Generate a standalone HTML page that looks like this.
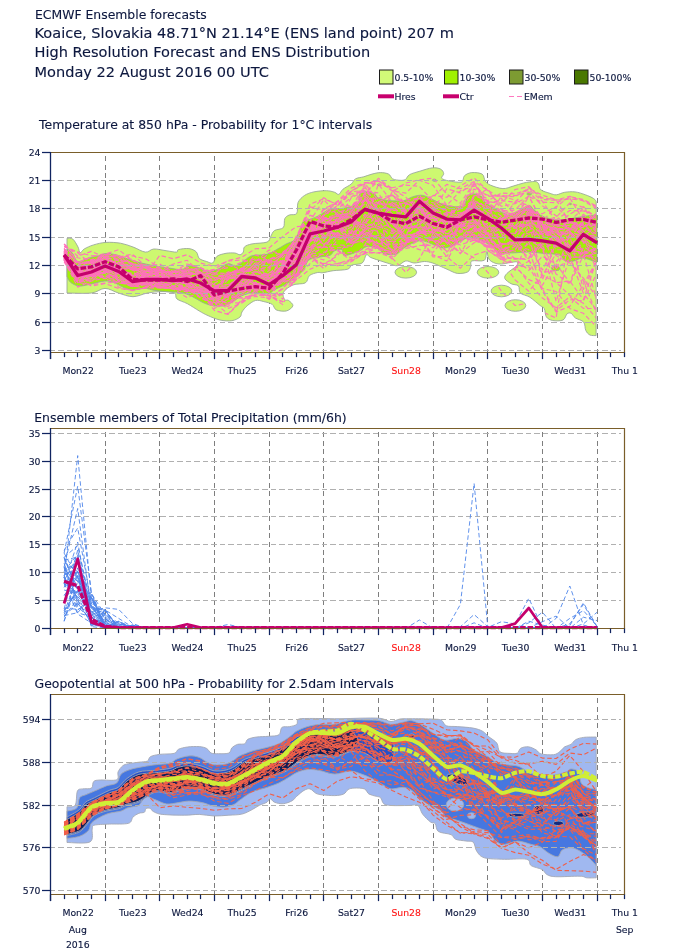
<!DOCTYPE html>
<html><head><meta charset="utf-8"><title>ECMWF Ensemble forecasts</title>
<style>
html,body{margin:0;padding:0;background:#fff}
svg{display:block}
text{font-family:"DejaVu Sans","Liberation Sans",sans-serif;fill:#0c173e;stroke:#0c173e;stroke-width:0.12px}
.t1{font-size:12.4px}.t2{font-size:14.56px}.ct{font-size:12.45px}
.tk{font-size:9.3px}.lg{font-size:9.3px}
.grid line{stroke-width:1;fill:none;shape-rendering:crispEdges}
.gh{stroke:#b0b0b0;stroke-dasharray:5.2 3.3}
.gv{stroke:#7e7e7e;stroke-dasharray:5 3.4}
.ax{stroke:#102460;stroke-width:1.3;fill:none}
.fr{stroke:#7a5e2a;stroke-width:1.2;fill:none}
.tick line{stroke:#102460;stroke-width:1.25}
.mem path{fill:none;stroke-width:1.15;stroke-dasharray:4.5 2.6;stroke-linejoin:round}
.m3 path{stroke-width:1.12}
.m2 path{stroke-width:0.9}
</style></head><body>
<svg width="675" height="951" viewBox="0 0 675 951">
<rect width="675" height="951" fill="#fff"/>
<text class="t1" x="35" y="18.5">ECMWF Ensemble forecasts</text>
<text class="t2" x="34.5" y="38">Koaice, Slovakia 48.71°N 21.14°E (ENS land point) 207 m</text>
<text class="t2" x="34.5" y="57.2">High Resolution Forecast and ENS Distribution</text>
<text class="t2" x="34.5" y="76.8">Monday 22 August 2016 00 UTC</text>
<rect x="379.5" y="70" width="13.5" height="14" fill="#d2fa78" stroke="#1c1c1c" stroke-width="1"/>
<text class="lg" x="394.5" y="80.5">0.5-10%</text>
<rect x="444.5" y="70" width="13.5" height="14" fill="#a0f000" stroke="#1c1c1c" stroke-width="1"/>
<text class="lg" x="459.5" y="80.5">10-30%</text>
<rect x="509.5" y="70" width="13.5" height="14" fill="#7d9b32" stroke="#1c1c1c" stroke-width="1"/>
<text class="lg" x="524.5" y="80.5">30-50%</text>
<rect x="574.5" y="70" width="13.5" height="14" fill="#4a7800" stroke="#1c1c1c" stroke-width="1"/>
<text class="lg" x="589.5" y="80.5">50-100%</text>
<line x1="378" y1="96.3" x2="394" y2="96.3" stroke="#c8006e" stroke-width="4"/>
<text class="lg" x="394.5" y="99.5">Hres</text>
<line x1="443" y1="96.3" x2="459" y2="96.3" stroke="#c8006e" stroke-width="4"/>
<text class="lg" x="459.5" y="99.5">Ctr</text>
<line x1="509" y1="96.5" x2="523" y2="96.5" stroke="#ff78c0" stroke-width="1" stroke-dasharray="5 3"/>
<text class="lg" x="524" y="99.5">EMem</text>
<text class="ct" x="39" y="129">Temperature at 850 hPa - Probability for 1°C intervals</text>
<g class="grid">
<line class="gv" x1="105.5" y1="156.1" x2="105.5" y2="352.6"/>
<line class="gv" x1="159.5" y1="156.1" x2="159.5" y2="352.6"/>
<line class="gv" x1="214.5" y1="156.1" x2="214.5" y2="352.6"/>
<line class="gv" x1="269.5" y1="156.1" x2="269.5" y2="352.6"/>
<line class="gv" x1="323.5" y1="156.1" x2="323.5" y2="352.6"/>
<line class="gv" x1="378.5" y1="156.1" x2="378.5" y2="352.6"/>
<line class="gv" x1="433.5" y1="156.1" x2="433.5" y2="352.6"/>
<line class="gv" x1="487.5" y1="156.1" x2="487.5" y2="352.6"/>
<line class="gv" x1="542.5" y1="156.1" x2="542.5" y2="352.6"/>
<line class="gv" x1="597.5" y1="156.1" x2="597.5" y2="352.6"/>
</g>
<clipPath id="c1"><path d="M67 238.3C68 238.4 71 237.6 72.8 239.1C74.6 240.5 76.8 244.7 78 247C79.2 249.2 79 252.4 80.1 252.8C81.1 253.1 82 250.4 84.2 249C86.5 247.7 89.9 246 93.6 244.9C97.2 243.8 101.5 242.7 106 242.4C110.5 242.1 116 242.5 120.5 243.2C125 244 128.8 245.5 133 247C137.1 248.4 142 251.8 145.4 252.1C148.9 252.5 150.2 249.3 153.7 249C157.2 248.8 162.3 250.2 166.1 250.7C170 251.2 174.5 252.3 176.5 252.1C178.6 252 176.4 250.2 178.5 249.6C180.6 249 185.9 248.2 188.9 248.6C191.9 249 194.6 250.2 196.3 251.9C198 253.6 197.6 256.9 199.3 258.5C201 260.1 204.5 260.8 206.7 261.5C208.9 262.2 210.9 263.9 212.6 263C214.3 262.1 214.8 257.9 217 256.3C219.2 254.7 223 253.9 226 253.3C229 252.8 232.5 252.8 234.8 253C237.1 253.2 238.6 255 240 254.8C241.4 254.6 242.6 253.3 243.3 252C244.1 250.7 243.1 248.2 244.5 246.9C245.9 245.6 248.2 244.7 252 243.9C255.8 243.1 263.9 243.3 267 242.1C270.1 240.9 269.5 238.4 270.7 236.5C271.9 234.6 272.3 232.1 274.4 230.6C276.5 229.1 281.6 229.6 283.3 227.6C285 225.6 283.8 220.8 284.8 218.7C285.8 216.6 287.3 215.9 289.3 215C291.3 214.1 295.2 215.6 296.7 213.5C298.2 211.4 296.8 205.4 298.1 202.4C299.4 199.4 302 197.2 304.6 195.4C307.2 193.7 310.3 192.7 313.9 191.9C317.6 191.1 322.9 190.6 326.4 190.7C329.8 190.7 332.6 191.7 334.7 192.3C336.7 193 337.4 194.9 338.8 194.4C340.2 193.9 340.9 191 343 189.2C345 187.5 349.2 185.8 351.3 184C353.3 182.3 353.3 180.1 355.4 178.9C357.5 177.6 360.9 177.6 363.7 176.8C366.5 176 369.2 174.8 372 174.1C374.8 173.4 377.5 172.6 380.3 172.6C383.1 172.6 386.5 173 388.6 174.1C390.7 175.1 390.8 177.8 392.7 178.9C394.6 179.9 397.9 180.2 400 180.3C402.1 180.4 403.8 180.4 405.4 179.5C407 178.5 407.1 176.1 409.5 174.7C411.9 173.3 416.1 172.3 419.9 171.2C423.7 170 428.9 168.2 432.3 167.9C435.8 167.5 438.7 168.1 440.6 169.1C442.5 170.1 443.6 172.1 443.7 173.7C443.9 175.2 440.8 177 441.7 178.2C442.5 179.4 445.6 180.3 448.9 180.9C452.2 181.5 458.8 182.8 461.4 182C464 181.1 462.8 177.3 464.5 175.7C466.2 174.2 468.8 172.9 471.7 172.6C474.7 172.4 479.9 172.7 482.1 174.1C484.4 175.5 483.8 179.1 485.2 180.9C486.6 182.8 487.5 183.8 490.4 185.1C493.3 186.4 499 188.4 502.9 188.6C506.7 188.8 509.8 187 513.2 186.1C516.7 185.2 520 183.8 523.6 183C527.2 182.2 532.5 181.4 535 181.5C537.5 181.7 537.8 182.7 538.7 184C539.7 185.4 538.9 188.3 540.8 189.8C542.7 191.4 547.6 192.5 550.1 193.4C552.7 194.2 554 195 556.4 194.8C558.8 194.6 561.6 192.8 564.7 192.3C567.8 191.8 571.6 191.5 575 191.9C578.5 192.3 582.3 193.7 585.4 194.8C588.5 195.9 591.9 197.4 593.7 198.6C595.5 199.7 595.8 201.1 596.2 201.7L596.1 335.6C595.1 335.5 591.7 335.8 589.9 335C588.2 334.1 586.8 332.6 585.8 330.4C584.7 328.3 585.4 324.2 583.7 322.1C582 320 577.5 319.4 575.4 318C573.3 316.5 572.6 314.1 571.3 313.4C569.9 312.7 568.5 312.7 567.1 313.8C565.7 314.9 565.4 318.9 563 320C560.5 321.1 555.4 321 552.6 320.5C549.8 319.9 547.8 318.9 546.4 316.9C545 315 545.3 310.5 544.3 308.6C543.3 306.7 542.6 307.4 540.1 305.5C537.7 303.6 533.1 299.3 529.8 297.2C526.5 295.1 522.3 295 520.4 293.1C518.5 291.2 519.9 287.4 518.4 285.8C516.8 284.3 513.4 285 511.1 283.7C508.9 282.5 505.6 280.3 504.9 278.6C504.2 276.8 505.1 275.4 507 273.4C508.9 271.3 514.6 268 516.3 266.1C518 264.2 517.9 262.6 517.1 262C516.2 261.3 514.3 262 511.3 262.4C508.2 262.7 502.4 264.5 498.8 264C495.2 263.6 491.5 262 489.5 259.9C487.5 257.8 487.6 251.5 486.8 251.6C485.9 251.7 486.8 258.7 484.3 260.3C481.8 261.9 474.1 260 471.9 260.9C469.6 261.9 471.5 264.3 470.8 266.1C470.1 267.9 470 270.7 467.7 271.9C465.5 273.1 460.8 273.8 457.3 273.4C453.9 272.9 449.9 270.4 447 269.2C444.1 268 442.4 267.1 440 266.1C437.6 265.1 435.3 263.8 432.7 263C430.1 262.2 427.6 261.5 424.4 261.5C421.3 261.5 417.2 263.1 414.1 263C411 262.9 408.5 260.5 405.8 260.9C403 261.4 400.2 265.2 397.5 265.7C394.7 266.1 392.3 264.5 389.2 263.6C386.1 262.7 381.9 261.3 378.8 260.3C375.7 259.3 372.6 258.3 370.5 257.4C368.4 256.5 367.8 253.8 366.4 254.7C365 255.6 364.6 261.3 362.2 263C359.8 264.7 354.3 264 351.9 265.1C349.4 266.1 350.8 268.3 347.7 269.2C344.6 270.2 337.3 270.1 333.2 270.7C329 271.3 325.4 272.4 322.8 272.7C320.2 273.1 320 272 317.7 272.5C315.5 273 311.5 273.9 309.4 275.6C307.4 277.4 308.1 281.3 305.3 282.9C302.5 284.4 296.5 283.4 292.9 285C289.2 286.5 284.9 289.8 283.5 292.2C282.1 294.6 283.7 298.1 284.6 299.5C285.4 300.9 287.3 299.5 288.7 300.5C290.1 301.6 293.2 304 292.9 305.7C292.5 307.4 289.4 310.2 286.6 310.9C283.9 311.6 278.7 311 276.3 309.9C273.8 308.7 274.2 305.6 272.1 304.3C270 302.9 266.6 302.2 263.8 301.6C261 300.9 258.3 299.8 255.5 300.5C252.8 301.2 249.5 303.8 247.2 305.7C245 307.6 243.2 310 242 311.9C240.8 313.8 241.7 315.5 240 317C238.3 318.5 235.2 320.2 231.9 320.7C228.6 321.2 224 320.9 220 320C216 319.1 211.4 317.1 208 315.6C204.6 314.1 202.7 313 199.3 311C195.9 309 191.1 305.7 187.4 303.7C183.7 301.7 179.2 300.8 177 299C174.8 297.2 176.9 294.2 174.4 293C171.9 291.8 166.5 291.6 162 291.6C157.5 291.6 152.3 292.1 147.5 293C142.6 293.9 137.8 296.7 133 296.7C128.1 296.7 123.1 294.4 118.4 293C113.8 291.6 109.5 288.4 105 288.4C100.5 288.4 97.8 292.2 91.5 293C85.2 293.8 71.1 293 67 293Z"/><rect x="62" y="238" width="6" height="32"/>
<ellipse cx="405.8" cy="272.3" rx="10.8" ry="5.8"/>
<ellipse cx="488" cy="272.3" rx="10.8" ry="5.8"/>
<ellipse cx="501.5" cy="291" rx="10.4" ry="5.8"/>
<ellipse cx="515.4" cy="305.5" rx="10.4" ry="5.8"/>
</clipPath>
<g stroke="#9aa89a" stroke-width="0.9">
<path fill="#cdf870" d="M67 238.3C68 238.4 71 237.6 72.8 239.1C74.6 240.5 76.8 244.7 78 247C79.2 249.2 79 252.4 80.1 252.8C81.1 253.1 82 250.4 84.2 249C86.5 247.7 89.9 246 93.6 244.9C97.2 243.8 101.5 242.7 106 242.4C110.5 242.1 116 242.5 120.5 243.2C125 244 128.8 245.5 133 247C137.1 248.4 142 251.8 145.4 252.1C148.9 252.5 150.2 249.3 153.7 249C157.2 248.8 162.3 250.2 166.1 250.7C170 251.2 174.5 252.3 176.5 252.1C178.6 252 176.4 250.2 178.5 249.6C180.6 249 185.9 248.2 188.9 248.6C191.9 249 194.6 250.2 196.3 251.9C198 253.6 197.6 256.9 199.3 258.5C201 260.1 204.5 260.8 206.7 261.5C208.9 262.2 210.9 263.9 212.6 263C214.3 262.1 214.8 257.9 217 256.3C219.2 254.7 223 253.9 226 253.3C229 252.8 232.5 252.8 234.8 253C237.1 253.2 238.6 255 240 254.8C241.4 254.6 242.6 253.3 243.3 252C244.1 250.7 243.1 248.2 244.5 246.9C245.9 245.6 248.2 244.7 252 243.9C255.8 243.1 263.9 243.3 267 242.1C270.1 240.9 269.5 238.4 270.7 236.5C271.9 234.6 272.3 232.1 274.4 230.6C276.5 229.1 281.6 229.6 283.3 227.6C285 225.6 283.8 220.8 284.8 218.7C285.8 216.6 287.3 215.9 289.3 215C291.3 214.1 295.2 215.6 296.7 213.5C298.2 211.4 296.8 205.4 298.1 202.4C299.4 199.4 302 197.2 304.6 195.4C307.2 193.7 310.3 192.7 313.9 191.9C317.6 191.1 322.9 190.6 326.4 190.7C329.8 190.7 332.6 191.7 334.7 192.3C336.7 193 337.4 194.9 338.8 194.4C340.2 193.9 340.9 191 343 189.2C345 187.5 349.2 185.8 351.3 184C353.3 182.3 353.3 180.1 355.4 178.9C357.5 177.6 360.9 177.6 363.7 176.8C366.5 176 369.2 174.8 372 174.1C374.8 173.4 377.5 172.6 380.3 172.6C383.1 172.6 386.5 173 388.6 174.1C390.7 175.1 390.8 177.8 392.7 178.9C394.6 179.9 397.9 180.2 400 180.3C402.1 180.4 403.8 180.4 405.4 179.5C407 178.5 407.1 176.1 409.5 174.7C411.9 173.3 416.1 172.3 419.9 171.2C423.7 170 428.9 168.2 432.3 167.9C435.8 167.5 438.7 168.1 440.6 169.1C442.5 170.1 443.6 172.1 443.7 173.7C443.9 175.2 440.8 177 441.7 178.2C442.5 179.4 445.6 180.3 448.9 180.9C452.2 181.5 458.8 182.8 461.4 182C464 181.1 462.8 177.3 464.5 175.7C466.2 174.2 468.8 172.9 471.7 172.6C474.7 172.4 479.9 172.7 482.1 174.1C484.4 175.5 483.8 179.1 485.2 180.9C486.6 182.8 487.5 183.8 490.4 185.1C493.3 186.4 499 188.4 502.9 188.6C506.7 188.8 509.8 187 513.2 186.1C516.7 185.2 520 183.8 523.6 183C527.2 182.2 532.5 181.4 535 181.5C537.5 181.7 537.8 182.7 538.7 184C539.7 185.4 538.9 188.3 540.8 189.8C542.7 191.4 547.6 192.5 550.1 193.4C552.7 194.2 554 195 556.4 194.8C558.8 194.6 561.6 192.8 564.7 192.3C567.8 191.8 571.6 191.5 575 191.9C578.5 192.3 582.3 193.7 585.4 194.8C588.5 195.9 591.9 197.4 593.7 198.6C595.5 199.7 595.8 201.1 596.2 201.7L596.1 335.6C595.1 335.5 591.7 335.8 589.9 335C588.2 334.1 586.8 332.6 585.8 330.4C584.7 328.3 585.4 324.2 583.7 322.1C582 320 577.5 319.4 575.4 318C573.3 316.5 572.6 314.1 571.3 313.4C569.9 312.7 568.5 312.7 567.1 313.8C565.7 314.9 565.4 318.9 563 320C560.5 321.1 555.4 321 552.6 320.5C549.8 319.9 547.8 318.9 546.4 316.9C545 315 545.3 310.5 544.3 308.6C543.3 306.7 542.6 307.4 540.1 305.5C537.7 303.6 533.1 299.3 529.8 297.2C526.5 295.1 522.3 295 520.4 293.1C518.5 291.2 519.9 287.4 518.4 285.8C516.8 284.3 513.4 285 511.1 283.7C508.9 282.5 505.6 280.3 504.9 278.6C504.2 276.8 505.1 275.4 507 273.4C508.9 271.3 514.6 268 516.3 266.1C518 264.2 517.9 262.6 517.1 262C516.2 261.3 514.3 262 511.3 262.4C508.2 262.7 502.4 264.5 498.8 264C495.2 263.6 491.5 262 489.5 259.9C487.5 257.8 487.6 251.5 486.8 251.6C485.9 251.7 486.8 258.7 484.3 260.3C481.8 261.9 474.1 260 471.9 260.9C469.6 261.9 471.5 264.3 470.8 266.1C470.1 267.9 470 270.7 467.7 271.9C465.5 273.1 460.8 273.8 457.3 273.4C453.9 272.9 449.9 270.4 447 269.2C444.1 268 442.4 267.1 440 266.1C437.6 265.1 435.3 263.8 432.7 263C430.1 262.2 427.6 261.5 424.4 261.5C421.3 261.5 417.2 263.1 414.1 263C411 262.9 408.5 260.5 405.8 260.9C403 261.4 400.2 265.2 397.5 265.7C394.7 266.1 392.3 264.5 389.2 263.6C386.1 262.7 381.9 261.3 378.8 260.3C375.7 259.3 372.6 258.3 370.5 257.4C368.4 256.5 367.8 253.8 366.4 254.7C365 255.6 364.6 261.3 362.2 263C359.8 264.7 354.3 264 351.9 265.1C349.4 266.1 350.8 268.3 347.7 269.2C344.6 270.2 337.3 270.1 333.2 270.7C329 271.3 325.4 272.4 322.8 272.7C320.2 273.1 320 272 317.7 272.5C315.5 273 311.5 273.9 309.4 275.6C307.4 277.4 308.1 281.3 305.3 282.9C302.5 284.4 296.5 283.4 292.9 285C289.2 286.5 284.9 289.8 283.5 292.2C282.1 294.6 283.7 298.1 284.6 299.5C285.4 300.9 287.3 299.5 288.7 300.5C290.1 301.6 293.2 304 292.9 305.7C292.5 307.4 289.4 310.2 286.6 310.9C283.9 311.6 278.7 311 276.3 309.9C273.8 308.7 274.2 305.6 272.1 304.3C270 302.9 266.6 302.2 263.8 301.6C261 300.9 258.3 299.8 255.5 300.5C252.8 301.2 249.5 303.8 247.2 305.7C245 307.6 243.2 310 242 311.9C240.8 313.8 241.7 315.5 240 317C238.3 318.5 235.2 320.2 231.9 320.7C228.6 321.2 224 320.9 220 320C216 319.1 211.4 317.1 208 315.6C204.6 314.1 202.7 313 199.3 311C195.9 309 191.1 305.7 187.4 303.7C183.7 301.7 179.2 300.8 177 299C174.8 297.2 176.9 294.2 174.4 293C171.9 291.8 166.5 291.6 162 291.6C157.5 291.6 152.3 292.1 147.5 293C142.6 293.9 137.8 296.7 133 296.7C128.1 296.7 123.1 294.4 118.4 293C113.8 291.6 109.5 288.4 105 288.4C100.5 288.4 97.8 292.2 91.5 293C85.2 293.8 71.1 293 67 293Z"/>
<ellipse cx="405.8" cy="272.3" rx="10.8" ry="5.8" fill="#cdf870"/>
<ellipse cx="488" cy="272.3" rx="10.8" ry="5.8" fill="#cdf870"/>
<ellipse cx="501.5" cy="291" rx="10.4" ry="5.8" fill="#cdf870"/>
<ellipse cx="515.4" cy="305.5" rx="10.4" ry="5.8" fill="#cdf870"/>
<path fill="#a2ee08" d="M67 249C67.9 249.6 70.7 251 72.2 252.8C73.7 254.6 74.8 258.5 76 260C77.2 261.5 77.5 262 79.6 261.7C81.7 261.4 85.3 259 88.5 258C91.7 257 96 256.4 99 255.7C102 254.9 103.3 253.6 106.3 253.5C109.2 253.4 113.2 254.1 116.7 255C120.2 255.9 123.3 257.5 127 258.7C130.7 259.9 134.4 261.2 139 262.4C143.6 263.6 149.7 264.9 154.8 265.9C159.9 266.8 165.2 267.5 169.6 268.1C174 268.7 178.3 270 181.5 269.6C184.7 269.2 185.9 266.1 188.9 265.9C191.9 265.6 196.3 267.1 199.3 268.1C202.3 269.1 203.8 271.6 206.7 271.9C209.6 272.1 214.3 270.6 217 269.6C219.7 268.6 221 266.9 223 265.9C225 264.9 226.9 263.7 228.9 263.7C230.9 263.7 233.1 265.8 234.8 265.9C236.5 266 237.2 265.6 238.9 264.6C240.6 263.7 242.6 261.7 244.8 260.2C247 258.7 248.5 256.7 252.2 255.7C255.9 254.7 262.6 255.5 267 254.3C271.4 253.1 275.7 250 278.9 248.3C282.1 246.6 283.6 245.4 286.3 243.9C289 242.4 292.7 242.4 295.2 239.4C297.7 236.4 299.6 229.2 301.1 226.1C302.6 223 302.5 222 304 220.9C305.5 219.8 307.5 220.3 310 219.4C312.5 218.5 315.6 217.4 318.9 215.7C322.2 214 325.5 210.7 329.8 209.4C334.1 208.1 339.9 209 344.6 208C349.3 207 355.5 205.7 358 203.5C360.5 201.3 358.2 196.6 359.4 194.6C360.6 192.6 362.9 191.8 365.4 191.7C367.9 191.6 372.1 192.8 374.3 193.9C376.5 195 376.2 197.2 378.7 198.3C381.1 199.4 384.8 200.2 389 200.6C393.2 201 400 201.2 403.9 200.6C407.8 200 409.2 197.8 412.4 196.9C415.5 196 419.1 194.8 422.8 195.4C426.5 196 430.7 198.9 434.6 200.6C438.6 202.3 442.1 204.7 446.5 205.7C450.9 206.7 458.1 207.1 461.3 206.5C464.5 205.9 464.7 203.7 465.7 202C466.7 200.3 465.7 197.4 467.2 196.1C468.7 194.8 472.1 193.8 474.6 193.9C477.1 194 480.3 195.6 482 196.9C483.7 198.2 483 200.2 485 202C487 203.8 490.6 206 493.9 208C497.2 210 502.5 212.7 505 213.9C507.5 215.1 506.5 215.6 508.9 215C511.3 214.4 516 212.2 519.3 210.6C522.6 209 526.4 205.5 528.9 205.4C531.4 205.3 531.6 208 534 209.8C536.4 211.7 538.8 214.8 543 216.5C547.2 218.2 554.1 219.9 559.3 220.2C564.5 220.4 569.1 218.8 574 218C578.9 217.2 585.1 216.2 588.9 215.7C592.7 215.2 595.6 215.1 597 215L597 262.4C594.7 261.7 586.8 258.2 583 258C579.2 257.8 577 260.4 574 260.9C571 261.4 567.7 261.9 565.2 260.9C562.8 259.9 562.8 256.2 559.3 255C555.8 253.8 549.3 254 544.4 253.5C539.5 253 534.5 252.1 529.6 252C524.7 251.9 518.9 252.6 514.8 252.8C510.7 253 507.5 252.8 505 253C502.5 253.2 501.7 254.7 499.8 253.9C497.9 253.1 496.9 250.2 493.9 248C490.9 245.8 485.7 242.3 482 240.6C478.3 238.9 474.6 237.8 471.7 237.6C468.8 237.3 467.3 237.9 464.3 239.1C461.3 240.3 457.4 243.5 453.9 245C450.4 246.5 446.7 248 443.5 248C440.3 248 438.6 246.2 434.6 245C430.7 243.8 424.9 240.1 419.8 240.6C414.7 241.1 407.8 245.8 403.9 248C400 250.2 399.7 252.9 396.5 253.9C393.3 254.9 387.8 254.9 384.6 253.9C381.4 252.9 380.1 249.2 377.2 248C374.2 246.8 369.9 246 366.9 246.5C363.9 247 363.1 249.4 359.4 250.9C355.7 252.4 347.6 255.7 344.6 255.4C341.7 255.2 343.4 250.2 341.7 249.4C340 248.7 336.3 249.9 334.3 250.9C332.3 251.9 332.4 254.4 329.8 255.4C327.2 256.4 322.4 256.4 318.9 257.2C315.3 258 311 258.2 308.5 260.2C306 262.2 306.2 266.1 304 269.1C301.8 272.1 298.1 275.5 295.2 278C292.2 280.5 289.8 281.9 286.3 283.9C282.8 285.9 277.4 288.2 274.4 289.8C271.4 291.4 271.9 293 268.5 293.5C265.1 294 258.1 292.4 253.7 292.8C249.3 293.2 245.5 294.1 241.9 295.7C238.3 297.3 235.1 300.5 231.9 302.2C228.8 303.9 226.5 305.4 223 305.9C219.5 306.4 214.6 305.8 211.1 305.2C207.6 304.6 205.4 303.7 202.2 302.2C199 300.7 195.3 297.9 191.9 296.3C188.5 294.7 185.2 293.3 181.5 292.6C177.8 291.9 174 292.3 169.6 291.9C165.2 291.5 158.9 291 154.8 290.4C150.7 289.8 148.4 288.4 144.8 288.3C141.2 288.2 136.5 289.9 133 289.8C129.5 289.7 127.2 288.8 124 287.6C120.8 286.4 116.9 283.5 113.7 282.4C110.5 281.3 108.5 280.8 104.8 281C101.1 281.2 95.7 283.1 91.5 283.9C87.3 284.7 83.1 286.2 79.6 286C76.1 285.8 72.8 284 70.7 282.4C68.6 280.8 67.6 277.5 67 276.5Z"/>
<ellipse cx="555.7" cy="268.4" rx="4.2" ry="2.2" fill="#a2ee08"/>
<ellipse cx="434.4" cy="180.2" rx="2" ry="1" fill="#a2ee08"/>
<ellipse cx="529.2" cy="194" rx="2.4" ry="1.1" fill="#a2ee08"/>
<ellipse cx="379" cy="184.8" rx="1.6" ry="0.9" fill="#a2ee08"/>
<ellipse cx="296" cy="248" rx="1.5" ry="0.8" fill="#a2ee08"/>
<ellipse cx="570.5" cy="204" rx="1" ry="0.7" fill="#a2ee08"/>
</g>
<g class="mem" stroke="#ff72bc" clip-path="url(#c1)">
<path d="M64.1 259.2L77.7 282.9L91.4 277.7L105.1 270.9L118.7 280.9L132.4 282.9L146.1 283.3L159.7 282.1L173.4 286.4L187.1 286L200.7 297.8L214.4 304.4L228.1 296.6L241.7 284.9L255.4 288.3L269.1 286.7L282.7 264.3L296.4 237.8L310.1 215.3L323.8 220.7L337.4 226.5L351.1 232.8L364.8 198.6L378.4 215.7L392.1 220.4L405.8 240.2L419.4 233.2L433.1 233.3L446.8 221.7L460.4 220.7L474.1 204.5L487.8 218L501.4 220.5L515.1 212.5L528.8 205.6L542.4 231.2L556.1 237.4L569.8 257.1L583.4 257.1L597.1 252.8"/>
<path d="M64.1 258.7L77.7 277.8L91.4 274.7L105.1 271L118.7 280.5L132.4 286.8L146.1 284.4L159.7 283.5L173.4 288.9L187.1 289.8L200.7 290.6L214.4 296.6L228.1 296.9L241.7 297.9L255.4 295L269.1 295.8L282.7 301.8L296.4 274.6L310.1 255.2L323.8 246.8L337.4 232.7L351.1 241.2L364.8 231.6L378.4 238L392.1 250L405.8 235.1L419.4 223.1L433.1 211.5L446.8 218.9L460.4 205.5L474.1 188.9L487.8 195.3L501.4 196.2L515.1 195.6L528.8 191.9L542.4 205.9L556.1 215.7L569.8 229.9L583.4 214.3L597.1 228.2"/>
<path d="M64.1 251L77.7 272L91.4 275.1L105.1 266.1L118.7 263.2L132.4 267.9L146.1 271.7L159.7 270.4L173.4 276.6L187.1 272.1L200.7 273.3L214.4 280.3L228.1 273.7L241.7 268.2L255.4 263.1L269.1 262.8L282.7 264.6L296.4 242.1L310.1 206.9L323.8 210L337.4 201.3L351.1 188.1L364.8 182.6L378.4 184.4L392.1 187.8L405.8 185.1L419.4 186.4L433.1 201.1L446.8 204.9L460.4 208L474.1 200.6L487.8 207.7L501.4 209L515.1 217.3L528.8 214.7L542.4 222.5L556.1 236.1L569.8 245.4L583.4 254.6L597.1 249.5"/>
<path d="M64.1 251.8L77.7 277.3L91.4 276L105.1 276.5L118.7 278.2L132.4 284.1L146.1 283.2L159.7 285.3L173.4 281.2L187.1 283.6L200.7 293.7L214.4 288.2L228.1 294.9L241.7 284.2L255.4 278.2L269.1 280.7L282.7 271.9L296.4 267.2L310.1 241.6L323.8 215.9L337.4 205.7L351.1 191.8L364.8 190.3L378.4 201.9L392.1 195.4L405.8 203L419.4 212.8L433.1 215.2L446.8 238L460.4 244.9L474.1 240.1L487.8 233.6L501.4 251.8L515.1 250.1L528.8 224.7L542.4 225.6L556.1 245L569.8 235.7L583.4 289.4L597.1 260.3"/>
<path d="M64.1 257.7L77.7 271.9L91.4 273.7L105.1 263L118.7 269L132.4 275.9L146.1 271.4L159.7 275L173.4 278L187.1 279.6L200.7 291.4L214.4 289.6L228.1 277.3L241.7 278.2L255.4 284.1L269.1 299.2L282.7 287.9L296.4 276.1L310.1 238L323.8 229.5L337.4 234L351.1 227.2L364.8 206.9L378.4 215.7L392.1 209.5L405.8 216.8L419.4 218.3L433.1 218.5L446.8 212.2L460.4 212.8L474.1 212.8L487.8 217L501.4 196.1L515.1 200L528.8 205.9L542.4 220.4L556.1 217.2L569.8 203L583.4 207.4L597.1 226.4"/>
<path d="M64.1 255.7L77.7 267.2L91.4 262.8L105.1 266.6L118.7 274.4L132.4 286.4L146.1 278.8L159.7 282.5L173.4 279.5L187.1 279.7L200.7 279.4L214.4 290.2L228.1 278.4L241.7 267.9L255.4 260.3L269.1 259.5L282.7 252.3L296.4 241.4L310.1 231.3L323.8 227.7L337.4 220.9L351.1 243.8L364.8 240.7L378.4 247.6L392.1 252.4L405.8 242.2L419.4 233.5L433.1 231.2L446.8 243.3L460.4 238.3L474.1 231.7L487.8 223.3L501.4 244.4L515.1 241.2L528.8 239.6L542.4 248.5L556.1 241.9L569.8 231.8L583.4 242.1L597.1 249.9"/>
<path d="M64.1 259.8L77.7 280.5L91.4 273.8L105.1 266.8L118.7 269.3L132.4 274.1L146.1 278.9L159.7 275.4L173.4 280.7L187.1 275.5L200.7 283.8L214.4 295.8L228.1 287.8L241.7 272.9L255.4 279.5L269.1 270.5L282.7 252.9L296.4 256.1L310.1 228.7L323.8 214.9L337.4 205.9L351.1 193.9L364.8 192L378.4 211.6L392.1 220.6L405.8 225L419.4 207L433.1 214.3L446.8 235.2L460.4 221.1L474.1 207.7L487.8 226.3L501.4 217.6L515.1 218L528.8 218L542.4 233.9L556.1 237.1L569.8 229.5L583.4 231.2L597.1 223"/>
<path d="M64.1 257.8L77.7 277.5L91.4 286.1L105.1 283.5L118.7 288.5L132.4 290.1L146.1 288.1L159.7 285.8L173.4 288.9L187.1 289L200.7 292.7L214.4 310.5L228.1 314.4L241.7 301L255.4 296.4L269.1 298L282.7 289L296.4 270.3L310.1 257.1L323.8 264.2L337.4 255.8L351.1 236.9L364.8 233.9L378.4 248L392.1 248.2L405.8 241.6L419.4 231.5L433.1 223.3L446.8 221.5L460.4 226.3L474.1 218.7L487.8 234.1L501.4 251L515.1 238.6L528.8 219.3L542.4 224.7L556.1 240.1L569.8 249.8L583.4 237.6L597.1 239.1"/>
<path d="M64.1 257.1L77.7 268.7L91.4 266.2L105.1 263.4L118.7 270.5L132.4 280L146.1 275.8L159.7 284.2L173.4 286L187.1 290.7L200.7 292.3L214.4 308.6L228.1 299.1L241.7 293.2L255.4 284.4L269.1 280.9L282.7 273.1L296.4 256.7L310.1 240.7L323.8 238L337.4 223.2L351.1 237.1L364.8 214.2L378.4 222.3L392.1 239L405.8 225.3L419.4 227.7L433.1 229.3L446.8 233.5L460.4 232.7L474.1 225.2L487.8 242.3L501.4 257.3L515.1 259.2L528.8 258.4L542.4 245.2L556.1 274L569.8 283.9L583.4 255.5L597.1 257.8"/>
<path d="M64.1 246.3L77.7 251.9L91.4 255.8L105.1 256.3L118.7 257L132.4 254.1L146.1 266.7L159.7 275.3L173.4 273.1L187.1 277.4L200.7 278.6L214.4 293.2L228.1 273.2L241.7 276.7L255.4 266.3L269.1 285.4L282.7 272.7L296.4 254.5L310.1 233L323.8 224.9L337.4 215.2L351.1 217.5L364.8 197.8L378.4 224.4L392.1 214L405.8 216.5L419.4 211.7L433.1 203.6L446.8 211.9L460.4 216.2L474.1 205.8L487.8 229.5L501.4 227.2L515.1 228.3L528.8 220.3L542.4 230.1L556.1 234.5L569.8 233.4L583.4 240L597.1 236.8"/>
<path d="M64.1 254.8L77.7 267.8L91.4 266L105.1 259.6L118.7 263.9L132.4 270.1L146.1 271.3L159.7 273.5L173.4 280.4L187.1 283.7L200.7 283.4L214.4 294L228.1 290.5L241.7 288.5L255.4 277.4L269.1 274.2L282.7 266L296.4 247.4L310.1 238.9L323.8 237.9L337.4 235.4L351.1 242.2L364.8 235.9L378.4 248L392.1 259L405.8 244.7L419.4 249.6L433.1 252.3L446.8 236L460.4 230.3L474.1 240.5L487.8 245.4L501.4 255.2L515.1 232.8L528.8 209.3L542.4 219.3L556.1 219.9L569.8 210.5L583.4 211L597.1 215.3"/>
<path d="M64.1 253.5L77.7 270.7L91.4 273.4L105.1 260.6L118.7 260.1L132.4 263.9L146.1 267.8L159.7 269.1L173.4 274.4L187.1 274.7L200.7 272.4L214.4 274.9L228.1 276.3L241.7 275.4L255.4 263.3L269.1 278L282.7 267.2L296.4 250L310.1 224.6L323.8 219L337.4 226.4L351.1 239.3L364.8 219.4L378.4 211.3L392.1 221.9L405.8 221.8L419.4 214.3L433.1 238.8L446.8 229.1L460.4 221.6L474.1 228.4L487.8 246.5L501.4 258.1L515.1 270.4L528.8 239.4L542.4 275L556.1 253.8L569.8 256.4L583.4 293.4L597.1 310.6"/>
<path d="M64.1 257.4L77.7 280.8L91.4 280.3L105.1 276.1L118.7 282.9L132.4 284.8L146.1 282.7L159.7 286.8L173.4 283.3L187.1 289.7L200.7 295.9L214.4 299.7L228.1 302.6L241.7 303.1L255.4 293.4L269.1 295L282.7 304.6L296.4 277.6L310.1 263.5L323.8 252.1L337.4 249.8L351.1 258.1L364.8 253.9L378.4 247.2L392.1 252.3L405.8 239.1L419.4 231.2L433.1 232L446.8 241.7L460.4 253.7L474.1 229.8L487.8 243.7L501.4 254.2L515.1 246.2L528.8 249.5L542.4 288.6L556.1 291.5L569.8 308.5L583.4 313.3L597.1 327.5"/>
<path d="M64.1 250.8L77.7 267.5L91.4 259.6L105.1 256L118.7 257.2L132.4 255.8L146.1 259L159.7 267.7L173.4 271.1L187.1 267.1L200.7 272.4L214.4 277.9L228.1 274.1L241.7 275L255.4 283.5L269.1 289.6L282.7 277.4L296.4 274.7L310.1 236.2L323.8 213.9L337.4 202L351.1 191.1L364.8 182.9L378.4 180.8L392.1 190.7L405.8 203.4L419.4 208.2L433.1 229.9L446.8 227.1L460.4 238.1L474.1 240.4L487.8 242.1L501.4 256.9L515.1 264.3L528.8 283.2L542.4 298L556.1 307.8L569.8 296.8L583.4 308.4L597.1 308.6"/>
<path d="M64.1 256.6L77.7 277.9L91.4 271.9L105.1 262.5L118.7 268.8L132.4 281L146.1 276.1L159.7 273.3L173.4 280.8L187.1 276.2L200.7 286.1L214.4 297.4L228.1 303.7L241.7 294.8L255.4 289.4L269.1 289.5L282.7 279.8L296.4 274.6L310.1 247.4L323.8 234.5L337.4 236.9L351.1 233.1L364.8 226.6L378.4 231.7L392.1 241.3L405.8 241.8L419.4 231.4L433.1 239.3L446.8 256.7L460.4 268.2L474.1 255L487.8 250.6L501.4 259L515.1 267.1L528.8 279.6L542.4 285.3L556.1 261.9L569.8 247.4L583.4 236.2L597.1 271.5"/>
<path d="M64.1 249.8L77.7 264L91.4 262L105.1 258.4L118.7 266.1L132.4 268.9L146.1 273.7L159.7 278.4L173.4 278.5L187.1 276.2L200.7 282.8L214.4 285.5L228.1 287.3L241.7 283.8L255.4 285.5L269.1 287.9L282.7 282.8L296.4 277.5L310.1 256.8L323.8 265L337.4 263.6L351.1 259.5L364.8 250L378.4 243.8L392.1 244.7L405.8 242.4L419.4 235L433.1 240.6L446.8 251.2L460.4 236.7L474.1 239L487.8 246.5L501.4 246.9L515.1 251.3L528.8 243.9L542.4 225.4L556.1 232.9L569.8 233.5L583.4 241L597.1 260"/>
<path d="M64.1 260.4L77.7 282L91.4 269.8L105.1 262L118.7 269L132.4 275.5L146.1 272.4L159.7 275.8L173.4 279.2L187.1 275.3L200.7 272.5L214.4 283.4L228.1 274.8L241.7 273.5L255.4 275.8L269.1 275.3L282.7 270.3L296.4 253.2L310.1 229.5L323.8 208.5L337.4 203.1L351.1 206.3L364.8 193.3L378.4 219.5L392.1 204.3L405.8 222.5L419.4 228.7L433.1 232.7L446.8 225.2L460.4 213.6L474.1 220.6L487.8 234.4L501.4 255.1L515.1 249.5L528.8 233.2L542.4 229.4L556.1 232L569.8 245.9L583.4 231.6L597.1 228.6"/>
<path d="M64.1 255L77.7 269.9L91.4 266L105.1 258.9L118.7 263.5L132.4 266.9L146.1 267.3L159.7 270L173.4 272.3L187.1 269.4L200.7 268.8L214.4 273.5L228.1 264.5L241.7 269.9L255.4 269.6L269.1 261.8L282.7 254.1L296.4 238.7L310.1 204.1L323.8 198.8L337.4 204.4L351.1 191.5L364.8 183.4L378.4 200.5L392.1 213.7L405.8 242.5L419.4 240L433.1 240.5L446.8 241.2L460.4 238.3L474.1 234.4L487.8 246.4L501.4 245.7L515.1 219.3L528.8 220.8L542.4 280L556.1 242.4L569.8 247.1L583.4 256L597.1 235.5"/>
<path d="M64.1 244L77.7 256.2L91.4 251.4L105.1 257.4L118.7 260.5L132.4 268.6L146.1 269L159.7 272.1L173.4 281.3L187.1 288.6L200.7 298.2L214.4 302.9L228.1 313.9L241.7 300L255.4 293.2L269.1 296.2L282.7 278.9L296.4 274.7L310.1 255.7L323.8 260L337.4 239.6L351.1 236.4L364.8 237.4L378.4 243.5L392.1 244.5L405.8 228.2L419.4 227.1L433.1 227.6L446.8 238.9L460.4 253L474.1 242.8L487.8 237L501.4 252.1L515.1 241.5L528.8 261L542.4 272.5L556.1 270.6L569.8 233.7L583.4 235.2L597.1 236.4"/>
<path d="M64.1 249.6L77.7 257.8L91.4 260.4L105.1 260.7L118.7 262.2L132.4 266.4L146.1 270.1L159.7 270.4L173.4 271.7L187.1 264L200.7 267.7L214.4 272.8L228.1 273.5L241.7 268.1L255.4 269.7L269.1 266.8L282.7 255.3L296.4 246.7L310.1 235.6L323.8 209L337.4 209.1L351.1 197.2L364.8 187.6L378.4 212.8L392.1 229.6L405.8 204.4L419.4 198.2L433.1 211.5L446.8 222.8L460.4 220.8L474.1 195.2L487.8 198.2L501.4 249.9L515.1 245L528.8 257.4L542.4 241.1L556.1 242L569.8 221L583.4 225.8L597.1 234.7"/>
<path d="M64.1 256.1L77.7 275.5L91.4 270.2L105.1 279.3L118.7 282.6L132.4 285.4L146.1 284.4L159.7 277.6L173.4 279.8L187.1 291.3L200.7 288.4L214.4 289.1L228.1 276.7L241.7 278.2L255.4 274.1L269.1 287.8L282.7 277.3L296.4 250.7L310.1 226.5L323.8 224.4L337.4 214L351.1 214.6L364.8 218.2L378.4 204.1L392.1 204L405.8 199.9L419.4 198.1L433.1 196.8L446.8 184.4L460.4 188.7L474.1 181.5L487.8 190.4L501.4 198.4L515.1 215.1L528.8 210.5L542.4 224.2L556.1 230.3L569.8 222L583.4 236.5L597.1 234.8"/>
<path d="M64.1 253.1L77.7 267.4L91.4 275.2L105.1 275L118.7 276.2L132.4 283.8L146.1 284.6L159.7 287.8L173.4 287.8L187.1 288.3L200.7 287L214.4 293.2L228.1 279.5L241.7 276L255.4 271.6L269.1 277.1L282.7 266.1L296.4 255.1L310.1 227.3L323.8 245.5L337.4 229.7L351.1 222.8L364.8 222.6L378.4 228.8L392.1 233.4L405.8 227.1L419.4 200.5L433.1 209.9L446.8 188.7L460.4 192.9L474.1 182L487.8 202.9L501.4 210.9L515.1 210.1L528.8 195.7L542.4 222.1L556.1 225.8L569.8 225.5L583.4 224.4L597.1 215.8"/>
<path d="M64.1 259.5L77.7 279.8L91.4 278.8L105.1 271.7L118.7 274L132.4 277.3L146.1 279.3L159.7 280L173.4 278.5L187.1 272.7L200.7 275.1L214.4 277.9L228.1 274L241.7 269.4L255.4 272.1L269.1 268.8L282.7 260.6L296.4 254.8L310.1 229.1L323.8 217.6L337.4 224.5L351.1 208.5L364.8 194.4L378.4 203.5L392.1 204.9L405.8 211.2L419.4 224L433.1 214.8L446.8 213.5L460.4 208L474.1 183.9L487.8 201.9L501.4 203.1L515.1 189.5L528.8 186.6L542.4 199.6L556.1 200.3L569.8 198.9L583.4 200.2L597.1 207.1"/>
<path d="M64.1 253.7L77.7 275.5L91.4 275.6L105.1 272.9L118.7 287.2L132.4 290.7L146.1 287.5L159.7 284.6L173.4 281.9L187.1 283.6L200.7 290.1L214.4 300.5L228.1 303.3L241.7 290.4L255.4 290.8L269.1 299.3L282.7 293.9L296.4 274.3L310.1 256.3L323.8 268.6L337.4 253.3L351.1 252.4L364.8 251.6L378.4 246.1L392.1 255.2L405.8 243L419.4 235.2L433.1 225.7L446.8 215.5L460.4 208.8L474.1 191.4L487.8 202.4L501.4 200.6L515.1 202.1L528.8 188.3L542.4 195.2L556.1 199.7L569.8 222.8L583.4 225.7L597.1 223.2"/>
<path d="M64.1 259.2L77.7 266L91.4 261.8L105.1 263.1L118.7 271.4L132.4 277.9L146.1 273.2L159.7 270.2L173.4 276.5L187.1 269.9L200.7 285.8L214.4 288L228.1 276.9L241.7 280.6L255.4 276L269.1 273.3L282.7 264.2L296.4 256.2L310.1 231.7L323.8 218.9L337.4 216.3L351.1 218.7L364.8 227.8L378.4 219.9L392.1 228.8L405.8 238.1L419.4 239.7L433.1 256.9L446.8 256.3L460.4 237.8L474.1 223.3L487.8 214.4L501.4 228.5L515.1 227.8L528.8 234.2L542.4 234L556.1 228.6L569.8 230.7L583.4 252.1L597.1 248.9"/>
<path d="M64.1 255.2L77.7 269.4L91.4 266.5L105.1 269.8L118.7 268.4L132.4 267.7L146.1 264.8L159.7 268.1L173.4 275.7L187.1 272.6L200.7 271.3L214.4 269.4L228.1 260.5L241.7 257.3L255.4 248.8L269.1 247.9L282.7 236.6L296.4 226.6L310.1 225.9L323.8 226.8L337.4 212.4L351.1 208.4L364.8 184.2L378.4 180.9L392.1 188.3L405.8 214.9L419.4 221.7L433.1 225L446.8 229.1L460.4 214.5L474.1 202.7L487.8 212.8L501.4 248.1L515.1 258.8L528.8 270.3L542.4 256.2L556.1 263.9L569.8 282.8L583.4 247L597.1 254.1"/>
<path d="M64.1 246.7L77.7 252.8L91.4 263.9L105.1 257.6L118.7 259.9L132.4 263.1L146.1 268.2L159.7 272.8L173.4 272.6L187.1 271.1L200.7 278.2L214.4 288L228.1 290.4L241.7 290.3L255.4 286.9L269.1 284.6L282.7 267.1L296.4 250.1L310.1 238.7L323.8 243.8L337.4 244.8L351.1 246L364.8 228.6L378.4 213.3L392.1 218.9L405.8 228.2L419.4 225L433.1 211.9L446.8 220.7L460.4 221.2L474.1 228.7L487.8 244.9L501.4 244.8L515.1 241.7L528.8 229.7L542.4 235L556.1 227.9L569.8 252.9L583.4 243.2L597.1 230.2"/>
<path d="M64.1 257.9L77.7 281.2L91.4 280.9L105.1 268.9L118.7 270.6L132.4 280L146.1 274.4L159.7 277.9L173.4 276.7L187.1 285L200.7 294.1L214.4 290.6L228.1 287.1L241.7 273.5L255.4 264.7L269.1 260.5L282.7 269.9L296.4 249.5L310.1 249.1L323.8 240.4L337.4 218.1L351.1 215.8L364.8 193.7L378.4 178.3L392.1 188.9L405.8 197.2L419.4 212L433.1 216L446.8 237.8L460.4 225.5L474.1 196.4L487.8 189L501.4 209.7L515.1 227.7L528.8 225.3L542.4 239.1L556.1 255.6L569.8 263.1L583.4 278.2L597.1 298.1"/>
<path d="M64.1 260.3L77.7 271L91.4 271.2L105.1 264.2L118.7 269.6L132.4 282.3L146.1 286.4L159.7 286.6L173.4 288.8L187.1 290.2L200.7 289.1L214.4 286.4L228.1 285.7L241.7 274.6L255.4 267.1L269.1 259.4L282.7 255.4L296.4 242.6L310.1 234.2L323.8 234.1L337.4 233L351.1 220.3L364.8 199.5L378.4 206L392.1 224.4L405.8 216L419.4 194.5L433.1 218.5L446.8 219.4L460.4 227.2L474.1 220.5L487.8 235.3L501.4 228.4L515.1 242L528.8 213.6L542.4 218.7L556.1 228.5L569.8 228.7L583.4 223.1L597.1 239.1"/>
<path d="M64.1 254.3L77.7 271L91.4 262.7L105.1 264.2L118.7 267.5L132.4 281.6L146.1 273.7L159.7 274.9L173.4 274.6L187.1 275.4L200.7 285.2L214.4 296.1L228.1 293.7L241.7 283.1L255.4 289.5L269.1 281.4L282.7 276L296.4 273.7L310.1 252L323.8 230.3L337.4 235.4L351.1 235.6L364.8 230.8L378.4 219.6L392.1 207L405.8 202.3L419.4 198.2L433.1 207.3L446.8 215.7L460.4 221.1L474.1 209.6L487.8 213.3L501.4 233.3L515.1 233.2L528.8 224.1L542.4 249.6L556.1 282.7L569.8 281L583.4 299.7L597.1 258.5"/>
<path d="M64.1 253.6L77.7 270.8L91.4 267.9L105.1 260.7L118.7 268L132.4 269.8L146.1 277.4L159.7 277.8L173.4 282L187.1 279.7L200.7 277.2L214.4 294.4L228.1 297.9L241.7 290.6L255.4 288L269.1 278.2L282.7 266.2L296.4 260.3L310.1 256.3L323.8 254.3L337.4 263.5L351.1 261.2L364.8 252.5L378.4 252.6L392.1 252.8L405.8 248.5L419.4 245.5L433.1 245.2L446.8 245.5L460.4 225.3L474.1 201.9L487.8 234.4L501.4 234.5L515.1 241.4L528.8 242.5L542.4 270.1L556.1 241.7L569.8 238.9L583.4 219.2L597.1 217.8"/>
<path d="M64.1 255.6L77.7 272.2L91.4 274.2L105.1 266.7L118.7 267.4L132.4 275.3L146.1 284.1L159.7 287.4L173.4 288.9L187.1 291.9L200.7 292.9L214.4 300.9L228.1 296.7L241.7 280.3L255.4 283.9L269.1 286.9L282.7 281.2L296.4 279.9L310.1 269.2L323.8 263.3L337.4 265.6L351.1 261.8L364.8 252.9L378.4 253L392.1 257.1L405.8 242.6L419.4 239.3L433.1 236.3L446.8 242.4L460.4 239.7L474.1 237.4L487.8 248.2L501.4 257.5L515.1 266L528.8 266.8L542.4 289.1L556.1 310.9L569.8 299.7L583.4 301L597.1 272.5"/>
<path d="M64.1 251.9L77.7 274L91.4 269.3L105.1 269.9L118.7 273L132.4 284.1L146.1 281L159.7 283.4L173.4 280.1L187.1 281.2L200.7 283.3L214.4 299.3L228.1 287.1L241.7 275.5L255.4 282.2L269.1 291.3L282.7 277.9L296.4 248.8L310.1 234.2L323.8 229.9L337.4 225.4L351.1 222.2L364.8 200.4L378.4 197.9L392.1 195L405.8 204.3L419.4 200.6L433.1 202.8L446.8 207.1L460.4 215.9L474.1 202.8L487.8 206.1L501.4 216.3L515.1 215.5L528.8 221.7L542.4 228.7L556.1 228.8L569.8 249.2L583.4 235.2L597.1 239.4"/>
<path d="M64.1 252.6L77.7 268.9L91.4 264.5L105.1 257.8L118.7 265.3L132.4 264L146.1 268.3L159.7 278.3L173.4 277.7L187.1 272.9L200.7 275.6L214.4 287.1L228.1 290.6L241.7 285.5L255.4 285.5L269.1 278.4L282.7 271.5L296.4 253.3L310.1 239.7L323.8 236.6L337.4 217.7L351.1 207.8L364.8 216.2L378.4 210.7L392.1 202.7L405.8 209.5L419.4 207.8L433.1 195.4L446.8 197.3L460.4 185.9L474.1 178L487.8 190.6L501.4 206.3L515.1 203.7L528.8 196.5L542.4 221.3L556.1 206.5L569.8 219.9L583.4 230.8L597.1 242.9"/>
<path d="M64.1 258.1L77.7 278.4L91.4 266.2L105.1 266.6L118.7 273L132.4 284.7L146.1 273.4L159.7 282.5L173.4 287.3L187.1 290L200.7 290.3L214.4 294.2L228.1 286.6L241.7 273.9L255.4 266.3L269.1 252.8L282.7 254.3L296.4 238.1L310.1 224.4L323.8 229.6L337.4 219L351.1 218.6L364.8 225.2L378.4 244L392.1 234.4L405.8 222.2L419.4 209.3L433.1 222.8L446.8 227.9L460.4 227.6L474.1 222.2L487.8 240.5L501.4 256.9L515.1 258.4L528.8 259.7L542.4 291.2L556.1 311.9L569.8 306.4L583.4 284.7L597.1 259.8"/>
<path d="M64.1 248.3L77.7 263.7L91.4 262.3L105.1 258.1L118.7 258.8L132.4 269.3L146.1 267.7L159.7 269.4L173.4 275.3L187.1 279.7L200.7 293.6L214.4 302.4L228.1 306.6L241.7 293.2L255.4 285.9L269.1 285.9L282.7 265.5L296.4 253L310.1 247.2L323.8 246.7L337.4 247.8L351.1 246.8L364.8 228.5L378.4 226.4L392.1 231.1L405.8 213.4L419.4 206.8L433.1 222.1L446.8 236.9L460.4 231.4L474.1 225.9L487.8 233.6L501.4 224.7L515.1 223.2L528.8 212.4L542.4 213.7L556.1 206.8L569.8 196.6L583.4 199.5L597.1 206.4"/>
<path d="M64.1 262L77.7 282.7L91.4 267.1L105.1 269.4L118.7 272.6L132.4 283.6L146.1 283.5L159.7 287.8L173.4 282.7L187.1 282.2L200.7 276.4L214.4 281.1L228.1 273.1L241.7 271.6L255.4 270.1L269.1 260.7L282.7 263.2L296.4 236L310.1 210.5L323.8 197.7L337.4 205.2L351.1 206.9L364.8 200.7L378.4 234.2L392.1 240.2L405.8 227.3L419.4 227.2L433.1 215.5L446.8 218.4L460.4 225.6L474.1 227.9L487.8 238.4L501.4 237.8L515.1 217.3L528.8 205.3L542.4 223.8L556.1 230.7L569.8 227.1L583.4 227.4L597.1 219.2"/>
<path d="M64.1 254.6L77.7 274L91.4 276.5L105.1 264.6L118.7 280.2L132.4 279L146.1 274.2L159.7 276.3L173.4 280.3L187.1 277L200.7 290.7L214.4 300.5L228.1 308.5L241.7 303L255.4 290.4L269.1 282.7L282.7 270.7L296.4 261.8L310.1 236.3L323.8 223.3L337.4 237.8L351.1 236.4L364.8 233.2L378.4 228.2L392.1 223.2L405.8 235.3L419.4 232.4L433.1 226.7L446.8 226.6L460.4 225L474.1 225.7L487.8 240.5L501.4 246.8L515.1 268.3L528.8 261.3L542.4 240.7L556.1 241L569.8 245.9L583.4 250.2L597.1 260"/>
<path d="M64.1 258.8L77.7 269.2L91.4 265.5L105.1 254.5L118.7 255.4L132.4 263.6L146.1 266.9L159.7 264L173.4 272L187.1 273.7L200.7 273.9L214.4 285.2L228.1 284.3L241.7 282.4L255.4 271.9L269.1 274L282.7 260.3L296.4 256.5L310.1 236.8L323.8 229.2L337.4 234.2L351.1 243.5L364.8 240.1L378.4 243.3L392.1 250.2L405.8 241.9L419.4 233.7L433.1 225.3L446.8 218.4L460.4 227.4L474.1 235.1L487.8 238.4L501.4 232.4L515.1 233.7L528.8 214.8L542.4 227.9L556.1 227.4L569.8 221.1L583.4 208.3L597.1 222.3"/>
<path d="M64.1 244L77.7 262.6L91.4 261.6L105.1 257.4L118.7 264.7L132.4 267.6L146.1 271.3L159.7 272L173.4 271.7L187.1 277.6L200.7 279.7L214.4 280.3L228.1 271.9L241.7 270.4L255.4 269.5L269.1 267.4L282.7 261.2L296.4 257.6L310.1 249.8L323.8 239.4L337.4 228.8L351.1 240.7L364.8 229.7L378.4 240L392.1 237.3L405.8 226.4L419.4 216.8L433.1 230.2L446.8 230.1L460.4 219.8L474.1 206.7L487.8 221L501.4 224.8L515.1 225.7L528.8 214.9L542.4 236.6L556.1 240L569.8 228.1L583.4 217.3L597.1 231.9"/>
<path d="M64.1 248.7L77.7 264.8L91.4 261L105.1 254.4L118.7 257.8L132.4 264L146.1 278.5L159.7 281.3L173.4 277.3L187.1 275L200.7 278.1L214.4 297.6L228.1 293.4L241.7 290.4L255.4 284L269.1 291.2L282.7 282L296.4 267.5L310.1 252.5L323.8 218.2L337.4 219.7L351.1 233.6L364.8 224.7L378.4 202L392.1 195L405.8 210.2L419.4 203.5L433.1 205.5L446.8 210.4L460.4 220.7L474.1 212.7L487.8 227.7L501.4 216.5L515.1 213.3L528.8 209.6L542.4 233.8L556.1 231.8L569.8 232.2L583.4 236.1L597.1 226.3"/>
<path d="M64.1 259.9L77.7 282.5L91.4 284.6L105.1 283L118.7 281.7L132.4 286L146.1 287.8L159.7 287.8L173.4 288.9L187.1 297.6L200.7 292L214.4 289.4L228.1 273.1L241.7 271.9L255.4 260L269.1 262.9L282.7 253.6L296.4 241.5L310.1 229.6L323.8 227.4L337.4 224L351.1 221.1L364.8 238L378.4 235.3L392.1 245.8L405.8 247.3L419.4 240.3L433.1 247.8L446.8 234.9L460.4 242.4L474.1 228.6L487.8 234.2L501.4 237.1L515.1 225.9L528.8 223.9L542.4 219.1L556.1 225L569.8 214.2L583.4 206.7L597.1 219.2"/>
<path d="M64.1 255.9L77.7 272.9L91.4 274L105.1 266L118.7 262L132.4 268.5L146.1 274.2L159.7 255.4L173.4 258.7L187.1 254.7L200.7 263.1L214.4 266.4L228.1 261L241.7 260L255.4 261.8L269.1 249.9L282.7 254.9L296.4 251.4L310.1 223.4L323.8 220.4L337.4 215.8L351.1 218.2L364.8 231.7L378.4 246.6L392.1 254.4L405.8 243.6L419.4 231.1L433.1 232.5L446.8 237.8L460.4 227.1L474.1 236.5L487.8 233.2L501.4 219.7L515.1 202L528.8 207.9L542.4 219.3L556.1 224.8L569.8 221.3L583.4 227.3L597.1 212.1"/>
<path d="M64.1 260.3L77.7 287.1L91.4 281L105.1 278.1L118.7 279.5L132.4 286.6L146.1 282L159.7 284.8L173.4 285.6L187.1 289.3L200.7 289.7L214.4 292.2L228.1 290.4L241.7 289.6L255.4 276.5L269.1 275.1L282.7 268.8L296.4 252.3L310.1 226L323.8 218.1L337.4 214.5L351.1 229.3L364.8 244.8L378.4 249.7L392.1 251.3L405.8 243.1L419.4 238.2L433.1 254.9L446.8 261L460.4 236.1L474.1 234.2L487.8 250.2L501.4 259.7L515.1 279.9L528.8 291.2L542.4 275.5L556.1 282.2L569.8 295.5L583.4 303.3L597.1 318.9"/>
<path d="M64.1 251.5L77.7 261.7L91.4 263.4L105.1 254.1L118.7 249.7L132.4 260.4L146.1 267.9L159.7 270.3L173.4 264L187.1 260.3L200.7 273.2L214.4 277.4L228.1 278.5L241.7 279.1L255.4 275L269.1 278.1L282.7 269L296.4 243L310.1 229.4L323.8 214.6L337.4 210.3L351.1 216.4L364.8 203.6L378.4 202.5L392.1 210.4L405.8 210.4L419.4 201.9L433.1 232.9L446.8 252.1L460.4 238.1L474.1 228.2L487.8 212.5L501.4 218.7L515.1 219.8L528.8 207.4L542.4 216.3L556.1 237L569.8 254L583.4 253.6L597.1 261.9"/>
<path d="M64.1 257.9L77.7 276.9L91.4 271.9L105.1 271L118.7 267.1L132.4 269.9L146.1 277.1L159.7 277.2L173.4 280.9L187.1 275.5L200.7 281.9L214.4 299.3L228.1 295.5L241.7 285.9L255.4 290.8L269.1 288.3L282.7 282L296.4 269.4L310.1 253L323.8 244.5L337.4 233L351.1 224L364.8 224.7L378.4 184L392.1 202.1L405.8 213L419.4 205.7L433.1 231.1L446.8 225.2L460.4 226.6L474.1 216.6L487.8 233.3L501.4 243.8L515.1 243.8L528.8 239.8L542.4 246L556.1 301.5L569.8 256.6L583.4 221.3L597.1 226.3"/>
<path d="M64.1 256.4L77.7 277.9L91.4 273.9L105.1 272.6L118.7 277.5L132.4 282L146.1 281L159.7 280L173.4 288.9L187.1 286.8L200.7 287.2L214.4 288.4L228.1 289L241.7 283.5L255.4 286L269.1 284.8L282.7 299.2L296.4 277.5L310.1 253L323.8 254.4L337.4 236.7L351.1 243.2L364.8 233.6L378.4 237.7L392.1 237.7L405.8 226.1L419.4 220L433.1 207.1L446.8 220.3L460.4 219.4L474.1 199.9L487.8 210.2L501.4 211.4L515.1 214.2L528.8 209.1L542.4 226.2L556.1 249.7L569.8 249.7L583.4 254.3L597.1 301.2"/>
<path d="M64.1 255L77.7 271.1L91.4 270.4L105.1 270.2L118.7 275.8L132.4 279.9L146.1 276.3L159.7 272.2L173.4 272.3L187.1 269.5L200.7 271.7L214.4 270.5L228.1 267.6L241.7 262.4L255.4 258.9L269.1 262L282.7 261.1L296.4 261.9L310.1 239.8L323.8 225.5L337.4 220.7L351.1 210.8L364.8 196.1L378.4 214.5L392.1 224.1L405.8 236.1L419.4 206.1L433.1 207.9L446.8 226.7L460.4 222.7L474.1 195.6L487.8 200.8L501.4 193L515.1 193.9L528.8 189.5L542.4 201.2L556.1 221.3L569.8 223.8L583.4 237.4L597.1 252.4"/>
<path d="M64.1 252.7L77.7 274.7L91.4 262.9L105.1 256.9L118.7 255.8L132.4 265.9L146.1 277.5L159.7 280.7L173.4 279.4L187.1 284.9L200.7 283.6L214.4 286.9L228.1 289.2L241.7 275L255.4 280.1L269.1 277.1L282.7 269.9L296.4 261.4L310.1 233.3L323.8 225.7L337.4 225.8L351.1 223.8L364.8 224L378.4 208.9L392.1 231.6L405.8 226L419.4 229.2L433.1 241.3L446.8 241.1L460.4 231.3L474.1 221.7L487.8 227.5L501.4 226.6L515.1 240.2L528.8 253.9L542.4 243.9L556.1 246.4L569.8 250.1L583.4 252.7L597.1 248"/>
<path d="M64.1 249.1L77.7 262.7L91.4 256.9L105.1 253.4L118.7 256L132.4 259.4L146.1 266.7L159.7 272.1L173.4 279.7L187.1 279.4L200.7 294.3L214.4 306.6L228.1 304.4L241.7 291.4L255.4 285.8L269.1 295.6L282.7 294.8L296.4 279.3L310.1 242.1L323.8 231.5L337.4 229L351.1 231L364.8 241.2L378.4 243.2L392.1 241.2L405.8 234L419.4 221L433.1 218.2L446.8 214.2L460.4 218L474.1 212.2L487.8 221.7L501.4 223.4L515.1 226.7L528.8 224.1L542.4 233.8L556.1 268.4L569.8 259.2L583.4 281.1L597.1 314.5"/>
<path d="M64.1 256.3L77.7 270.6L91.4 268.6L105.1 265L118.7 269.7L132.4 276.2L146.1 273.2L159.7 280L173.4 278.2L187.1 270.8L200.7 267.6L214.4 277.9L228.1 279.5L241.7 274.1L255.4 279.2L269.1 279.1L282.7 257.3L296.4 244.6L310.1 237.9L323.8 222.7L337.4 221.6L351.1 198L364.8 191L378.4 192.9L392.1 216L405.8 210.4L419.4 214.3L433.1 211.4L446.8 226.3L460.4 225.5L474.1 214.5L487.8 215.4L501.4 224.7L515.1 226.1L528.8 212.9L542.4 225.6L556.1 228.1L569.8 239.5L583.4 219.7L597.1 232.5"/>
<path d="M64.1 258.9L77.7 281.9L91.4 275L105.1 276.5L118.7 275.9L132.4 272.7L146.1 276.5L159.7 279.4L173.4 272.2L187.1 271.1L200.7 276.7L214.4 284.6L228.1 295.6L241.7 283.2L255.4 282.3L269.1 292.5L282.7 280.6L296.4 260.3L310.1 249.2L323.8 246.6L337.4 250.7L351.1 260.4L364.8 244.9L378.4 222.1L392.1 191.8L405.8 183L419.4 179.8L433.1 178.2L446.8 194L460.4 203.3L474.1 182.8L487.8 209.4L501.4 220.8L515.1 218L528.8 196.6L542.4 202.3L556.1 202.7L569.8 197.9L583.4 220.4L597.1 224.1"/>
<path d="M64.1 257.3L77.7 280.2L91.4 276.1L105.1 268.7L118.7 270.4L132.4 282.1L146.1 284.6L159.7 287.8L173.4 286.8L187.1 283.8L200.7 291L214.4 300L228.1 294L241.7 289.9L255.4 276.7L269.1 278L282.7 274.2L296.4 256.9L310.1 229.2L323.8 224.1L337.4 222.3L351.1 212.4L364.8 194L378.4 180.9L392.1 190.9L405.8 193.1L419.4 180.2L433.1 185.2L446.8 205.4L460.4 190.8L474.1 186.1L487.8 196.4L501.4 195.5L515.1 196.9L528.8 187.9L542.4 197.9L556.1 200L569.8 196.4L583.4 201L597.1 208.8"/>
<path d="M64.1 250.7L77.7 272.5L91.4 273.6L105.1 264.2L118.7 268.7L132.4 278.9L146.1 275.1L159.7 272.1L173.4 272.5L187.1 268.9L200.7 273L214.4 273.6L228.1 276.6L241.7 269.8L255.4 254.9L269.1 259.8L282.7 263.1L296.4 246L310.1 220.9L323.8 199.6L337.4 215L351.1 213.5L364.8 185.8L378.4 210.3L392.1 224.1L405.8 237.5L419.4 231.1L433.1 220.1L446.8 221.2L460.4 215.2L474.1 203.9L487.8 203.2L501.4 213.3L515.1 219L528.8 209.4L542.4 224.5L556.1 225L569.8 228.2L583.4 226.2L597.1 224.4"/>
<path d="M64.1 259.2L77.7 282.9L91.4 277.7L105.1 270.9L118.7 280.9L132.4 282.9L146.1 283.3L159.7 282.1L173.4 286.4L187.1 286L200.7 297.8L214.4 304.4L228.1 296.6L241.7 284.9L255.4 288.3L269.1 286.7L282.7 264.3L296.4 237.8L310.1 215.3L323.8 220.7L337.4 226.5L351.1 232.8L364.8 198.6L378.4 215.7L392.1 258L405.8 272.3L419.4 259L433.1 233.3L446.8 221.7L460.4 220.7L474.1 204.5L487.8 218L501.4 220.5L515.1 212.5L528.8 205.6L542.4 231.2L556.1 237.4L569.8 257.1L583.4 257.1L597.1 252.8"/>
<path d="M64.1 258.7L77.7 277.8L91.4 274.7L105.1 271L118.7 280.5L132.4 286.8L146.1 284.4L159.7 283.5L173.4 288.9L187.1 289.8L200.7 290.6L214.4 296.6L228.1 296.9L241.7 297.9L255.4 295L269.1 295.8L282.7 301.8L296.4 274.6L310.1 255.2L323.8 246.8L337.4 232.7L351.1 241.2L364.8 231.6L378.4 238L392.1 250L405.8 235.1L419.4 223.1L433.1 211.5L446.8 218.9L460.4 250L474.1 258L487.8 272.3L501.4 291L515.1 305.5L528.8 303L542.4 312L556.1 318L569.8 229.9L583.4 214.3L597.1 228.2"/>
</g>
<g class="grid">
<line class="gh" x1="49.8" y1="180.5" x2="620.5" y2="180.5"/>
<line class="gh" x1="49.8" y1="208.5" x2="620.5" y2="208.5"/>
<line class="gh" x1="49.8" y1="237.5" x2="620.5" y2="237.5"/>
<line class="gh" x1="49.8" y1="265.5" x2="620.5" y2="265.5"/>
<line class="gh" x1="49.8" y1="293.5" x2="620.5" y2="293.5"/>
<line class="gh" x1="49.8" y1="322.5" x2="620.5" y2="322.5"/>
<line class="gh" x1="49.8" y1="350.5" x2="620.5" y2="350.5"/>
</g>
<path d="M64.1 255L77.7 275.5L91.4 272L105.1 266L118.7 271.5L132.4 281.5L146.1 279.5L159.7 279.5L173.4 280.7L187.1 279L200.7 283L214.4 291L228.1 290.5L241.7 276.5L255.4 278L269.1 284.6L282.7 275.7L296.4 264.6L310.1 233.8L323.8 231L337.4 227.2L351.1 222L364.8 209.4L378.4 213.1L392.1 215.4L405.8 216.9L419.4 201.3L433.1 213.1L446.8 219.1L460.4 219.8L474.1 210.2L487.8 218.3L501.4 228L515.1 239.9L528.8 239.4L542.4 240.9L556.1 243.1L569.8 250.9L583.4 234.3L597.1 242.9" fill="none" stroke="#c4006c" stroke-width="3.3" stroke-linejoin="round"/>
<path d="M64.1 255L77.7 268.8L91.4 266.9L105.1 261.7L118.7 266.9L132.4 279.4L146.1 280L159.7 280L173.4 278.8L187.1 281.5L200.7 275.6L214.4 295L228.1 291L241.7 288.6L255.4 286.6L269.1 288.3L282.7 273.5L296.4 250L310.1 221.4L323.8 226L337.4 227.2L351.1 219.8L364.8 209.4L378.4 213.1L392.1 221.3L405.8 223.5L419.4 216.1L433.1 223.5L446.8 227.2L460.4 219.8L474.1 216.9L487.8 219.8L501.4 222.2L515.1 220.2L528.8 218L542.4 219.1L556.1 222.4L569.8 219.7L583.4 219.4L597.1 222.4" fill="none" stroke="#c4006c" stroke-width="3.3" stroke-dasharray="5.6 1.8" stroke-linejoin="round"/>
<path class="fr" d="M50.5 152.5 H624.5 V352.5 H50.5"/>
<g class="tick">
<line x1="50.5" y1="352.5" x2="50.5" y2="359.1"/>
<line x1="64.5" y1="352.5" x2="64.5" y2="357.1"/>
<line x1="77.5" y1="352.5" x2="77.5" y2="357.1"/>
<line x1="91.5" y1="352.5" x2="91.5" y2="357.1"/>
<line x1="105.5" y1="352.5" x2="105.5" y2="359.1"/>
<line x1="118.5" y1="352.5" x2="118.5" y2="357.1"/>
<line x1="132.5" y1="352.5" x2="132.5" y2="357.1"/>
<line x1="146.5" y1="352.5" x2="146.5" y2="357.1"/>
<line x1="159.5" y1="352.5" x2="159.5" y2="359.1"/>
<line x1="173.5" y1="352.5" x2="173.5" y2="357.1"/>
<line x1="187.5" y1="352.5" x2="187.5" y2="357.1"/>
<line x1="200.5" y1="352.5" x2="200.5" y2="357.1"/>
<line x1="214.5" y1="352.5" x2="214.5" y2="359.1"/>
<line x1="228.5" y1="352.5" x2="228.5" y2="357.1"/>
<line x1="241.5" y1="352.5" x2="241.5" y2="357.1"/>
<line x1="255.5" y1="352.5" x2="255.5" y2="357.1"/>
<line x1="269.5" y1="352.5" x2="269.5" y2="359.1"/>
<line x1="282.5" y1="352.5" x2="282.5" y2="357.1"/>
<line x1="296.5" y1="352.5" x2="296.5" y2="357.1"/>
<line x1="310.5" y1="352.5" x2="310.5" y2="357.1"/>
<line x1="323.5" y1="352.5" x2="323.5" y2="359.1"/>
<line x1="337.5" y1="352.5" x2="337.5" y2="357.1"/>
<line x1="351.5" y1="352.5" x2="351.5" y2="357.1"/>
<line x1="364.5" y1="352.5" x2="364.5" y2="357.1"/>
<line x1="378.5" y1="352.5" x2="378.5" y2="359.1"/>
<line x1="392.5" y1="352.5" x2="392.5" y2="357.1"/>
<line x1="405.5" y1="352.5" x2="405.5" y2="357.1"/>
<line x1="419.5" y1="352.5" x2="419.5" y2="357.1"/>
<line x1="433.5" y1="352.5" x2="433.5" y2="359.1"/>
<line x1="446.5" y1="352.5" x2="446.5" y2="357.1"/>
<line x1="460.5" y1="352.5" x2="460.5" y2="357.1"/>
<line x1="474.5" y1="352.5" x2="474.5" y2="357.1"/>
<line x1="487.5" y1="352.5" x2="487.5" y2="359.1"/>
<line x1="501.5" y1="352.5" x2="501.5" y2="357.1"/>
<line x1="515.5" y1="352.5" x2="515.5" y2="357.1"/>
<line x1="528.5" y1="352.5" x2="528.5" y2="357.1"/>
<line x1="542.5" y1="352.5" x2="542.5" y2="359.1"/>
<line x1="556.5" y1="352.5" x2="556.5" y2="357.1"/>
<line x1="569.5" y1="352.5" x2="569.5" y2="357.1"/>
<line x1="583.5" y1="352.5" x2="583.5" y2="357.1"/>
<line x1="597.5" y1="352.5" x2="597.5" y2="359.1"/>
<line x1="610.5" y1="352.5" x2="610.5" y2="357.1"/>
<line x1="624.5" y1="352.5" x2="624.5" y2="357.1"/>
<line x1="42" y1="152.5" x2="50.5" y2="152.5"/>
<line x1="42" y1="180.5" x2="50.5" y2="180.5"/>
<line x1="42" y1="208.5" x2="50.5" y2="208.5"/>
<line x1="42" y1="237.5" x2="50.5" y2="237.5"/>
<line x1="42" y1="265.5" x2="50.5" y2="265.5"/>
<line x1="42" y1="293.5" x2="50.5" y2="293.5"/>
<line x1="42" y1="322.5" x2="50.5" y2="322.5"/>
<line x1="42" y1="350.5" x2="50.5" y2="350.5"/>
</g>
<line class="ax" x1="50.5" y1="152" x2="50.5" y2="359"/>
<text class="tk" x="40.5" y="155.9" text-anchor="end">24</text>
<text class="tk" x="40.5" y="183.9" text-anchor="end">21</text>
<text class="tk" x="40.5" y="211.9" text-anchor="end">18</text>
<text class="tk" x="40.5" y="240.9" text-anchor="end">15</text>
<text class="tk" x="40.5" y="268.9" text-anchor="end">12</text>
<text class="tk" x="40.5" y="296.9" text-anchor="end">9</text>
<text class="tk" x="40.5" y="325.9" text-anchor="end">6</text>
<text class="tk" x="40.5" y="353.9" text-anchor="end">3</text>
<text class="tk" x="78.1" y="374" text-anchor="middle">Mon22</text>
<text class="tk" x="132.8" y="374" text-anchor="middle">Tue23</text>
<text class="tk" x="187.5" y="374" text-anchor="middle">Wed24</text>
<text class="tk" x="242.1" y="374" text-anchor="middle">Thu25</text>
<text class="tk" x="296.8" y="374" text-anchor="middle">Fri26</text>
<text class="tk" x="351.5" y="374" text-anchor="middle">Sat27</text>
<text class="tk" x="406.2" y="374" text-anchor="middle" style="fill:#ff1414;stroke:#ff1414">Sun28</text>
<text class="tk" x="460.8" y="374" text-anchor="middle">Mon29</text>
<text class="tk" x="515.5" y="374" text-anchor="middle">Tue30</text>
<text class="tk" x="570.2" y="374" text-anchor="middle">Wed31</text>
<text class="tk" x="624.8" y="374" text-anchor="middle">Thu 1</text>
<text class="ct" x="34.2" y="421.5">Ensemble members of Total Precipitation (mm/6h)</text>
<g class="grid">
<line class="gv" x1="105.5" y1="432.4" x2="105.5" y2="628.2"/>
<line class="gv" x1="159.5" y1="432.4" x2="159.5" y2="628.2"/>
<line class="gv" x1="214.5" y1="432.4" x2="214.5" y2="628.2"/>
<line class="gv" x1="269.5" y1="432.4" x2="269.5" y2="628.2"/>
<line class="gv" x1="323.5" y1="432.4" x2="323.5" y2="628.2"/>
<line class="gv" x1="378.5" y1="432.4" x2="378.5" y2="628.2"/>
<line class="gv" x1="433.5" y1="432.4" x2="433.5" y2="628.2"/>
<line class="gv" x1="487.5" y1="432.4" x2="487.5" y2="628.2"/>
<line class="gv" x1="542.5" y1="432.4" x2="542.5" y2="628.2"/>
<line class="gv" x1="597.5" y1="432.4" x2="597.5" y2="628.2"/>
</g>
<g class="grid">
<line class="gh" x1="49.8" y1="433.5" x2="620.5" y2="433.5"/>
<line class="gh" x1="49.8" y1="461.5" x2="620.5" y2="461.5"/>
<line class="gh" x1="49.8" y1="489.5" x2="620.5" y2="489.5"/>
<line class="gh" x1="49.8" y1="516.5" x2="620.5" y2="516.5"/>
<line class="gh" x1="49.8" y1="544.5" x2="620.5" y2="544.5"/>
<line class="gh" x1="49.8" y1="572.5" x2="620.5" y2="572.5"/>
<line class="gh" x1="49.8" y1="600.5" x2="620.5" y2="600.5"/>
</g>
<g class="mem m2" stroke="#4f86ea">
<path d="M64.1 578.2L77.7 455.6L91.4 597.7L105.1 618.5L118.7 628.1L132.4 628.2L146.1 628.4L159.7 628.4L173.4 627.6L187.1 627.9L200.7 628.2L214.4 628.4L228.1 627.8L241.7 627.9L255.4 628.4L269.1 628.3L282.7 628.4L296.4 628.4L310.1 628.4L323.8 628.4L337.4 628.1L351.1 628L364.8 628.4L378.4 628.4L392.1 628.4L405.8 628.4L419.4 628.2L433.1 628.3L446.8 628.4L460.4 628.4L474.1 628.4L487.8 627.9L501.4 628.2L515.1 628.3L528.8 628.3L542.4 627.5L556.1 627.4L569.8 628.4L583.4 628.4L597.1 628"/>
<path d="M64.1 553.1L77.7 486.2L91.4 592.2L105.1 626.8L118.7 628.4L132.4 628.4L146.1 627.7L159.7 627.7L173.4 628.1L187.1 628.3L200.7 628.3L214.4 628.4L228.1 628.4L241.7 628.4L255.4 628.2L269.1 628.4L282.7 628.4L296.4 628.1L310.1 628.4L323.8 628.2L337.4 628.2L351.1 627.6L364.8 628.4L378.4 628.4L392.1 628L405.8 628.1L419.4 628.3L433.1 628L446.8 628.3L460.4 627.5L474.1 628.4L487.8 628.2L501.4 627.5L515.1 628.4L528.8 628.3L542.4 628.4L556.1 628.4L569.8 628.4L583.4 628.4L597.1 628.1"/>
<path d="M64.1 567.1L77.7 508.5L91.4 611.7L105.1 625.4L118.7 628.2L132.4 628.4L146.1 627.7L159.7 628L173.4 628.2L187.1 627.8L200.7 628.3L214.4 628.2L228.1 628.4L241.7 628.1L255.4 628.4L269.1 628.4L282.7 628.4L296.4 628.3L310.1 628.3L323.8 628.3L337.4 628.4L351.1 628.4L364.8 627.9L378.4 628.4L392.1 628.4L405.8 628.4L419.4 628.4L433.1 628.4L446.8 628.4L460.4 628.2L474.1 627.4L487.8 628.3L501.4 628.4L515.1 628.3L528.8 628.3L542.4 628L556.1 628.4L569.8 627.7L583.4 628.4L597.1 628.4"/>
<path d="M64.1 550.4L77.7 528L91.4 603.3L105.1 624.1L118.7 627.9L132.4 627.8L146.1 628.3L159.7 628.3L173.4 627.4L187.1 627.6L200.7 627.9L214.4 628.4L228.1 628.3L241.7 628.4L255.4 627.7L269.1 628.4L282.7 627.6L296.4 628.4L310.1 628.4L323.8 627.5L337.4 628.3L351.1 627.6L364.8 628.3L378.4 628.4L392.1 628.2L405.8 628.4L419.4 628.4L433.1 628.4L446.8 628.4L460.4 627.6L474.1 627.5L487.8 627.5L501.4 628.4L515.1 628.4L528.8 628.3L542.4 628.2L556.1 628.3L569.8 628.4L583.4 628.4L597.1 628.2"/>
<path d="M64.1 583.8L77.7 542L91.4 617.2L105.1 627.5L118.7 628.4L132.4 625.3L146.1 627.8L159.7 628.4L173.4 628.4L187.1 627.7L200.7 628.4L214.4 628.4L228.1 628.3L241.7 628.4L255.4 628.2L269.1 627.5L282.7 628.4L296.4 628.4L310.1 628.4L323.8 628L337.4 628.4L351.1 627.5L364.8 628.2L378.4 627.7L392.1 628L405.8 628.4L419.4 628.4L433.1 627.5L446.8 628.4L460.4 628.1L474.1 628.4L487.8 628.4L501.4 628.2L515.1 628.4L528.8 628.1L542.4 627.8L556.1 628.4L569.8 628.4L583.4 628.4L597.1 628.4"/>
<path d="M64.1 621.4L77.7 571.1L91.4 607.7L105.1 622.6L118.7 627.3L132.4 628L146.1 627.3L159.7 628.4L173.4 627.9L187.1 628.4L200.7 628.4L214.4 628.4L228.1 628L241.7 628.4L255.4 628.1L269.1 627.7L282.7 628.3L296.4 628.4L310.1 628.3L323.8 628.4L337.4 627.7L351.1 628.4L364.8 628.4L378.4 628.4L392.1 628.4L405.8 628.4L419.4 628.4L433.1 628.3L446.8 628.4L460.4 604.4L474.1 483.4L487.8 627.3L501.4 628.4L515.1 628.4L528.8 628.4L542.4 627.5L556.1 627.8L569.8 627.6L583.4 628.1L597.1 628.4"/>
<path d="M64.1 557.5L77.7 590.3L91.4 611.8L105.1 622.2L118.7 628.1L132.4 628.4L146.1 628.4L159.7 628.3L173.4 628.4L187.1 628.4L200.7 628.4L214.4 628.4L228.1 628L241.7 628.3L255.4 628.4L269.1 628.1L282.7 628.4L296.4 628.1L310.1 628.4L323.8 628.4L337.4 627.9L351.1 628.4L364.8 628.4L378.4 628.4L392.1 627.9L405.8 628.4L419.4 628.4L433.1 628.4L446.8 628.2L460.4 626.7L474.1 614.5L487.8 626.7L501.4 628.4L515.1 628.4L528.8 628.4L542.4 627.8L556.1 627.3L569.8 628.4L583.4 628.4L597.1 628.3"/>
<path d="M64.1 571.1L77.7 554.6L91.4 622.4L105.1 627.8L118.7 628.4L132.4 628.3L146.1 628.2L159.7 627.8L173.4 628.4L187.1 628.4L200.7 628.3L214.4 628.2L228.1 628.4L241.7 628.4L255.4 628.4L269.1 628.3L282.7 628.4L296.4 628.4L310.1 628.3L323.8 628.4L337.4 628.4L351.1 628.4L364.8 628.4L378.4 628.3L392.1 628.1L405.8 628.4L419.4 620L433.1 628.2L446.8 628.4L460.4 628.4L474.1 627.7L487.8 627.5L501.4 628.4L515.1 628.4L528.8 628.1L542.4 628.4L556.1 628.1L569.8 628.3L583.4 628.4L597.1 628.2"/>
<path d="M64.1 583.4L77.7 612.8L91.4 616.9L105.1 613.2L118.7 625.3L132.4 627.8L146.1 628.2L159.7 628L173.4 628.4L187.1 628.4L200.7 628.3L214.4 628L228.1 628.4L241.7 628.4L255.4 628.4L269.1 628.4L282.7 628.4L296.4 628.3L310.1 627.8L323.8 628.4L337.4 627.5L351.1 628.4L364.8 628.4L378.4 627.4L392.1 628.2L405.8 628.4L419.4 628.1L433.1 628.4L446.8 628.2L460.4 628.4L474.1 622.8L487.8 628.3L501.4 628.4L515.1 628.4L528.8 628.4L542.4 627.6L556.1 628.4L569.8 627.5L583.4 628.4L597.1 628.4"/>
<path d="M64.1 557.3L77.7 545.6L91.4 607.1L105.1 610.3L118.7 628.4L132.4 626.6L146.1 628.2L159.7 628.4L173.4 628.3L187.1 628.4L200.7 628.1L214.4 628.3L228.1 628.4L241.7 628.4L255.4 628.4L269.1 628.4L282.7 628.4L296.4 628.4L310.1 628.3L323.8 628.4L337.4 628.1L351.1 628.4L364.8 628.4L378.4 628.3L392.1 628.4L405.8 627.8L419.4 628.4L433.1 628.3L446.8 627.5L460.4 628.4L474.1 628.2L487.8 627.4L501.4 621.7L515.1 623.9L528.8 598.3L542.4 627.6L556.1 628.3L569.8 627.8L583.4 628.2L597.1 628.4"/>
<path d="M64.1 602.5L77.7 550L91.4 616.8L105.1 625.2L118.7 628.3L132.4 628.4L146.1 628.1L159.7 628.4L173.4 627.8L187.1 628.4L200.7 627.8L214.4 628.4L228.1 628L241.7 628.4L255.4 628.2L269.1 628.4L282.7 628.4L296.4 627.5L310.1 628.3L323.8 628.4L337.4 628.3L351.1 628.4L364.8 628.4L378.4 628.3L392.1 628.3L405.8 628.4L419.4 628.4L433.1 628.4L446.8 628.4L460.4 627.9L474.1 628.3L487.8 628L501.4 628.4L515.1 628.4L528.8 622.8L542.4 612.2L556.1 628.4L569.8 628.3L583.4 627.9L597.1 628.4"/>
<path d="M64.1 575.7L77.7 559.2L91.4 607.6L105.1 609.9L118.7 627.5L132.4 628.3L146.1 628.3L159.7 628.4L173.4 628.4L187.1 628.4L200.7 628.4L214.4 628.4L228.1 628.4L241.7 628.3L255.4 628.4L269.1 628.4L282.7 628.1L296.4 628.4L310.1 627.8L323.8 628.2L337.4 628.4L351.1 628.2L364.8 627.6L378.4 628.3L392.1 628.3L405.8 628.2L419.4 627.7L433.1 627.8L446.8 628.4L460.4 628.4L474.1 628.4L487.8 628.4L501.4 628.4L515.1 628.4L528.8 627.6L542.4 628.4L556.1 618.4L569.8 586L583.4 625.1L597.1 628.4"/>
<path d="M64.1 587.4L77.7 558.1L91.4 599.4L105.1 627.4L118.7 621.5L132.4 628.3L146.1 628.4L159.7 628.4L173.4 628.4L187.1 628L200.7 628.4L214.4 628.4L228.1 628L241.7 628L255.4 628.4L269.1 628.4L282.7 628.3L296.4 628L310.1 628.4L323.8 628.4L337.4 628.4L351.1 628.3L364.8 628.4L378.4 628.4L392.1 628.3L405.8 627.6L419.4 628.4L433.1 628.4L446.8 628.4L460.4 628L474.1 628.4L487.8 628.4L501.4 628.4L515.1 627.9L528.8 628.4L542.4 628.4L556.1 628.4L569.8 625.6L583.4 602.8L597.1 626.7"/>
<path d="M64.1 612.7L77.7 575.9L91.4 626.7L105.1 613.6L118.7 628.1L132.4 625.1L146.1 628.1L159.7 628.4L173.4 627.6L187.1 628.4L200.7 628.3L214.4 628.1L228.1 628.4L241.7 628.4L255.4 628.4L269.1 628.4L282.7 628.4L296.4 628.4L310.1 628.4L323.8 627.4L337.4 628.4L351.1 628.4L364.8 628.4L378.4 628.4L392.1 628.4L405.8 627.8L419.4 627.8L433.1 628.4L446.8 628.4L460.4 628.3L474.1 628.3L487.8 628.4L501.4 628.4L515.1 628L528.8 628.4L542.4 628.4L556.1 628.1L569.8 623.9L583.4 604.4L597.1 627.8"/>
<path d="M64.1 553.1L77.7 577.6L91.4 598.2L105.1 623.6L118.7 628.2L132.4 625.2L146.1 627.8L159.7 628.4L173.4 628.3L187.1 628.4L200.7 628.4L214.4 628.1L228.1 628.4L241.7 628.3L255.4 628.4L269.1 628.4L282.7 627.8L296.4 628.2L310.1 628.4L323.8 628.4L337.4 628.3L351.1 628.4L364.8 627.4L378.4 628.4L392.1 627.7L405.8 628.4L419.4 628L433.1 627.9L446.8 628.4L460.4 628.4L474.1 628.2L487.8 628.4L501.4 628.4L515.1 628.1L528.8 628.4L542.4 628.4L556.1 628.4L569.8 618.4L583.4 610.6L597.1 626.2"/>
<path d="M64.1 615.6L77.7 612.7L91.4 597.1L105.1 625.5L118.7 624L132.4 628L146.1 627.4L159.7 627.6L173.4 628.4L187.1 628.4L200.7 628.4L214.4 627.5L228.1 628.2L241.7 627.6L255.4 627.4L269.1 628.1L282.7 627.8L296.4 627.6L310.1 628.3L323.8 628L337.4 627.4L351.1 628.4L364.8 628.4L378.4 628.3L392.1 628.4L405.8 628.4L419.4 628.4L433.1 628L446.8 628.4L460.4 628.4L474.1 628.4L487.8 628.3L501.4 627.8L515.1 628.4L528.8 627.9L542.4 628.4L556.1 628.4L569.8 628.4L583.4 623.9L597.1 612.2"/>
<path d="M64.1 583.6L77.7 592.6L91.4 614.1L105.1 625.7L118.7 628.4L132.4 627.6L146.1 627.5L159.7 628.3L173.4 628.4L187.1 628.4L200.7 628.4L214.4 628.4L228.1 628.4L241.7 627.8L255.4 627.9L269.1 628L282.7 627.6L296.4 628.4L310.1 628.4L323.8 628.4L337.4 628.4L351.1 628.3L364.8 628.4L378.4 628.3L392.1 627.8L405.8 628.4L419.4 628.4L433.1 628L446.8 628.4L460.4 627.6L474.1 628.4L487.8 628.4L501.4 628.4L515.1 628.4L528.8 627.9L542.4 621.7L556.1 616.1L569.8 628.3L583.4 628.4L597.1 628.4"/>
<path d="M64.1 569.4L77.7 581.4L91.4 605.8L105.1 627.2L118.7 628.4L132.4 628.4L146.1 627.6L159.7 628.4L173.4 628.4L187.1 628.4L200.7 628.4L214.4 628.2L228.1 628.4L241.7 628.3L255.4 628.4L269.1 628.1L282.7 628.3L296.4 628.4L310.1 628.4L323.8 627.3L337.4 628.4L351.1 628.2L364.8 628.4L378.4 628.2L392.1 628.2L405.8 628.4L419.4 627.6L433.1 628.4L446.8 628.4L460.4 628.2L474.1 627.7L487.8 627.9L501.4 628.3L515.1 628.4L528.8 621.2L542.4 625.1L556.1 627.9L569.8 628.4L583.4 628.4L597.1 628.3"/>
<path d="M64.1 577L77.7 610L91.4 598.7L105.1 628.2L118.7 623.9L132.4 626.5L146.1 628.2L159.7 628.3L173.4 628.4L187.1 628.4L200.7 627.7L214.4 628.3L228.1 628.4L241.7 628.4L255.4 627.3L269.1 627.6L282.7 627.6L296.4 627.6L310.1 628.4L323.8 628L337.4 628.2L351.1 627.7L364.8 628.2L378.4 628L392.1 628L405.8 628.3L419.4 628.2L433.1 628.4L446.8 628.4L460.4 628L474.1 628.4L487.8 628.4L501.4 628.3L515.1 628.4L528.8 628.4L542.4 628.4L556.1 628.3L569.8 628.3L583.4 617.2L597.1 620.6"/>
<path d="M64.1 557.9L77.7 590.8L91.4 598.2L105.1 623.6L118.7 627L132.4 628.4L146.1 628.4L159.7 627.5L173.4 627.6L187.1 628.4L200.7 628.4L214.4 627.5L228.1 624.5L241.7 627.5L255.4 628.4L269.1 628.3L282.7 628.4L296.4 628.4L310.1 628.4L323.8 627.5L337.4 628.4L351.1 628.4L364.8 628.2L378.4 627.8L392.1 628.1L405.8 628.4L419.4 628.1L433.1 628.1L446.8 628.4L460.4 628.1L474.1 628.4L487.8 628.4L501.4 628.4L515.1 627.6L528.8 628.2L542.4 628.3L556.1 628L569.8 628.2L583.4 628.4L597.1 627.8"/>
<path d="M64.1 571.3L77.7 596.5L91.4 611.8L105.1 607.8L118.7 609.4L132.4 623.4L146.1 628.4L159.7 628.3L173.4 628L187.1 627.6L200.7 628.4L214.4 628.4L228.1 628.4L241.7 628.4L255.4 628.2L269.1 628.4L282.7 628.4L296.4 628.4L310.1 628L323.8 628.4L337.4 628.1L351.1 628.4L364.8 628.1L378.4 628.4L392.1 627.5L405.8 628.4L419.4 628.4L433.1 628.4L446.8 628.4L460.4 628.2L474.1 628.4L487.8 628.4L501.4 627.5L515.1 628.4L528.8 628L542.4 628.4L556.1 628.3L569.8 628.4L583.4 628.4L597.1 628.4"/>
<path d="M64.1 582.8L77.7 614L91.4 623.1L105.1 610L118.7 618.4L132.4 627.1L146.1 628.2L159.7 628.1L173.4 628.4L187.1 628.4L200.7 628L214.4 628.4L228.1 628.4L241.7 627.5L255.4 628.4L269.1 628.1L282.7 628.4L296.4 627.9L310.1 628.3L323.8 627.6L337.4 628.3L351.1 627.9L364.8 628.4L378.4 627.8L392.1 628.4L405.8 627.6L419.4 628.3L433.1 627.7L446.8 628.4L460.4 628.4L474.1 627.7L487.8 628.4L501.4 628.3L515.1 628.4L528.8 628.4L542.4 628.4L556.1 628.4L569.8 628.4L583.4 627.8L597.1 628.4"/>
<path d="M64.1 615.5L77.7 603.9L91.4 593.8L105.1 614.5L118.7 623L132.4 628.1L146.1 628.3L159.7 628.3L173.4 628.1L187.1 628.4L200.7 627.6L214.4 627.8L228.1 628.4L241.7 628.4L255.4 628.4L269.1 628.4L282.7 628.4L296.4 628.4L310.1 628.2L323.8 627.8L337.4 628.3L351.1 628.4L364.8 628.4L378.4 628.4L392.1 627.6L405.8 628.4L419.4 628.4L433.1 628.3L446.8 628.2L460.4 628.4L474.1 628.4L487.8 628.4L501.4 628L515.1 628.4L528.8 628.4L542.4 628.4L556.1 628.4L569.8 628.4L583.4 628.4L597.1 628"/>
<path d="M64.1 567.1L77.7 599.8L91.4 624.2L105.1 626.5L118.7 626.6L132.4 627.4L146.1 627.9L159.7 628.4L173.4 628.4L187.1 627.4L200.7 628.3L214.4 628.1L228.1 628.4L241.7 628.3L255.4 628.4L269.1 628.4L282.7 628.4L296.4 627.9L310.1 628.4L323.8 628.2L337.4 628.4L351.1 628.3L364.8 627.9L378.4 628.4L392.1 628.4L405.8 627.4L419.4 628L433.1 627.8L446.8 628.3L460.4 628.4L474.1 628.4L487.8 627.9L501.4 628.4L515.1 627.6L528.8 627.6L542.4 627.5L556.1 628.1L569.8 628.3L583.4 628.4L597.1 628"/>
<path d="M64.1 585.2L77.7 575.4L91.4 626.6L105.1 628.2L118.7 626.7L132.4 628.4L146.1 628L159.7 628.4L173.4 628.4L187.1 628.3L200.7 628.1L214.4 627.3L228.1 628.4L241.7 628.4L255.4 628.4L269.1 628.4L282.7 628.4L296.4 628.4L310.1 628.4L323.8 628.3L337.4 627.3L351.1 628.4L364.8 628.2L378.4 628.4L392.1 628.4L405.8 628.4L419.4 627.4L433.1 628.4L446.8 628.3L460.4 628.4L474.1 627.6L487.8 628.4L501.4 628.4L515.1 627.8L528.8 628.4L542.4 628.4L556.1 628.4L569.8 628.4L583.4 628.4L597.1 628.2"/>
<path d="M64.1 617.1L77.7 598.4L91.4 619.2L105.1 625.7L118.7 628.4L132.4 625.1L146.1 627.6L159.7 628.1L173.4 628.2L187.1 628.4L200.7 628.3L214.4 627.9L228.1 628.2L241.7 627.8L255.4 628.1L269.1 628.2L282.7 627.7L296.4 628L310.1 628.4L323.8 628.4L337.4 628.4L351.1 628.4L364.8 628.3L378.4 628.4L392.1 628.3L405.8 628.4L419.4 628.4L433.1 628.4L446.8 628.3L460.4 628.4L474.1 628.4L487.8 628.1L501.4 628.3L515.1 628.3L528.8 628.4L542.4 628.4L556.1 628.4L569.8 628.4L583.4 628.3L597.1 627.9"/>
<path d="M64.1 573.2L77.7 580.1L91.4 600.7L105.1 618.8L118.7 627.8L132.4 628L146.1 628.4L159.7 628.4L173.4 627.7L187.1 627.5L200.7 628.4L214.4 628.3L228.1 628.1L241.7 628.4L255.4 628.2L269.1 628L282.7 628.4L296.4 628.3L310.1 628L323.8 627.5L337.4 628.4L351.1 628.4L364.8 628.2L378.4 628.3L392.1 628.4L405.8 628.4L419.4 628.4L433.1 627.7L446.8 628.4L460.4 628.4L474.1 628.4L487.8 628.3L501.4 628.4L515.1 628.1L528.8 628.1L542.4 628.4L556.1 628.3L569.8 628.4L583.4 628.4L597.1 627.9"/>
<path d="M64.1 621.1L77.7 582L91.4 594.6L105.1 628.3L118.7 627.3L132.4 628.4L146.1 628.4L159.7 628.4L173.4 628.2L187.1 628.4L200.7 628.2L214.4 627.7L228.1 627.7L241.7 628.4L255.4 628.4L269.1 628.3L282.7 628.4L296.4 628.4L310.1 628.4L323.8 627.5L337.4 628.3L351.1 628.4L364.8 628.4L378.4 628.4L392.1 628.4L405.8 627.9L419.4 628.4L433.1 627.4L446.8 628.4L460.4 628.3L474.1 628.4L487.8 628.4L501.4 628.4L515.1 627.3L528.8 628.4L542.4 627.6L556.1 628.4L569.8 628.4L583.4 628.4L597.1 628.4"/>
<path d="M64.1 563.3L77.7 602.8L91.4 622.8L105.1 626.2L118.7 628.4L132.4 628.4L146.1 628.4L159.7 628.4L173.4 628.4L187.1 628.3L200.7 628.4L214.4 628.2L228.1 628.4L241.7 628.4L255.4 628.4L269.1 628.4L282.7 628.4L296.4 628.4L310.1 628.4L323.8 628.4L337.4 628.4L351.1 628L364.8 628.4L378.4 628.4L392.1 627.5L405.8 628.4L419.4 628.4L433.1 628.4L446.8 628.4L460.4 627.4L474.1 628.4L487.8 628.4L501.4 628.4L515.1 628L528.8 628.3L542.4 627.7L556.1 628.4L569.8 628.4L583.4 628.4L597.1 628.3"/>
<path d="M64.1 590L77.7 593.9L91.4 613.3L105.1 610.7L118.7 627.6L132.4 628.3L146.1 628.4L159.7 627.4L173.4 628.4L187.1 628.4L200.7 628.4L214.4 627.7L228.1 628.4L241.7 627.7L255.4 627.9L269.1 628.4L282.7 628.3L296.4 628.4L310.1 627.8L323.8 628.2L337.4 628.2L351.1 628.3L364.8 628.3L378.4 628.2L392.1 627.8L405.8 628.4L419.4 628.4L433.1 628.4L446.8 628.1L460.4 627.9L474.1 628.4L487.8 628.3L501.4 628L515.1 628.1L528.8 628.1L542.4 628.4L556.1 628.3L569.8 628.4L583.4 628.4L597.1 628.4"/>
<path d="M64.1 594.5L77.7 605.1L91.4 598.4L105.1 614.8L118.7 627.4L132.4 625.9L146.1 628.4L159.7 628.2L173.4 628.4L187.1 628.2L200.7 628.1L214.4 627.6L228.1 627.5L241.7 628.3L255.4 627.7L269.1 628.4L282.7 628.2L296.4 628.4L310.1 627.9L323.8 628.4L337.4 628.1L351.1 627.9L364.8 628.2L378.4 628.4L392.1 628.3L405.8 628L419.4 628.4L433.1 627.4L446.8 628.4L460.4 628.4L474.1 628.3L487.8 628.4L501.4 628.3L515.1 628.4L528.8 627.5L542.4 628.4L556.1 628.4L569.8 628.4L583.4 628.4L597.1 628.3"/>
<path d="M64.1 614.4L77.7 587.3L91.4 605.4L105.1 625.4L118.7 628.4L132.4 628.4L146.1 628.4L159.7 628.1L173.4 628.4L187.1 628.4L200.7 628.4L214.4 628.2L228.1 627.8L241.7 628.4L255.4 628.4L269.1 627.5L282.7 628.4L296.4 628.4L310.1 628.4L323.8 628.3L337.4 628.4L351.1 627.6L364.8 628.1L378.4 628.4L392.1 628.4L405.8 627.8L419.4 628.1L433.1 628.4L446.8 628.3L460.4 628.4L474.1 628.4L487.8 628.2L501.4 628.3L515.1 628.3L528.8 628.3L542.4 628.4L556.1 628.4L569.8 628.2L583.4 627.4L597.1 628.4"/>
<path d="M64.1 557.5L77.7 589.5L91.4 614.8L105.1 627L118.7 621.2L132.4 627.6L146.1 628.4L159.7 628L173.4 628.3L187.1 628.3L200.7 628.4L214.4 628.4L228.1 628.1L241.7 628.4L255.4 628.4L269.1 628.3L282.7 628.4L296.4 628.4L310.1 628.4L323.8 628.4L337.4 628.4L351.1 628.3L364.8 628L378.4 628.4L392.1 628.4L405.8 628.4L419.4 628.4L433.1 628.4L446.8 628.4L460.4 628.1L474.1 628.3L487.8 628.1L501.4 627.7L515.1 627.8L528.8 628.4L542.4 628.4L556.1 628.4L569.8 627.9L583.4 627.8L597.1 628.3"/>
<path d="M64.1 601.9L77.7 570.6L91.4 624L105.1 628.2L118.7 628.4L132.4 628.4L146.1 627.2L159.7 628.3L173.4 628.4L187.1 628L200.7 628.3L214.4 628.4L228.1 628.2L241.7 628.4L255.4 628.3L269.1 627.5L282.7 628.4L296.4 627.6L310.1 628.4L323.8 628.4L337.4 628.4L351.1 628L364.8 628.4L378.4 628.4L392.1 628.1L405.8 628.3L419.4 628.1L433.1 628.1L446.8 627.6L460.4 628.4L474.1 627.9L487.8 628.4L501.4 628.4L515.1 628.4L528.8 627.8L542.4 628.3L556.1 628.4L569.8 628.4L583.4 628.4L597.1 628.4"/>
<path d="M64.1 580.8L77.7 555.6L91.4 620.2L105.1 627L118.7 628.4L132.4 626.5L146.1 628.4L159.7 628L173.4 628.2L187.1 628.4L200.7 628.4L214.4 628.4L228.1 628.4L241.7 628.1L255.4 627.4L269.1 628.3L282.7 628.4L296.4 628.1L310.1 628.3L323.8 628L337.4 628.4L351.1 628.2L364.8 628.4L378.4 628.4L392.1 628.4L405.8 627.8L419.4 628.4L433.1 628.4L446.8 627.7L460.4 628.4L474.1 628.4L487.8 628.4L501.4 628.4L515.1 628.3L528.8 628.4L542.4 627.9L556.1 628.1L569.8 628.3L583.4 628.4L597.1 628.1"/>
<path d="M64.1 567.4L77.7 577.7L91.4 608.3L105.1 615.7L118.7 628.2L132.4 628.1L146.1 628.4L159.7 628.4L173.4 628.4L187.1 628.4L200.7 628L214.4 628.3L228.1 628.3L241.7 627.7L255.4 628L269.1 628.4L282.7 628.4L296.4 628.4L310.1 627.8L323.8 627.5L337.4 627.5L351.1 628.4L364.8 628.3L378.4 628.4L392.1 628.4L405.8 628.1L419.4 628.4L433.1 628.4L446.8 628.4L460.4 628.4L474.1 628.4L487.8 628.4L501.4 628.4L515.1 628.4L528.8 627.7L542.4 628.4L556.1 628.4L569.8 628.4L583.4 627.8L597.1 627.9"/>
<path d="M64.1 608.2L77.7 609.3L91.4 605.2L105.1 627.3L118.7 622.6L132.4 628.3L146.1 628.3L159.7 628.4L173.4 628L187.1 627.7L200.7 628L214.4 628.1L228.1 628.4L241.7 628.4L255.4 628.4L269.1 628.3L282.7 628L296.4 628.4L310.1 628.4L323.8 628.4L337.4 628.3L351.1 628.4L364.8 628.4L378.4 628.4L392.1 628.3L405.8 628.4L419.4 627.5L433.1 628.4L446.8 627.8L460.4 628.4L474.1 628.4L487.8 627.9L501.4 628.4L515.1 628.4L528.8 628.3L542.4 628.3L556.1 628.4L569.8 627.8L583.4 628L597.1 628.4"/>
<path d="M64.1 610.2L77.7 590.7L91.4 597.4L105.1 625.7L118.7 627.4L132.4 628.4L146.1 628.2L159.7 627.4L173.4 627.8L187.1 628.4L200.7 628.4L214.4 628.3L228.1 628.3L241.7 628.1L255.4 628.4L269.1 628.2L282.7 627.3L296.4 628.4L310.1 628.4L323.8 628.4L337.4 627.8L351.1 628.4L364.8 628.4L378.4 628.4L392.1 627.8L405.8 628.4L419.4 628.4L433.1 628.2L446.8 628.4L460.4 628.2L474.1 628.4L487.8 628.4L501.4 628L515.1 628.4L528.8 628.4L542.4 628.4L556.1 628L569.8 628L583.4 628.1L597.1 628.4"/>
<path d="M64.1 595.5L77.7 576.5L91.4 615L105.1 609.6L118.7 628.4L132.4 627.9L146.1 627.9L159.7 628.4L173.4 628.4L187.1 628.4L200.7 628.1L214.4 628.4L228.1 628.4L241.7 628.4L255.4 628.4L269.1 627.5L282.7 628.3L296.4 627.8L310.1 628.4L323.8 628L337.4 627.9L351.1 628.4L364.8 627.5L378.4 628.4L392.1 628.3L405.8 628.4L419.4 628.2L433.1 628.4L446.8 628.3L460.4 628.2L474.1 628.4L487.8 628.3L501.4 628.4L515.1 628.4L528.8 628.4L542.4 628.4L556.1 628.2L569.8 628.4L583.4 627.8L597.1 628.4"/>
<path d="M64.1 567.8L77.7 600.6L91.4 623.1L105.1 628.3L118.7 624.2L132.4 626.4L146.1 628.3L159.7 628.4L173.4 628L187.1 628.4L200.7 628.4L214.4 628.3L228.1 628.3L241.7 628.1L255.4 628.1L269.1 627.3L282.7 628.4L296.4 627.5L310.1 628.4L323.8 628.2L337.4 628.4L351.1 628.4L364.8 628.4L378.4 628.4L392.1 628.3L405.8 628.4L419.4 628.4L433.1 628.4L446.8 628.4L460.4 628.4L474.1 628.2L487.8 628.4L501.4 628.4L515.1 627.4L528.8 628.1L542.4 628.1L556.1 627.9L569.8 628.4L583.4 628.4L597.1 628.4"/>
<path d="M64.1 608.9L77.7 560L91.4 626.4L105.1 610.3L118.7 628L132.4 626.8L146.1 628.2L159.7 628.3L173.4 628.4L187.1 628.3L200.7 628.4L214.4 628L228.1 628.4L241.7 628.4L255.4 628.3L269.1 628.4L282.7 628.4L296.4 627.3L310.1 628.1L323.8 628.4L337.4 628.4L351.1 628.4L364.8 628.4L378.4 628.4L392.1 628.4L405.8 628.4L419.4 628.4L433.1 627.9L446.8 628.1L460.4 627.4L474.1 628.3L487.8 628.4L501.4 628.4L515.1 627.7L528.8 628.3L542.4 628L556.1 628.4L569.8 628.4L583.4 627.5L597.1 628.4"/>
<path d="M64.1 561.6L77.7 571.8L91.4 621.9L105.1 619.1L118.7 628L132.4 628.4L146.1 627.8L159.7 627.3L173.4 627.9L187.1 628.2L200.7 628.1L214.4 628L228.1 628.4L241.7 627.7L255.4 628.4L269.1 628.4L282.7 628.3L296.4 628.4L310.1 628.1L323.8 627.4L337.4 628.2L351.1 628.4L364.8 628.4L378.4 628.1L392.1 628.3L405.8 628.4L419.4 628.4L433.1 628.4L446.8 628.4L460.4 628.4L474.1 628.4L487.8 628.1L501.4 628.4L515.1 628.4L528.8 628.4L542.4 628.4L556.1 628.4L569.8 628.4L583.4 628.4L597.1 628"/>
<path d="M64.1 560.2L77.7 557L91.4 621L105.1 620.8L118.7 628.2L132.4 628.2L146.1 627L159.7 628.4L173.4 628.3L187.1 628.4L200.7 628.3L214.4 628.3L228.1 628.4L241.7 628.4L255.4 628.2L269.1 628.4L282.7 628L296.4 628.4L310.1 628.4L323.8 628.3L337.4 628.3L351.1 628.3L364.8 628L378.4 628.4L392.1 627.6L405.8 627.8L419.4 627.7L433.1 628.1L446.8 628.4L460.4 627.9L474.1 627.5L487.8 627.5L501.4 627.8L515.1 628.1L528.8 628.4L542.4 628.4L556.1 628.3L569.8 627.8L583.4 628.4L597.1 628.4"/>
<path d="M64.1 575.6L77.7 603.7L91.4 617.5L105.1 626.5L118.7 628.4L132.4 628.4L146.1 627.7L159.7 627.4L173.4 628.1L187.1 627.5L200.7 628.4L214.4 628.4L228.1 627.5L241.7 628.4L255.4 628.4L269.1 628.3L282.7 627.7L296.4 628.4L310.1 628.4L323.8 628.3L337.4 628.4L351.1 628.3L364.8 628.4L378.4 628.4L392.1 628.3L405.8 628.2L419.4 628.2L433.1 628.3L446.8 628.4L460.4 628.2L474.1 628.4L487.8 628.4L501.4 628.4L515.1 628.1L528.8 628.4L542.4 628.4L556.1 628.2L569.8 628.4L583.4 628.4L597.1 627.6"/>
<path d="M64.1 602.3L77.7 567.9L91.4 626.3L105.1 617L118.7 628.3L132.4 627.5L146.1 628.2L159.7 627.7L173.4 628.4L187.1 628.4L200.7 627.6L214.4 628.4L228.1 628L241.7 628.4L255.4 628.4L269.1 628.1L282.7 628.4L296.4 628.4L310.1 628.3L323.8 628.3L337.4 628.1L351.1 628.3L364.8 628.4L378.4 628.2L392.1 628.4L405.8 627.8L419.4 627.4L433.1 628L446.8 628.4L460.4 628.4L474.1 627.8L487.8 628.4L501.4 627.7L515.1 628.4L528.8 628.4L542.4 628.4L556.1 628.4L569.8 628.2L583.4 627.3L597.1 628.4"/>
<path d="M64.1 610.8L77.7 591L91.4 611.7L105.1 619.3L118.7 626.6L132.4 628L146.1 628L159.7 628.3L173.4 627.8L187.1 628.3L200.7 627.4L214.4 628.3L228.1 628.1L241.7 628.4L255.4 628L269.1 628.1L282.7 628.4L296.4 628.4L310.1 628.4L323.8 628.4L337.4 628.2L351.1 628.4L364.8 628.4L378.4 627.7L392.1 628.1L405.8 628.3L419.4 628.4L433.1 628.4L446.8 628.3L460.4 628.4L474.1 628.3L487.8 628.3L501.4 628.2L515.1 628L528.8 628.4L542.4 628.4L556.1 627.4L569.8 628.4L583.4 628.4L597.1 628.4"/>
<path d="M64.1 577L77.7 606.6L91.4 620.1L105.1 628.3L118.7 626L132.4 626.2L146.1 627.2L159.7 628.3L173.4 628.4L187.1 627.9L200.7 628.4L214.4 628.4L228.1 628.4L241.7 628.4L255.4 628.4L269.1 627.8L282.7 628.4L296.4 628.4L310.1 628.4L323.8 628.4L337.4 628.4L351.1 628.4L364.8 628L378.4 628.4L392.1 627.8L405.8 628.4L419.4 628.4L433.1 627.6L446.8 628.3L460.4 627.7L474.1 627.9L487.8 628.3L501.4 628.2L515.1 627.6L528.8 628.4L542.4 628L556.1 627.9L569.8 628.4L583.4 628.4L597.1 628.4"/>
<path d="M64.1 571.8L77.7 581.2L91.4 615.9L105.1 628.4L118.7 628.4L132.4 628.3L146.1 628.3L159.7 627.4L173.4 628.4L187.1 628.2L200.7 628.4L214.4 628.3L228.1 628L241.7 628.4L255.4 628.4L269.1 628.4L282.7 628.4L296.4 628.3L310.1 627.6L323.8 628.4L337.4 628.3L351.1 628.4L364.8 628.4L378.4 628.4L392.1 628.1L405.8 628.4L419.4 628.2L433.1 628.3L446.8 628.4L460.4 628.2L474.1 628.4L487.8 627.9L501.4 628.1L515.1 628.4L528.8 628.4L542.4 628L556.1 628L569.8 627.9L583.4 627.9L597.1 628"/>
<path d="M64.1 577.3L77.7 597.7L91.4 592.3L105.1 628.3L118.7 628.4L132.4 628.4L146.1 628.4L159.7 628.4L173.4 627.6L187.1 628.4L200.7 628.3L214.4 627.9L228.1 628.4L241.7 628.2L255.4 628.2L269.1 627.7L282.7 628.4L296.4 628.3L310.1 628.3L323.8 628.2L337.4 628.3L351.1 627.6L364.8 627.8L378.4 628.4L392.1 628.4L405.8 628.4L419.4 627.7L433.1 628.4L446.8 627.4L460.4 628.4L474.1 627.3L487.8 628.4L501.4 628.4L515.1 628.4L528.8 628.1L542.4 628.4L556.1 628.3L569.8 628.4L583.4 627.8L597.1 628.3"/>
<path d="M64.1 566.8L77.7 587.5L91.4 603.1L105.1 628.2L118.7 621.5L132.4 628.4L146.1 628.2L159.7 628.4L173.4 628.4L187.1 628.4L200.7 628.4L214.4 628.4L228.1 628.4L241.7 628.1L255.4 628L269.1 628.3L282.7 628.3L296.4 628.4L310.1 628.4L323.8 627.9L337.4 628.4L351.1 628.4L364.8 627.4L378.4 627.4L392.1 628.4L405.8 627.9L419.4 628.1L433.1 628.4L446.8 628.3L460.4 627.6L474.1 628.4L487.8 628.4L501.4 628.4L515.1 627.7L528.8 628.4L542.4 628.4L556.1 628.3L569.8 627.3L583.4 628.2L597.1 628.4"/>
</g>
<path d="M64.1 603.5L77.7 558.9L91.4 622.5L105.1 626.7L118.7 627.5L132.4 627.5L146.1 627.5L159.7 627.5L173.4 627.5L187.1 624.2L200.7 627.5L214.4 627.5L228.1 627.5L241.7 627.5L255.4 627.5L269.1 627.5L282.7 627.5L296.4 627.5L310.1 627.5L323.8 627.5L337.4 627.5L351.1 627.5L364.8 627.5L378.4 627.5L392.1 627.5L405.8 627.5L419.4 627.5L433.1 627.5L446.8 627.5L460.4 627.5L474.1 627.5L487.8 627.5L501.4 627.5L515.1 623.6L528.8 608L542.4 627.5L556.1 627.5L569.8 627.5L583.4 627.5L597.1 627.5" fill="none" stroke="#c4006c" stroke-width="2.7" stroke-linejoin="round"/>
<path d="M64.1 581.3L77.7 585.8L91.4 619.2L105.1 626.5L118.7 627.6L132.4 627.6L146.1 627.6L159.7 627.6L173.4 627.6L187.1 627.6L200.7 627.6L214.4 627.6L228.1 627.6L241.7 627.6L255.4 627.6L269.1 627.6L282.7 627.6L296.4 627.6L310.1 627.6L323.8 627.6L337.4 627.6L351.1 627.6L364.8 627.6L378.4 627.6L392.1 627.6L405.8 627.6L419.4 627.6L433.1 627.6L446.8 627.6L460.4 627.6L474.1 627.6L487.8 627.6L501.4 627.6L515.1 627.6L528.8 627.6L542.4 627.6L556.1 627.6L569.8 627.6L583.4 627.6L597.1 627.6" fill="none" stroke="#c4006c" stroke-width="3.3" stroke-dasharray="5.6 1.8" stroke-linejoin="round"/>
<path class="fr" d="M50.5 428.5 H624.5 V628.5 H50.5"/>
<g class="tick">
<line x1="50.5" y1="628.5" x2="50.5" y2="635.1"/>
<line x1="64.5" y1="628.5" x2="64.5" y2="633.1"/>
<line x1="77.5" y1="628.5" x2="77.5" y2="633.1"/>
<line x1="91.5" y1="628.5" x2="91.5" y2="633.1"/>
<line x1="105.5" y1="628.5" x2="105.5" y2="635.1"/>
<line x1="118.5" y1="628.5" x2="118.5" y2="633.1"/>
<line x1="132.5" y1="628.5" x2="132.5" y2="633.1"/>
<line x1="146.5" y1="628.5" x2="146.5" y2="633.1"/>
<line x1="159.5" y1="628.5" x2="159.5" y2="635.1"/>
<line x1="173.5" y1="628.5" x2="173.5" y2="633.1"/>
<line x1="187.5" y1="628.5" x2="187.5" y2="633.1"/>
<line x1="200.5" y1="628.5" x2="200.5" y2="633.1"/>
<line x1="214.5" y1="628.5" x2="214.5" y2="635.1"/>
<line x1="228.5" y1="628.5" x2="228.5" y2="633.1"/>
<line x1="241.5" y1="628.5" x2="241.5" y2="633.1"/>
<line x1="255.5" y1="628.5" x2="255.5" y2="633.1"/>
<line x1="269.5" y1="628.5" x2="269.5" y2="635.1"/>
<line x1="282.5" y1="628.5" x2="282.5" y2="633.1"/>
<line x1="296.5" y1="628.5" x2="296.5" y2="633.1"/>
<line x1="310.5" y1="628.5" x2="310.5" y2="633.1"/>
<line x1="323.5" y1="628.5" x2="323.5" y2="635.1"/>
<line x1="337.5" y1="628.5" x2="337.5" y2="633.1"/>
<line x1="351.5" y1="628.5" x2="351.5" y2="633.1"/>
<line x1="364.5" y1="628.5" x2="364.5" y2="633.1"/>
<line x1="378.5" y1="628.5" x2="378.5" y2="635.1"/>
<line x1="392.5" y1="628.5" x2="392.5" y2="633.1"/>
<line x1="405.5" y1="628.5" x2="405.5" y2="633.1"/>
<line x1="419.5" y1="628.5" x2="419.5" y2="633.1"/>
<line x1="433.5" y1="628.5" x2="433.5" y2="635.1"/>
<line x1="446.5" y1="628.5" x2="446.5" y2="633.1"/>
<line x1="460.5" y1="628.5" x2="460.5" y2="633.1"/>
<line x1="474.5" y1="628.5" x2="474.5" y2="633.1"/>
<line x1="487.5" y1="628.5" x2="487.5" y2="635.1"/>
<line x1="501.5" y1="628.5" x2="501.5" y2="633.1"/>
<line x1="515.5" y1="628.5" x2="515.5" y2="633.1"/>
<line x1="528.5" y1="628.5" x2="528.5" y2="633.1"/>
<line x1="542.5" y1="628.5" x2="542.5" y2="635.1"/>
<line x1="556.5" y1="628.5" x2="556.5" y2="633.1"/>
<line x1="569.5" y1="628.5" x2="569.5" y2="633.1"/>
<line x1="583.5" y1="628.5" x2="583.5" y2="633.1"/>
<line x1="597.5" y1="628.5" x2="597.5" y2="635.1"/>
<line x1="610.5" y1="628.5" x2="610.5" y2="633.1"/>
<line x1="624.5" y1="628.5" x2="624.5" y2="633.1"/>
<line x1="42" y1="433.5" x2="50.5" y2="433.5"/>
<line x1="42" y1="461.5" x2="50.5" y2="461.5"/>
<line x1="42" y1="489.5" x2="50.5" y2="489.5"/>
<line x1="42" y1="516.5" x2="50.5" y2="516.5"/>
<line x1="42" y1="544.5" x2="50.5" y2="544.5"/>
<line x1="42" y1="572.5" x2="50.5" y2="572.5"/>
<line x1="42" y1="600.5" x2="50.5" y2="600.5"/>
<line x1="42" y1="628.5" x2="50.5" y2="628.5"/>
</g>
<line class="ax" x1="50.5" y1="428" x2="50.5" y2="635"/>
<text class="tk" x="40.5" y="436.9" text-anchor="end">35</text>
<text class="tk" x="40.5" y="464.9" text-anchor="end">30</text>
<text class="tk" x="40.5" y="492.9" text-anchor="end">25</text>
<text class="tk" x="40.5" y="519.9" text-anchor="end">20</text>
<text class="tk" x="40.5" y="547.9" text-anchor="end">15</text>
<text class="tk" x="40.5" y="575.9" text-anchor="end">10</text>
<text class="tk" x="40.5" y="603.9" text-anchor="end">5</text>
<text class="tk" x="40.5" y="631.9" text-anchor="end">0</text>
<text class="tk" x="78.1" y="650.5" text-anchor="middle">Mon22</text>
<text class="tk" x="132.8" y="650.5" text-anchor="middle">Tue23</text>
<text class="tk" x="187.5" y="650.5" text-anchor="middle">Wed24</text>
<text class="tk" x="242.1" y="650.5" text-anchor="middle">Thu25</text>
<text class="tk" x="296.8" y="650.5" text-anchor="middle">Fri26</text>
<text class="tk" x="351.5" y="650.5" text-anchor="middle">Sat27</text>
<text class="tk" x="406.2" y="650.5" text-anchor="middle" style="fill:#ff1414;stroke:#ff1414">Sun28</text>
<text class="tk" x="460.8" y="650.5" text-anchor="middle">Mon29</text>
<text class="tk" x="515.5" y="650.5" text-anchor="middle">Tue30</text>
<text class="tk" x="570.2" y="650.5" text-anchor="middle">Wed31</text>
<text class="tk" x="624.8" y="650.5" text-anchor="middle">Thu 1</text>
<text class="ct" x="34.5" y="688">Geopotential at 500 hPa - Probability for 2.5dam intervals</text>
<g class="grid">
<line class="gv" x1="105.5" y1="698.2" x2="105.5" y2="894.5"/>
<line class="gv" x1="159.5" y1="698.2" x2="159.5" y2="894.5"/>
<line class="gv" x1="214.5" y1="698.2" x2="214.5" y2="894.5"/>
<line class="gv" x1="269.5" y1="698.2" x2="269.5" y2="894.5"/>
<line class="gv" x1="323.5" y1="698.2" x2="323.5" y2="894.5"/>
<line class="gv" x1="378.5" y1="698.2" x2="378.5" y2="894.5"/>
<line class="gv" x1="433.5" y1="698.2" x2="433.5" y2="894.5"/>
<line class="gv" x1="487.5" y1="698.2" x2="487.5" y2="894.5"/>
<line class="gv" x1="542.5" y1="698.2" x2="542.5" y2="894.5"/>
<line class="gv" x1="597.5" y1="698.2" x2="597.5" y2="894.5"/>
</g>
<clipPath id="c3"><path d="M67 806.7C68.4 806.5 73.5 807.8 75.2 805.2C76.9 802.6 76.2 793.8 77.4 791.1C78.6 788.4 80.2 789.4 82.6 788.9C84.9 788.4 89.7 789.3 91.5 788.1C93.3 786.9 92.2 782.9 93.7 781.5C95.2 780.1 96.6 780.3 100.4 780C104.2 779.7 113.8 781.1 116.7 779.7C119.7 778.4 117.1 774.2 118.1 771.9C119.1 769.6 120.9 767.3 122.6 765.9C124.3 764.5 125.8 764.3 128.5 763.7C131.2 763.1 135.8 762.6 138.9 762.2C142.1 761.8 145.5 762 147.4 761.1C149.3 760.2 148.4 757.8 150.4 756.7C152.4 755.6 155.4 755 159.3 754.4C163.2 753.8 170.9 754.2 174.1 753.4C177.3 752.5 176.3 750.4 178.5 749.3C180.7 748.2 183.9 747.5 187.4 747C190.9 746.5 196.1 746.4 199.3 746.6C202.5 746.9 204.7 747.4 206.7 748.5C208.7 749.6 209.1 752.1 211.1 753C213.1 753.9 215.5 753.7 218.5 753.7C221.5 753.7 226.7 754 228.9 753C231.1 752 230.5 749.2 231.9 747.8C233.3 746.4 235.2 745.1 237.4 744.4C239.6 743.7 243.1 744.6 244.8 743.7C246.5 742.9 245.8 740.4 247.8 739.3C249.8 738.2 253.2 737.5 256.7 737C260.1 736.5 264.8 736.7 268.5 736.3C272.2 735.9 276.7 736.3 278.9 734.8C281.1 733.3 280.2 728.8 281.9 727.4C283.6 726 286.8 727.2 289.3 726.7C291.8 726.2 295.2 725.6 296.7 724.4C298.2 723.2 296.4 720.3 298.1 719.3C299.8 718.3 303.5 718.6 307 718.5C310.5 718.4 313.4 718.5 318.9 718.5C324.4 718.5 333.1 718.8 340 718.7C346.9 718.7 353.3 718.3 360 718.2C366.7 718.1 374.8 717.8 380 718.3C385.2 718.8 387.7 721.4 391 721.5C394.3 721.6 396.8 719.5 400 719C403.2 718.5 404.4 718.7 410 718.7C415.6 718.7 428.4 718.8 433.7 719.1C438.9 719.4 439.4 719.2 441.5 720.3C443.6 721.4 443.7 724.8 446.3 725.8C448.9 726.8 452.8 726.2 457.3 726.6C461.8 727 468.9 727.3 473.1 728.1C477.3 728.9 480 729.8 482.6 731.3C485.2 732.8 486.5 734.8 488.9 736.8C491.3 738.8 495 740.6 496.8 743.1C498.6 745.6 497.7 750.1 499.9 751.8C502.1 753.5 507.1 753.2 510 753.4C512.9 753.6 515.6 753.9 517.4 753.1C519.1 752.3 518.7 749.5 520.5 748.4C522.3 747.3 525.8 746.5 528.4 746.8C531 747.1 534.2 748.8 536.3 750C538.4 751.2 538.1 753.1 541 753.9C543.9 754.7 550.5 755.1 553.6 754.7C556.8 754.3 558 752.8 559.9 751.5C561.8 750.2 562.9 748 564.7 746.8C566.6 745.6 569.2 745.6 571 744.4C572.8 743.2 573.6 740.9 575.7 739.7C577.8 738.5 580.2 737.9 583.6 737.4C587 736.9 594.1 737.1 596.2 737L596.2 877.8C594.6 877.8 589.4 878.1 586.7 877.8C584 877.5 585.2 876.4 580 876.2C574.8 876 561.1 877 555.6 876.7C550.1 876.4 548.9 875.6 546.7 874.4C544.5 873.2 544.8 871.1 542.2 869.6C539.6 868.1 533.7 867.3 531.1 865.6C528.5 863.9 531.2 860.3 526.7 859.3C522.2 858.2 511.4 859.5 504.4 859.3C497.3 859 489 859.2 484.4 857.8C479.8 856.4 478.5 853.7 476.7 851.1C474.9 848.5 475.1 843.9 473.3 842.2C471.5 840.5 468.9 841.5 466 841C463.1 840.5 458.2 840.4 455.7 839.3C453.2 838.2 453.9 835.9 451 834.6C448.1 833.3 441 833.3 438.4 831.5C435.8 829.7 436.5 825.2 435.2 823.6C433.9 822 432.6 823.6 430.5 822C428.4 820.4 424.7 816.9 422.6 814.1C420.5 811.3 420.2 806.8 417.9 805.4C415.6 804 413.4 805.5 408.9 805.5C404.4 805.5 395.3 805.8 391.1 805.5C386.9 805.2 385.4 805 383.7 803.7C382 802.4 381.9 799 380.7 797.8C379.5 796.6 378.3 796.9 376.3 796.3C374.3 795.7 370.9 795.2 368.9 794C366.9 792.8 366.9 789.9 364.4 788.9C361.9 787.9 356.7 788 354 788.1C351.3 788.2 349.8 788.6 348.1 789.6C346.4 790.6 345.9 793 343.7 794C341.5 795 338.4 795.5 334.8 795.6C331.2 795.7 325 795.2 321.9 794.8C318.8 794.4 317.9 794.3 315.9 793.3C313.9 792.3 312 789.4 310 788.9C308 788.4 306.2 789.2 304 790.4C301.8 791.6 298.7 794.6 296.7 796.3C294.7 798 294.4 799.5 292.2 800.7C290 801.9 286.3 803.5 283.3 803.7C280.3 804 276.6 803.1 274.4 802.2C272.2 801.3 271.2 798.5 270 798.5C268.8 798.5 268.7 801.1 267 802.2C265.3 803.3 262.1 804 259.6 805.2C257.1 806.4 255.1 808.1 252.2 809.6C249.2 811.1 245.8 813.2 241.9 814.1C238 815 233.6 814.9 228.9 815.2C224.2 815.5 218.9 816.1 214 816C209.1 815.9 204.2 814.5 199.3 814.4C194.4 814.3 190.6 815.2 184.4 815.2C178.2 815.2 167.4 815 162.2 814.4C157 813.8 155.3 812.5 153.3 811.5C151.3 810.5 151.6 809 150.4 808.5C149.2 808 147 807.9 146 808.5C145 809.1 145.6 811.4 144.4 812.2C143.2 813 140.8 812.5 138.9 813.3C137 814.1 134.7 815.3 133 817C131.3 818.7 132.4 822.1 128.5 823.3C124.5 824.5 115 823.8 109.3 824.1C103.6 824.4 97.2 824.4 94.4 825.2C91.6 826 92.9 826.1 92.2 828.9C91.5 831.7 94.2 839.6 90 841.9C85.8 844.2 70.8 842.4 67 842.5Z"/><rect x="62" y="818" width="6" height="22"/></clipPath>
<g stroke="#a4a8b4" stroke-width="0.9">
<path fill="#a0b8f0" d="M67 806.7C68.4 806.5 73.5 807.8 75.2 805.2C76.9 802.6 76.2 793.8 77.4 791.1C78.6 788.4 80.2 789.4 82.6 788.9C84.9 788.4 89.7 789.3 91.5 788.1C93.3 786.9 92.2 782.9 93.7 781.5C95.2 780.1 96.6 780.3 100.4 780C104.2 779.7 113.8 781.1 116.7 779.7C119.7 778.4 117.1 774.2 118.1 771.9C119.1 769.6 120.9 767.3 122.6 765.9C124.3 764.5 125.8 764.3 128.5 763.7C131.2 763.1 135.8 762.6 138.9 762.2C142.1 761.8 145.5 762 147.4 761.1C149.3 760.2 148.4 757.8 150.4 756.7C152.4 755.6 155.4 755 159.3 754.4C163.2 753.8 170.9 754.2 174.1 753.4C177.3 752.5 176.3 750.4 178.5 749.3C180.7 748.2 183.9 747.5 187.4 747C190.9 746.5 196.1 746.4 199.3 746.6C202.5 746.9 204.7 747.4 206.7 748.5C208.7 749.6 209.1 752.1 211.1 753C213.1 753.9 215.5 753.7 218.5 753.7C221.5 753.7 226.7 754 228.9 753C231.1 752 230.5 749.2 231.9 747.8C233.3 746.4 235.2 745.1 237.4 744.4C239.6 743.7 243.1 744.6 244.8 743.7C246.5 742.9 245.8 740.4 247.8 739.3C249.8 738.2 253.2 737.5 256.7 737C260.1 736.5 264.8 736.7 268.5 736.3C272.2 735.9 276.7 736.3 278.9 734.8C281.1 733.3 280.2 728.8 281.9 727.4C283.6 726 286.8 727.2 289.3 726.7C291.8 726.2 295.2 725.6 296.7 724.4C298.2 723.2 296.4 720.3 298.1 719.3C299.8 718.3 303.5 718.6 307 718.5C310.5 718.4 313.4 718.5 318.9 718.5C324.4 718.5 333.1 718.8 340 718.7C346.9 718.7 353.3 718.3 360 718.2C366.7 718.1 374.8 717.8 380 718.3C385.2 718.8 387.7 721.4 391 721.5C394.3 721.6 396.8 719.5 400 719C403.2 718.5 404.4 718.7 410 718.7C415.6 718.7 428.4 718.8 433.7 719.1C438.9 719.4 439.4 719.2 441.5 720.3C443.6 721.4 443.7 724.8 446.3 725.8C448.9 726.8 452.8 726.2 457.3 726.6C461.8 727 468.9 727.3 473.1 728.1C477.3 728.9 480 729.8 482.6 731.3C485.2 732.8 486.5 734.8 488.9 736.8C491.3 738.8 495 740.6 496.8 743.1C498.6 745.6 497.7 750.1 499.9 751.8C502.1 753.5 507.1 753.2 510 753.4C512.9 753.6 515.6 753.9 517.4 753.1C519.1 752.3 518.7 749.5 520.5 748.4C522.3 747.3 525.8 746.5 528.4 746.8C531 747.1 534.2 748.8 536.3 750C538.4 751.2 538.1 753.1 541 753.9C543.9 754.7 550.5 755.1 553.6 754.7C556.8 754.3 558 752.8 559.9 751.5C561.8 750.2 562.9 748 564.7 746.8C566.6 745.6 569.2 745.6 571 744.4C572.8 743.2 573.6 740.9 575.7 739.7C577.8 738.5 580.2 737.9 583.6 737.4C587 736.9 594.1 737.1 596.2 737L596.2 877.8C594.6 877.8 589.4 878.1 586.7 877.8C584 877.5 585.2 876.4 580 876.2C574.8 876 561.1 877 555.6 876.7C550.1 876.4 548.9 875.6 546.7 874.4C544.5 873.2 544.8 871.1 542.2 869.6C539.6 868.1 533.7 867.3 531.1 865.6C528.5 863.9 531.2 860.3 526.7 859.3C522.2 858.2 511.4 859.5 504.4 859.3C497.3 859 489 859.2 484.4 857.8C479.8 856.4 478.5 853.7 476.7 851.1C474.9 848.5 475.1 843.9 473.3 842.2C471.5 840.5 468.9 841.5 466 841C463.1 840.5 458.2 840.4 455.7 839.3C453.2 838.2 453.9 835.9 451 834.6C448.1 833.3 441 833.3 438.4 831.5C435.8 829.7 436.5 825.2 435.2 823.6C433.9 822 432.6 823.6 430.5 822C428.4 820.4 424.7 816.9 422.6 814.1C420.5 811.3 420.2 806.8 417.9 805.4C415.6 804 413.4 805.5 408.9 805.5C404.4 805.5 395.3 805.8 391.1 805.5C386.9 805.2 385.4 805 383.7 803.7C382 802.4 381.9 799 380.7 797.8C379.5 796.6 378.3 796.9 376.3 796.3C374.3 795.7 370.9 795.2 368.9 794C366.9 792.8 366.9 789.9 364.4 788.9C361.9 787.9 356.7 788 354 788.1C351.3 788.2 349.8 788.6 348.1 789.6C346.4 790.6 345.9 793 343.7 794C341.5 795 338.4 795.5 334.8 795.6C331.2 795.7 325 795.2 321.9 794.8C318.8 794.4 317.9 794.3 315.9 793.3C313.9 792.3 312 789.4 310 788.9C308 788.4 306.2 789.2 304 790.4C301.8 791.6 298.7 794.6 296.7 796.3C294.7 798 294.4 799.5 292.2 800.7C290 801.9 286.3 803.5 283.3 803.7C280.3 804 276.6 803.1 274.4 802.2C272.2 801.3 271.2 798.5 270 798.5C268.8 798.5 268.7 801.1 267 802.2C265.3 803.3 262.1 804 259.6 805.2C257.1 806.4 255.1 808.1 252.2 809.6C249.2 811.1 245.8 813.2 241.9 814.1C238 815 233.6 814.9 228.9 815.2C224.2 815.5 218.9 816.1 214 816C209.1 815.9 204.2 814.5 199.3 814.4C194.4 814.3 190.6 815.2 184.4 815.2C178.2 815.2 167.4 815 162.2 814.4C157 813.8 155.3 812.5 153.3 811.5C151.3 810.5 151.6 809 150.4 808.5C149.2 808 147 807.9 146 808.5C145 809.1 145.6 811.4 144.4 812.2C143.2 813 140.8 812.5 138.9 813.3C137 814.1 134.7 815.3 133 817C131.3 818.7 132.4 822.1 128.5 823.3C124.5 824.5 115 823.8 109.3 824.1C103.6 824.4 97.2 824.4 94.4 825.2C91.6 826 92.9 826.1 92.2 828.9C91.5 831.7 94.2 839.6 90 841.9C85.8 844.2 70.8 842.4 67 842.5Z"/>
<path fill="#4677e0" d="M67 811.1C68.6 810.6 74.6 810.3 76.7 808.1C78.8 805.9 78.1 800 79.6 797.8C81.1 795.6 83.1 795.9 85.6 794.8C88.1 793.7 91 792.6 94.4 791.1C97.9 789.6 102.6 787.2 106.3 785.9C110 784.5 114.2 785 116.7 783C119.2 781 118.9 776.3 121.1 774.1C123.3 771.9 127 770.7 130 769.6C133 768.5 134.8 768.2 138.9 767.4C143 766.6 149.7 765.5 154.8 764.8C159.9 764.1 165.9 764.3 169.6 763.3C173.3 762.3 173.8 760.1 177 758.9C180.2 757.7 185.2 756.1 188.9 755.9C192.6 755.6 196.3 756.4 199.3 757.4C202.3 758.4 204.2 760.7 206.7 761.9C209.1 763.1 210.8 764.4 214 764.8C217.2 765.1 222.5 764.9 226 764C229.5 763.1 232.7 760.9 234.8 759.6C237 758.3 236 757.7 238.9 756.3C241.8 754.9 247.5 752.6 252.2 751.1C256.9 749.6 262.6 748.6 267 747.4C271.4 746.2 275.2 745.4 278.9 743.7C282.6 742 286.3 739.1 289.3 737C292.3 734.9 293.8 732.8 296.7 731.1C299.6 729.4 303.3 727.8 307 726.7C310.7 725.6 314.3 724.8 318.9 724.4C323.5 724 330.9 724.8 334.8 724.4C338.7 724 339.2 722.9 342.2 722.2C345.2 721.5 348.9 720.4 352.6 720C356.3 719.6 359.9 719.9 364.4 720C368.8 720.1 374.9 720 379.3 720.7C383.8 721.4 387.2 724.1 391.1 724.4C395.1 724.6 399.5 722.8 403 722.2C406.5 721.6 408.6 720.1 411.9 720.7C415.2 721.3 419 723.6 422.6 725.8C426.2 728 430 731.3 433.7 733.7C437.4 736.1 440.8 739.2 444.7 740C448.6 740.8 453.6 738.1 457.3 738.4C461 738.6 464.2 739.7 466.8 741.5C469.4 743.3 470.7 747.4 473.1 749.4C475.5 751.4 478.4 752.1 481 753.4C483.6 754.7 486 755.6 488.9 757.3C491.8 759 493.8 762.2 498.3 763.6C502.8 765 511.8 765 515.8 765.7C519.8 766.5 519.5 766.8 522.1 768.1C524.7 769.4 527.3 772.4 531.5 773.6C535.7 774.8 543.1 775.1 547.3 775.2C551.5 775.3 553.6 774.9 556.8 774.4C559.9 773.9 563.8 772.9 566.2 772C568.6 771.1 568.9 768.9 571 768.9C573.1 768.9 577.2 769.6 578.9 772C580.6 774.4 579.6 780.5 581.2 783.1C582.8 785.7 585.8 786.8 588.3 787.8C590.8 788.8 594.9 789.1 596.2 789.4L596.2 865.6C595 864.3 591.6 860.2 588.9 857.8C586.2 855.4 583 852.8 580 851.1C577 849.4 574.1 848 571.1 847.8C568.1 847.6 564.4 848.5 562.2 850C560 851.5 560 856.2 557.8 856.7C555.6 857.2 551.9 855 548.9 853.3C545.9 851.6 543 848.2 540 846.7C537 845.2 534.8 845.3 531.1 844.4C527.4 843.5 522.2 841.1 517.8 841.1C513.3 841.1 508.1 844.4 504.4 844.4C500.7 844.4 498.2 843.1 495.6 841.1C493 839.1 491.9 834.4 488.9 832.2C485.9 830 483.1 829.8 477.8 827.8C472.5 825.8 462.6 822.1 457.3 820.4C452.1 818.6 448.9 818.9 446.3 817.3C443.7 815.7 444.4 813 441.5 810.9C438.6 808.8 432.6 806.7 428.9 804.6C425.2 802.5 422.3 800.7 419.5 798.3C416.7 795.9 414.6 792.2 411.9 790.4C409.1 788.6 406.5 787.6 403 787.4C399.5 787.1 394.6 789.4 391.1 788.9C387.6 788.4 385.4 786.1 382.2 784.4C379 782.7 375.3 780.2 371.9 778.5C368.4 776.8 365.2 775.3 361.5 774.1C357.8 772.9 354.1 771.1 349.6 771.1C345.2 771.1 339.9 774.2 334.8 774.1C329.7 774 323.5 771.1 318.9 770.4C314.3 769.6 310.7 769.2 307 769.6C303.3 770 299.6 771.4 296.7 772.6C293.8 773.8 292.3 775.3 289.3 777C286.3 778.7 282.6 781.3 278.9 783C275.2 784.7 271.4 785.9 267 787.4C262.6 788.9 256.9 789.7 252.2 791.9C247.5 794.1 241.8 798.7 238.9 800.7C236 802.7 237 803 234.8 804C232.7 805 229.5 806.6 226 807C222.5 807.4 218 807 214 806.3C210 805.6 206.4 803.5 202.2 802.6C198 801.7 192.8 801.1 188.9 801.1C185 801.1 182.2 802.1 178.5 802.6C174.8 803.1 170.6 804.5 166.7 804C162.8 803.5 158.2 800.8 154.8 799.6C151.4 798.4 148.7 795.8 146 796.7C143.3 797.6 141.1 803.5 138.9 805.2C136.7 806.9 135 806.2 133 806.7C131 807.2 129 807.4 127 808.1C125 808.8 124 810.2 121.1 811.1C118.1 812 112.8 812.3 109.3 813.3C105.8 814.3 103.4 815.4 100.4 817C97.4 818.6 93.5 820.8 91.5 823C89.5 825.2 90.5 828.2 88.5 830.4C86.5 832.6 83.2 834.9 79.6 836.3C76 837.6 69.1 838.1 67 838.5Z"/>
<ellipse cx="455" cy="804.6" rx="8.7" ry="6.5" fill="#a0b8f0"/>
<ellipse cx="471.5" cy="815.7" rx="4" ry="3" fill="#a0b8f0"/>
<path fill="#2450c8" d="M67 817C69.1 815.8 76.5 812.1 79.6 809.6C82.7 807.1 83.1 804.2 85.6 802.2C88.1 800.2 90.5 799.8 94.4 797.8C98.4 795.8 105.3 792.1 109.3 790.4C113.2 788.7 115.1 789.4 118.1 787.4C121 785.4 123.5 781.1 127 778.5C130.5 775.9 134.3 773.3 138.9 771.9C143.5 770.5 149.7 770.9 154.8 770.3C159.9 769.7 165.7 769.4 169.6 768.5C173.5 767.6 175.3 765.6 178.5 764.8C181.7 763.9 185 763.1 188.9 763.4C192.8 763.6 198 765.1 202.2 766.3C206.4 767.5 210 770.2 214 770.8C218 771.4 222.5 770.8 226 770C229.5 769.2 231.7 768.1 234.8 766.3C237.9 764.5 240.7 761.2 244.8 759.3C248.9 757.4 254.7 756.3 259.6 754.8C264.5 753.3 269.9 752.1 274.4 750.4C278.8 748.7 282.6 746.6 286.3 744.4C290 742.2 293.2 739.1 296.7 737C300.1 734.9 303.3 733 307 731.9C310.7 730.8 314.3 730.5 318.9 730.4C323.5 730.3 330.9 731.4 334.8 731.1C338.7 730.9 339.7 729.6 342.2 728.9C344.7 728.2 346.4 727 349.6 726.7C352.8 726.5 357.8 726.9 361.5 727.4C365.2 727.9 368.9 728.7 371.9 729.6C374.9 730.5 376.4 731.4 379.3 732.6C382.2 733.8 387.2 734.9 389.6 737C392.1 739.1 393.3 743.7 394 745L394 754.8C393.5 756 393.6 761 391.1 762.2C388.7 763.4 382.8 763.2 379.3 762.2C375.9 761.2 373.4 758 370.4 756.3C367.4 754.6 365 752.6 361.5 751.9C358 751.2 354.1 751 349.6 751.9C345.2 752.8 339.9 756.4 334.8 757C329.7 757.6 323.5 755.5 318.9 755.6C314.3 755.7 310.7 756.4 307 757.8C303.3 759.1 300.1 761.5 296.7 763.7C293.2 765.9 290 769.1 286.3 771.1C282.6 773.1 278.8 773.9 274.4 775.6C269.9 777.3 264.5 779.3 259.6 781.5C254.7 783.7 249.9 786.5 244.8 788.9C239.7 791.3 234 794.8 228.9 795.9C223.8 797 218.9 796.3 214 795.2C209.1 794.1 203.7 790.4 199.3 789.3C194.9 788.2 191.1 788.1 187.4 788.5C183.7 788.9 180 790.6 177 791.5C174 792.4 173.3 793.6 169.6 793.7C165.9 793.8 159.9 790.8 154.8 792.2C149.7 793.6 143.5 800 138.9 802.2C134.3 804.4 130.5 804.1 127 805.2C123.5 806.3 121.5 807.9 118.1 808.9C114.6 809.9 110.2 810 106.3 811.1C102.3 812.2 97.6 813.4 94.4 815.6C91.2 817.8 89.5 821.7 87 824.4C84.5 827.1 82.9 830 79.6 831.9C76.3 833.8 69.1 835 67 835.6Z"/>
<path fill="#0f1d56" d="M67 819.5C69.1 818.3 76.5 814.6 79.6 812.1C82.7 809.6 83.1 806.7 85.6 804.7C88.1 802.7 90.5 802.3 94.4 800.3C98.4 798.3 105.3 794.6 109.3 792.9C113.2 791.2 115.1 791.9 118.1 789.9C121 787.9 123.5 783.6 127 781C130.5 778.4 134.3 775.8 138.9 774.4C143.5 773 149.7 773.4 154.8 772.8C159.9 772.2 165.7 771.9 169.6 771C173.5 770.1 175.3 768.1 178.5 767.3C181.7 766.4 185 765.6 188.9 765.9C192.8 766.1 198 767.6 202.2 768.8C206.4 770 210 772.7 214 773.3C218 773.9 222.5 773.2 226 772.5C229.5 771.8 231.7 770.6 234.8 768.8C237.9 767 240.7 763.7 244.8 761.8C248.9 759.9 254.7 758.8 259.6 757.3C264.5 755.8 269.9 754.6 274.4 752.9C278.8 751.2 282.6 749.1 286.3 746.9C290 744.7 293.2 741.6 296.7 739.5C300.1 737.4 303.3 735.5 307 734.4C310.7 733.3 314.3 733 318.9 732.9C323.5 732.8 330.9 733.9 334.8 733.6C338.7 733.4 339.7 732.1 342.2 731.4C344.7 730.7 347 727.9 349.6 729.2C352.2 730.5 356.6 737.4 358 739L358 742C356.6 743.5 353.5 748.4 349.6 750.7C345.7 753 339.9 755.2 334.8 755.8C329.7 756.4 323.5 754.3 318.9 754.4C314.3 754.5 310.7 755.2 307 756.6C303.3 757.9 300.1 760.3 296.7 762.5C293.2 764.7 290 767.9 286.3 769.9C282.6 771.9 278.8 772.7 274.4 774.4C269.9 776.1 264.5 778.1 259.6 780.3C254.7 782.5 249.9 785.3 244.8 787.7C239.7 790.1 234 793.6 228.9 794.7C223.8 795.8 218.9 795.1 214 794C209.1 792.9 203.7 789.2 199.3 788.1C194.9 787 191.1 786.9 187.4 787.3C183.7 787.7 180 789.4 177 790.3C174 791.2 173.3 792.4 169.6 792.5C165.9 792.6 159.9 789.6 154.8 791C149.7 792.4 143.5 798.8 138.9 801C134.3 803.2 130.5 802.9 127 804C123.5 805.1 121.5 806.7 118.1 807.7C114.6 808.7 110.2 808.8 106.3 809.9C102.3 811 97.6 812.2 94.4 814.4C91.2 816.6 89.5 820.5 87 823.2C84.5 825.9 82.9 828.8 79.6 830.7C76.3 832.6 69.1 833.8 67 834.4Z"/>
<ellipse cx="457.3" cy="779.4" rx="11" ry="4.2" fill="#142a80" transform="rotate(20 457.3 779.4)"/>
<ellipse cx="411.6" cy="736" rx="3" ry="2" fill="#142a80" transform="rotate(0 411.6 736)"/>
<ellipse cx="538.6" cy="809.9" rx="5" ry="4.5" fill="#142a80" transform="rotate(0 538.6 809.9)"/>
<ellipse cx="515.8" cy="815.1" rx="9" ry="1.8" fill="#142a80" transform="rotate(0 515.8 815.1)"/>
<ellipse cx="558.4" cy="823.3" rx="5" ry="2.2" fill="#142a80" transform="rotate(0 558.4 823.3)"/>
<ellipse cx="585.2" cy="814.6" rx="10" ry="2.5" fill="#142a80" transform="rotate(-5 585.2 814.6)"/>
</g>
<g class="mem m3" stroke="#f0604a" clip-path="url(#c3)">
<path d="M64.1 834.8L77.7 827.9L91.4 815.2L105.1 807.6L118.7 804.7L132.4 797.8L146.1 793L159.7 787.3L173.4 789.8L187.1 790.6L200.7 787.5L214.4 797.3L228.1 792.4L241.7 788.1L255.4 777.7L269.1 776.6L282.7 763.9L296.4 748.2L310.1 738.1L323.8 743.9L337.4 741.2L351.1 735.1L364.8 735.4L378.4 738.2L392.1 734.8L405.8 732.9L419.4 743.3L433.1 764.5L446.8 781.1L460.4 776.5L474.1 796.9L487.8 800.8L501.4 802.3L515.1 803.3L528.8 813.4L542.4 806.6L556.1 808.9L569.8 807.3L583.4 823.3L597.1 819.1"/>
<path d="M64.1 823.3L77.7 815.6L91.4 804.9L105.1 797.5L118.7 790.1L132.4 779L146.1 774.9L159.7 767.8L173.4 766.4L187.1 764.4L200.7 768.6L214.4 774.7L228.1 776.1L241.7 767.1L255.4 760.3L269.1 754L282.7 748L296.4 736.6L310.1 733.1L323.8 730.9L337.4 729.6L351.1 723.5L364.8 726.4L378.4 729.6L392.1 733.8L405.8 726.2L419.4 731.5L433.1 744.5L446.8 750.4L460.4 746.8L474.1 754.4L487.8 763.3L501.4 768.2L515.1 771.9L528.8 783.7L542.4 783L556.1 777.9L569.8 774.1L583.4 786.7L597.1 792.5"/>
<path d="M64.1 824.9L77.7 816.6L91.4 808.1L105.1 801.3L118.7 795L132.4 785.8L146.1 779L159.7 777.1L173.4 774.4L187.1 775L200.7 781L214.4 783.6L228.1 778.6L241.7 768.9L255.4 761.7L269.1 754.3L282.7 749.7L296.4 740.5L310.1 739L323.8 737.3L337.4 740.8L351.1 737.2L364.8 741.6L378.4 753.9L392.1 760.2L405.8 756.8L419.4 765.6L433.1 769.8L446.8 789.1L460.4 795L474.1 796.6L487.8 796.9L501.4 804.6L515.1 780L528.8 790.3L542.4 804.3L556.1 804.6L569.8 826.7L583.4 836.1L597.1 846.1"/>
<path d="M64.1 829L77.7 823.6L91.4 812.2L105.1 806.8L118.7 803.9L132.4 797.8L146.1 792L159.7 785.1L173.4 786.5L187.1 793.5L200.7 794.5L214.4 797.5L228.1 798.8L241.7 785.6L255.4 777.6L269.1 777.2L282.7 777.6L296.4 770.4L310.1 767.8L323.8 769.9L337.4 772.3L351.1 770.5L364.8 780.5L378.4 783.1L392.1 790.4L405.8 797L419.4 802.3L433.1 811.1L446.8 822.4L460.4 833.4L474.1 831.6L487.8 832.6L501.4 837.5L515.1 836.1L528.8 834.7L542.4 839L556.1 837.6L569.8 826.9L583.4 836.5L597.1 846"/>
<path d="M64.1 834.9L77.7 829.6L91.4 814.3L105.1 808.6L118.7 805.6L132.4 799.2L146.1 794.9L159.7 788L173.4 795.2L187.1 792.7L200.7 792.9L214.4 801.1L228.1 803.4L241.7 795.6L255.4 790.5L269.1 783.6L282.7 777.9L296.4 768.9L310.1 751.9L323.8 750.4L337.4 754.2L351.1 744.9L364.8 748.1L378.4 756.7L392.1 770.7L405.8 779.1L419.4 796.6L433.1 807.9L446.8 819.4L460.4 815.4L474.1 814.8L487.8 803.7L501.4 799.3L515.1 797L528.8 795.9L542.4 799.5L556.1 781.7L569.8 779L583.4 807.2L597.1 814.6"/>
<path d="M64.1 829.5L77.7 824.5L91.4 811.9L105.1 807.2L118.7 803.2L132.4 795.3L146.1 791.2L159.7 787.9L173.4 790.7L187.1 785.8L200.7 791.5L214.4 789.3L228.1 786.4L241.7 778.5L255.4 775.5L269.1 774L282.7 763.2L296.4 751.9L310.1 738.1L323.8 743.2L337.4 755.1L351.1 764.3L364.8 756.3L378.4 760.1L392.1 764.2L405.8 764L419.4 787.1L433.1 792.4L446.8 796.9L460.4 793.4L474.1 796.3L487.8 792L501.4 790L515.1 806.7L528.8 804.5L542.4 800.2L556.1 794.5L569.8 793.5L583.4 809.8L597.1 806"/>
<path d="M64.1 824.9L77.7 818.4L91.4 803.9L105.1 801.1L118.7 794L132.4 785.2L146.1 783.3L159.7 780.3L173.4 779.3L187.1 778.6L200.7 786.1L214.4 791.2L228.1 793L241.7 783.6L255.4 774.4L269.1 767.6L282.7 759.7L296.4 747.3L310.1 741.2L323.8 735.4L337.4 739.9L351.1 734.6L364.8 728.5L378.4 735.5L392.1 741.5L405.8 740.6L419.4 752.1L433.1 754.6L446.8 767.6L460.4 789.8L474.1 791.7L487.8 795.4L501.4 809.7L515.1 821.5L528.8 814L542.4 808.1L556.1 794.4L569.8 790.6L583.4 796.7L597.1 799.7"/>
<path d="M64.1 822.3L77.7 814.5L91.4 803.3L105.1 796.3L118.7 790.4L132.4 779.6L146.1 776.5L159.7 774.4L173.4 771L187.1 768.2L200.7 771.9L214.4 778.9L228.1 779.5L241.7 772.3L255.4 769.7L269.1 763.1L282.7 759.6L296.4 751.5L310.1 755L323.8 757.3L337.4 769.1L351.1 766.5L364.8 757L378.4 770.5L392.1 775.3L405.8 779.8L419.4 791.7L433.1 804.2L446.8 815.3L460.4 826.5L474.1 829.8L487.8 830.5L501.4 844.5L515.1 839.4L528.8 837L542.4 837.6L556.1 836.9L569.8 823.9L583.4 833.7L597.1 833.8"/>
<path d="M64.1 832.4L77.7 822.6L91.4 808.2L105.1 800.5L118.7 797.9L132.4 789.7L146.1 784.5L159.7 785.9L173.4 787.4L187.1 781.5L200.7 780L214.4 783.2L228.1 784.4L241.7 778L255.4 764.2L269.1 760.3L282.7 758.7L296.4 745.6L310.1 739.5L323.8 735.1L337.4 733.1L351.1 727.3L364.8 729.4L378.4 737.9L392.1 741.7L405.8 741.3L419.4 740.6L433.1 743.5L446.8 746.5L460.4 744.3L474.1 752.2L487.8 751.5L501.4 766.8L515.1 773.2L528.8 780.8L542.4 785.3L556.1 789.6L569.8 786.4L583.4 803.8L597.1 813.9"/>
<path d="M64.1 831.3L77.7 823.2L91.4 808.4L105.1 800.9L118.7 794.4L132.4 784.7L146.1 777.2L159.7 777.2L173.4 776.8L187.1 773.6L200.7 775.2L214.4 778.3L228.1 776.7L241.7 765.2L255.4 755.5L269.1 756.9L282.7 748.5L296.4 735.4L310.1 731.3L323.8 729.7L337.4 726.3L351.1 722.7L364.8 724.7L378.4 723.8L392.1 731.1L405.8 723.1L419.4 726.2L433.1 737.8L446.8 745.7L460.4 742.6L474.1 753.8L487.8 761L501.4 768.2L515.1 769.9L528.8 776.9L542.4 777.6L556.1 781.6L569.8 779.3L583.4 791.8L597.1 791.6"/>
<path d="M64.1 823.6L77.7 817L91.4 806.8L105.1 801.8L118.7 795L132.4 789.2L146.1 782.4L159.7 778.6L173.4 777.7L187.1 773.1L200.7 778.8L214.4 774.9L228.1 776.1L241.7 768.7L255.4 754.2L269.1 750.6L282.7 746.1L296.4 735.4L310.1 732.1L323.8 729.5L337.4 734L351.1 730.7L364.8 729.8L378.4 735.3L392.1 739.4L405.8 723.8L419.4 726.2L433.1 734.2L446.8 736.9L460.4 734.7L474.1 745L487.8 750.3L501.4 757.5L515.1 760.2L528.8 765.1L542.4 777.4L556.1 771.3L569.8 755.4L583.4 771.7L597.1 792.6"/>
<path d="M64.1 829.8L77.7 820.9L91.4 807.3L105.1 804.2L118.7 800.9L132.4 790.8L146.1 781.3L159.7 779.2L173.4 780.7L187.1 776.6L200.7 778.8L214.4 783.2L228.1 786.5L241.7 777.7L255.4 771.6L269.1 767.2L282.7 754.7L296.4 745.3L310.1 745.5L323.8 743.1L337.4 746.8L351.1 743.9L364.8 746.6L378.4 744.7L392.1 741.8L405.8 742.6L419.4 749.1L433.1 747.6L446.8 746.5L460.4 737L474.1 751.9L487.8 758.6L501.4 764.5L515.1 767.9L528.8 775.2L542.4 785.1L556.1 781.4L569.8 783.4L583.4 814.6L597.1 819.6"/>
<path d="M64.1 833.6L77.7 829L91.4 815.9L105.1 807L118.7 803.9L132.4 797.9L146.1 791L159.7 788.9L173.4 792.2L187.1 792.6L200.7 792.6L214.4 793L228.1 787L241.7 777.1L255.4 769.9L269.1 767.5L282.7 758.6L296.4 750.9L310.1 745.1L323.8 752.1L337.4 756.2L351.1 738.6L364.8 733.5L378.4 746.9L392.1 760.1L405.8 762.6L419.4 773.4L433.1 783.7L446.8 789.9L460.4 789.1L474.1 783.5L487.8 784.4L501.4 792.2L515.1 797.5L528.8 804.2L542.4 815.2L556.1 832.9L569.8 828.9L583.4 848.7L597.1 855.4"/>
<path d="M64.1 822.7L77.7 815.2L91.4 802.6L105.1 795.7L118.7 790.2L132.4 778.7L146.1 774.4L159.7 767L173.4 763.4L187.1 759.1L200.7 760.7L214.4 766.3L228.1 765.1L241.7 756.7L255.4 752.6L269.1 748.6L282.7 742.7L296.4 734.2L310.1 728L323.8 723.3L337.4 722.7L351.1 722.4L364.8 723L378.4 722.9L392.1 725.2L405.8 722.8L419.4 723.8L433.1 723.1L446.8 729.8L460.4 730.9L474.1 733L487.8 739.8L501.4 756.7L515.1 757.3L528.8 751.9L542.4 758.1L556.1 758.5L569.8 749.3L583.4 743.4L597.1 744.1"/>
<path d="M64.1 834.4L77.7 829.2L91.4 816.3L105.1 808.8L118.7 805.4L132.4 799.3L146.1 790.3L159.7 784.6L173.4 786.4L187.1 782.8L200.7 781.5L214.4 782.9L228.1 783.2L241.7 772.7L255.4 764.8L269.1 758.5L282.7 750.7L296.4 736L310.1 729.7L323.8 732.7L337.4 735.7L351.1 731.5L364.8 736.6L378.4 742.6L392.1 747.8L405.8 752L419.4 767.9L433.1 782.4L446.8 782.4L460.4 775L474.1 783.9L487.8 781.6L501.4 792.4L515.1 788L528.8 791.2L542.4 804.3L556.1 794.3L569.8 788.9L583.4 798.1L597.1 801.6"/>
<path d="M64.1 828.4L77.7 823.2L91.4 808.6L105.1 803.1L118.7 800.8L132.4 790.6L146.1 783.6L159.7 781L173.4 783.9L187.1 782.1L200.7 785.6L214.4 788.6L228.1 789.2L241.7 780.6L255.4 770.7L269.1 765.9L282.7 757.8L296.4 743.8L310.1 736.3L323.8 735.7L337.4 740.2L351.1 743.7L364.8 737.6L378.4 750.3L392.1 764.2L405.8 759.1L419.4 770.8L433.1 769.3L446.8 781.6L460.4 779.5L474.1 806.1L487.8 818L501.4 830.8L515.1 800L528.8 793.5L542.4 796.3L556.1 791.1L569.8 776.3L583.4 788.3L597.1 777.4"/>
<path d="M64.1 823.8L77.7 818.5L91.4 802.6L105.1 796.5L118.7 791.9L132.4 785.3L146.1 781.7L159.7 777.9L173.4 779.5L187.1 773.8L200.7 777.8L214.4 782.6L228.1 780.2L241.7 773L255.4 762.8L269.1 762.9L282.7 758.4L296.4 744L310.1 736.5L323.8 735.9L337.4 736.1L351.1 730.5L364.8 731.2L378.4 736.1L392.1 743.2L405.8 740.2L419.4 753.1L433.1 751.1L446.8 749.9L460.4 746.4L474.1 757.8L487.8 779.9L501.4 809.4L515.1 819.8L528.8 811.7L542.4 825.9L556.1 831L569.8 827.9L583.4 831.8L597.1 854.8"/>
<path d="M64.1 833L77.7 827.4L91.4 813.2L105.1 807.4L118.7 804.4L132.4 796.3L146.1 780.4L159.7 777.9L173.4 779.8L187.1 775.5L200.7 773.9L214.4 777.2L228.1 779.9L241.7 775.6L255.4 767.8L269.1 761.5L282.7 757.5L296.4 743.7L310.1 738.3L323.8 736.8L337.4 739.2L351.1 735.8L364.8 737.2L378.4 741.7L392.1 749.3L405.8 751.2L419.4 758.7L433.1 770.5L446.8 762.2L460.4 767.6L474.1 773.8L487.8 766.3L501.4 762.2L515.1 772.4L528.8 774.5L542.4 782.7L556.1 776.6L569.8 770.4L583.4 792.8L597.1 805.6"/>
<path d="M64.1 827.3L77.7 823.1L91.4 810.5L105.1 803.4L118.7 800.3L132.4 790.4L146.1 782.9L159.7 781.5L173.4 790.4L187.1 788.4L200.7 787.2L214.4 788.5L228.1 790.1L241.7 783.1L255.4 778.5L269.1 771.5L282.7 762.7L296.4 759.5L310.1 756.1L323.8 762.9L337.4 768.1L351.1 761.5L364.8 765.4L378.4 766.9L392.1 756L405.8 748.2L419.4 753.9L433.1 756.6L446.8 771L460.4 756.5L474.1 758.1L487.8 768.7L501.4 794.5L515.1 777.8L528.8 793.2L542.4 790.8L556.1 788.4L569.8 787.8L583.4 797.4L597.1 809.7"/>
<path d="M64.1 830.4L77.7 824.9L91.4 811.9L105.1 803.8L118.7 801L132.4 791.1L146.1 785.5L159.7 783.9L173.4 791.3L187.1 780.1L200.7 786.9L214.4 787.6L228.1 788.6L241.7 781.2L255.4 777.3L269.1 772L282.7 759.8L296.4 750.1L310.1 749L323.8 744.3L337.4 753.6L351.1 746.1L364.8 748.5L378.4 758.1L392.1 770.2L405.8 780.4L419.4 791.8L433.1 803.8L446.8 812.5L460.4 810.3L474.1 809L487.8 816.3L501.4 828.5L515.1 824.9L528.8 821.2L542.4 823.4L556.1 812L569.8 806.2L583.4 813L597.1 816.5"/>
<path d="M64.1 822.7L77.7 813.9L91.4 803L105.1 798.4L118.7 795.7L132.4 783.6L146.1 779L159.7 779.5L173.4 777L187.1 778L200.7 784.2L214.4 788.2L228.1 790.7L241.7 784L255.4 772.5L269.1 762.9L282.7 756.4L296.4 745.2L310.1 740.9L323.8 737.7L337.4 739.7L351.1 738.1L364.8 736.3L378.4 741.2L392.1 744L405.8 738.7L419.4 734.4L433.1 752.4L446.8 754.5L460.4 773.2L474.1 769.7L487.8 795.6L501.4 790.4L515.1 805.2L528.8 814.4L542.4 833L556.1 835.7L569.8 816.8L583.4 823.9L597.1 822.2"/>
<path d="M64.1 823L77.7 816.3L91.4 802.5L105.1 797.1L118.7 791.6L132.4 781L146.1 774.8L159.7 769.2L173.4 765L187.1 761.7L200.7 768.5L214.4 775.3L228.1 773.5L241.7 766.9L255.4 756.4L269.1 750.6L282.7 746.6L296.4 736.2L310.1 729.9L323.8 725.9L337.4 726.6L351.1 722.6L364.8 724.5L378.4 726.5L392.1 734.1L405.8 727.5L419.4 728.3L433.1 734.4L446.8 735.6L460.4 735.5L474.1 746L487.8 757.1L501.4 776.6L515.1 776.4L528.8 783.4L542.4 781.8L556.1 788.6L569.8 786.4L583.4 795.8L597.1 814"/>
<path d="M64.1 826.3L77.7 817.3L91.4 804.1L105.1 799.8L118.7 795.9L132.4 784.7L146.1 781.7L159.7 779.3L173.4 780.9L187.1 778.6L200.7 779.1L214.4 780.7L228.1 779.6L241.7 772.3L255.4 756.1L269.1 749.3L282.7 746.4L296.4 736.7L310.1 729.4L323.8 727.1L337.4 724.6L351.1 723.9L364.8 723.3L378.4 723.9L392.1 726.2L405.8 722.9L419.4 723.9L433.1 729.3L446.8 735.4L460.4 736L474.1 746.1L487.8 746L501.4 758.1L515.1 763.2L528.8 764.1L542.4 761.2L556.1 764.4L569.8 753L583.4 754.8L597.1 747.7"/>
<path d="M64.1 827.3L77.7 819.2L91.4 804.9L105.1 801.3L118.7 795.8L132.4 788.9L146.1 779.6L159.7 779L173.4 783.7L187.1 781.8L200.7 784.3L214.4 787.8L228.1 787.8L241.7 782.7L255.4 774.5L269.1 768.5L282.7 764L296.4 749.8L310.1 750.1L323.8 755.8L337.4 755.3L351.1 742.4L364.8 744L378.4 754.3L392.1 769.2L405.8 770.5L419.4 785.1L433.1 779.8L446.8 789.6L460.4 794.5L474.1 804.9L487.8 817.3L501.4 825L515.1 829.7L528.8 839.9L542.4 838.2L556.1 836.1L569.8 836.9L583.4 849.4L597.1 862.5"/>
<path d="M64.1 822.4L77.7 814.5L91.4 804L105.1 796.4L118.7 794.1L132.4 783.6L146.1 776.6L159.7 775.6L173.4 778.7L187.1 776.6L200.7 779.7L214.4 782.1L228.1 788.4L241.7 777.3L255.4 768.4L269.1 766.1L282.7 758.2L296.4 753.8L310.1 742.3L323.8 738.4L337.4 748.5L351.1 736.4L364.8 738L378.4 740.4L392.1 737.5L405.8 728.4L419.4 734.9L433.1 737.9L446.8 741.3L460.4 745.4L474.1 751.2L487.8 760L501.4 771.9L515.1 779L528.8 796.8L542.4 809.7L556.1 820.9L569.8 814.7L583.4 822.8L597.1 822.2"/>
<path d="M64.1 832.2L77.7 827.1L91.4 814.9L105.1 808.6L118.7 804.6L132.4 796.5L146.1 787.6L159.7 785.6L173.4 785.7L187.1 784.6L200.7 786.4L214.4 791.2L228.1 787.3L241.7 782L255.4 775.5L269.1 767L282.7 760.8L296.4 744.9L310.1 736.4L323.8 735.6L337.4 735.3L351.1 728.7L364.8 724.2L378.4 726.5L392.1 734.1L405.8 725.4L419.4 733L433.1 745.8L446.8 752.8L460.4 745.6L474.1 749.8L487.8 760.2L501.4 771.5L515.1 774.2L528.8 777.3L542.4 798L556.1 812.2L569.8 797.9L583.4 811.2L597.1 815.6"/>
<path d="M64.1 834.5L77.7 827.5L91.4 815.9L105.1 808.5L118.7 805.8L132.4 800.6L146.1 792.6L159.7 789.9L173.4 795.2L187.1 788.4L200.7 787.5L214.4 798.7L228.1 799.3L241.7 794.4L255.4 783.5L269.1 776.1L282.7 772.4L296.4 765.9L310.1 760.6L323.8 759L337.4 754L351.1 750L364.8 752.9L378.4 761.6L392.1 752.8L405.8 765.5L419.4 777.5L433.1 784.5L446.8 795.8L460.4 807.8L474.1 810.5L487.8 816.3L501.4 820L515.1 823L528.8 816.8L542.4 815.7L556.1 799.1L569.8 780.9L583.4 801.9L597.1 807.9"/>
<path d="M64.1 827.7L77.7 823.4L91.4 811.6L105.1 804.4L118.7 800.3L132.4 789.9L146.1 784.4L159.7 778.5L173.4 780L187.1 776.8L200.7 779.4L214.4 784.9L228.1 785.2L241.7 778.8L255.4 769.1L269.1 762.8L282.7 755.3L296.4 743.3L310.1 740.1L323.8 741.1L337.4 743.5L351.1 747.9L364.8 750.4L378.4 756.6L392.1 765.5L405.8 766.1L419.4 772.8L433.1 784.4L446.8 793.8L460.4 798.7L474.1 788.1L487.8 793.7L501.4 802.4L515.1 798.4L528.8 794.5L542.4 799.9L556.1 794.7L569.8 784.3L583.4 798.2L597.1 817.9"/>
<path d="M64.1 825.2L77.7 817.6L91.4 806.8L105.1 801.6L118.7 798.7L132.4 790.9L146.1 782.3L159.7 779L173.4 777L187.1 775.9L200.7 778.4L214.4 779.1L228.1 782.3L241.7 774.9L255.4 768.2L269.1 765.1L282.7 758.7L296.4 744.8L310.1 736.5L323.8 737.8L337.4 738.4L351.1 733.6L364.8 729.9L378.4 735.1L392.1 736.5L405.8 726L419.4 725.3L433.1 738.9L446.8 750L460.4 756.9L474.1 771.5L487.8 801.3L501.4 820.7L515.1 823.6L528.8 829.3L542.4 829.1L556.1 826.4L569.8 822.8L583.4 827L597.1 830.9"/>
<path d="M64.1 830.9L77.7 822.9L91.4 807.2L105.1 804L118.7 801L132.4 799.1L146.1 789.1L159.7 784.1L173.4 784L187.1 781.2L200.7 780.7L214.4 790.8L228.1 790.5L241.7 784.7L255.4 777.8L269.1 767.9L282.7 763.6L296.4 752.1L310.1 747L323.8 736.8L337.4 733.7L351.1 728.8L364.8 730.5L378.4 740.5L392.1 746L405.8 755L419.4 761.4L433.1 778.3L446.8 784.3L460.4 773.6L474.1 791.8L487.8 799.6L501.4 805.8L515.1 804L528.8 810.7L542.4 822.6L556.1 826.4L569.8 826.9L583.4 833.6L597.1 851.2"/>
<path d="M64.1 831.1L77.7 826.3L91.4 809.5L105.1 801.6L118.7 800.2L132.4 788.1L146.1 781.2L159.7 780.8L173.4 783.8L187.1 788.4L200.7 787.9L214.4 792L228.1 788L241.7 782.4L255.4 771.4L269.1 768.3L282.7 759.1L296.4 744.7L310.1 738.3L323.8 739.7L337.4 747.8L351.1 735.2L364.8 737.9L378.4 742L392.1 740.3L405.8 738.8L419.4 752.2L433.1 763.8L446.8 780L460.4 789.2L474.1 781.8L487.8 792.1L501.4 792.2L515.1 796.1L528.8 809.6L542.4 818L556.1 819.7L569.8 808.2L583.4 803.1L597.1 806"/>
<path d="M64.1 829.4L77.7 823.3L91.4 810.2L105.1 804.3L118.7 799.2L132.4 793.7L146.1 788.3L159.7 785.7L173.4 793L187.1 786.7L200.7 788.1L214.4 787.1L228.1 786.8L241.7 783.2L255.4 775.5L269.1 768.7L282.7 763.6L296.4 753.7L310.1 744.9L323.8 740.9L337.4 745.9L351.1 750.4L364.8 748.5L378.4 754.6L392.1 766.1L405.8 754.1L419.4 779.8L433.1 801.2L446.8 814.1L460.4 826.9L474.1 834.1L487.8 838.5L501.4 847.9L515.1 841.9L528.8 847.7L542.4 842.2L556.1 829.5L569.8 828.8L583.4 837L597.1 847"/>
<path d="M64.1 829.7L77.7 822.7L91.4 808.4L105.1 801.2L118.7 800L132.4 785.9L146.1 782.4L159.7 780.6L173.4 782L187.1 780.5L200.7 779.5L214.4 785.6L228.1 781.9L241.7 777.7L255.4 766.6L269.1 760L282.7 763.3L296.4 753.3L310.1 748.1L323.8 748.2L337.4 747.4L351.1 744.3L364.8 748.3L378.4 760.2L392.1 757.6L405.8 757.5L419.4 768.9L433.1 789.1L446.8 784L460.4 780.2L474.1 785.1L487.8 809.6L501.4 818.4L515.1 808.5L528.8 809.3L542.4 812.4L556.1 809.9L569.8 793.1L583.4 807.5L597.1 818.3"/>
<path d="M64.1 830.5L77.7 826L91.4 810L105.1 805.7L118.7 801.3L132.4 793.6L146.1 784.1L159.7 779.8L173.4 779.6L187.1 774.9L200.7 782.5L214.4 783.8L228.1 785.3L241.7 778.1L255.4 771.1L269.1 763.2L282.7 756.9L296.4 743L310.1 737.3L323.8 742L337.4 745.8L351.1 738.9L364.8 745.6L378.4 744.2L392.1 749.1L405.8 741.2L419.4 734.7L433.1 739.5L446.8 752.1L460.4 751L474.1 769.8L487.8 775.8L501.4 795.3L515.1 796.8L528.8 800.5L542.4 800.3L556.1 815.8L569.8 801.2L583.4 794.6L597.1 793.2"/>
<path d="M64.1 822.8L77.7 813.9L91.4 803.1L105.1 796.2L118.7 791.6L132.4 780L146.1 775.2L159.7 767.3L173.4 763.8L187.1 758.5L200.7 761.7L214.4 769.4L228.1 767.7L241.7 758L255.4 751.8L269.1 749.4L282.7 744.3L296.4 735.3L310.1 734.8L323.8 733.5L337.4 732.4L351.1 727L364.8 731.9L378.4 739.4L392.1 744L405.8 738.8L419.4 735.6L433.1 749.3L446.8 761.2L460.4 760.5L474.1 764L487.8 769.9L501.4 797.6L515.1 788.4L528.8 792.1L542.4 789.4L556.1 787.9L569.8 790.6L583.4 813.5L597.1 817.4"/>
<path d="M64.1 827.9L77.7 818.5L91.4 803.8L105.1 796.2L118.7 792.2L132.4 779.8L146.1 775.1L159.7 774.2L173.4 771.9L187.1 770.6L200.7 774L214.4 777.1L228.1 776L241.7 766.8L255.4 764.3L269.1 760.2L282.7 757.5L296.4 758.1L310.1 753.2L323.8 746.7L337.4 747L351.1 751.6L364.8 770.9L378.4 781.7L392.1 780.6L405.8 787L419.4 798.9L433.1 815.1L446.8 825.4L460.4 832.5L474.1 833.9L487.8 834.3L501.4 848.1L515.1 852.6L528.8 855.3L542.4 864L556.1 869.3L569.8 861.4L583.4 854.6L597.1 860.3"/>
<path d="M64.1 832.8L77.7 824.8L91.4 809.8L105.1 803.6L118.7 800.4L132.4 794.4L146.1 785.9L159.7 783L173.4 784.1L187.1 787.3L200.7 787.6L214.4 790.4L228.1 796.7L241.7 791.9L255.4 782.6L269.1 778.5L282.7 772.1L296.4 756.4L310.1 748.2L323.8 747.9L337.4 745.6L351.1 750.2L364.8 748.5L378.4 754L392.1 758.4L405.8 761.4L419.4 767.7L433.1 764.7L446.8 779.6L460.4 773.9L474.1 780.3L487.8 786.3L501.4 801.2L515.1 810.4L528.8 811.2L542.4 813.3L556.1 815.5L569.8 797.3L583.4 799.8L597.1 800"/>
<path d="M64.1 832.9L77.7 826.8L91.4 814.5L105.1 807.8L118.7 804.9L132.4 800.5L146.1 794.1L159.7 791.1L173.4 797.8L187.1 795L200.7 790.5L214.4 794.3L228.1 795.8L241.7 782.2L255.4 775.1L269.1 770.9L282.7 761.7L296.4 747L310.1 739.5L323.8 751.9L337.4 761.3L351.1 747.7L364.8 742.2L378.4 739.5L392.1 741.7L405.8 741.8L419.4 747.7L433.1 759.2L446.8 758.1L460.4 765.8L474.1 783.1L487.8 792.8L501.4 804.1L515.1 783.9L528.8 793.5L542.4 784.2L556.1 789.6L569.8 780L583.4 797.9L597.1 807.7"/>
<path d="M64.1 830.8L77.7 826.6L91.4 811.6L105.1 805.3L118.7 802.1L132.4 792.2L146.1 787.3L159.7 787.9L173.4 788.6L187.1 781L200.7 783.6L214.4 784.6L228.1 786.6L241.7 777.6L255.4 772.8L269.1 765.9L282.7 755.4L296.4 741.4L310.1 734.4L323.8 731.8L337.4 727.5L351.1 723.5L364.8 727L378.4 726.4L392.1 734.7L405.8 727.1L419.4 729.6L433.1 742L446.8 745.6L460.4 745.7L474.1 763.2L487.8 758.7L501.4 768.7L515.1 768.8L528.8 776.7L542.4 774L556.1 776.8L569.8 777.5L583.4 793.6L597.1 800.2"/>
<path d="M64.1 825.8L77.7 819.2L91.4 807.8L105.1 800.1L118.7 800.4L132.4 786.5L146.1 781.4L159.7 780.6L173.4 785.2L187.1 783.7L200.7 786.8L214.4 790.3L228.1 794.3L241.7 788L255.4 783.1L269.1 775.5L282.7 766.4L296.4 757.1L310.1 741.5L323.8 740.1L337.4 741.2L351.1 738.4L364.8 740.6L378.4 742L392.1 743.7L405.8 740.8L419.4 751.4L433.1 759.1L446.8 766L460.4 776.7L474.1 784.4L487.8 795.1L501.4 823.4L515.1 827.8L528.8 811.6L542.4 808.7L556.1 808.3L569.8 808.4L583.4 821.4L597.1 832.3"/>
<path d="M64.1 824.3L77.7 818.5L91.4 806.5L105.1 797.6L118.7 794.1L132.4 784.7L146.1 779.2L159.7 778.3L173.4 779.8L187.1 776.5L200.7 780.5L214.4 783.6L228.1 787L241.7 776.5L255.4 764.7L269.1 761.4L282.7 754.6L296.4 748.2L310.1 741.6L323.8 746.2L337.4 746.2L351.1 747.6L364.8 759.6L378.4 775.2L392.1 774.8L405.8 780.3L419.4 796.3L433.1 807.8L446.8 817.5L460.4 823.6L474.1 832.9L487.8 837.5L501.4 848.1L515.1 841.9L528.8 853L542.4 860.3L556.1 870.4L569.8 870.7L583.4 871.1L597.1 872.3"/>
<path d="M64.1 831.8L77.7 824.9L91.4 811.1L105.1 804L118.7 802.3L132.4 794.9L146.1 787.3L159.7 780.6L173.4 779.6L187.1 779L200.7 780L214.4 784.3L228.1 788.7L241.7 781.4L255.4 776.3L269.1 766.7L282.7 763.8L296.4 753.6L310.1 750.2L323.8 751.2L337.4 752.5L351.1 743.4L364.8 740.2L378.4 747.5L392.1 751.8L405.8 747.8L419.4 754.9L433.1 783.6L446.8 795.9L460.4 789.5L474.1 798.8L487.8 806.7L501.4 811.7L515.1 815.8L528.8 820.6L542.4 828.2L556.1 837L569.8 827L583.4 833.8L597.1 843.7"/>
<path d="M64.1 831.1L77.7 824.7L91.4 811.3L105.1 803.9L118.7 798.1L132.4 784.7L146.1 779.5L159.7 778.8L173.4 778L187.1 770.9L200.7 774L214.4 778.5L228.1 779.3L241.7 774.3L255.4 766.7L269.1 759.4L282.7 755.2L296.4 741.5L310.1 736.4L323.8 737.4L337.4 743.4L351.1 742.2L364.8 748.4L378.4 753.2L392.1 756.7L405.8 771.7L419.4 788L433.1 792L446.8 794L460.4 800.2L474.1 796.8L487.8 818L501.4 829.3L515.1 821.5L528.8 826.9L542.4 825.7L556.1 810.7L569.8 817.2L583.4 835.7L597.1 836.3"/>
<path d="M64.1 826L77.7 815.7L91.4 803.6L105.1 800.1L118.7 794.9L132.4 781.9L146.1 777.4L159.7 776.9L173.4 777.3L187.1 772.2L200.7 772.9L214.4 777.1L228.1 779.1L241.7 775.6L255.4 766.7L269.1 759.8L282.7 756.6L296.4 762.6L310.1 750.4L323.8 746.2L337.4 744.1L351.1 737.7L364.8 736.5L378.4 743.9L392.1 745.4L405.8 734.4L419.4 741.4L433.1 747.4L446.8 757.4L460.4 760.9L474.1 761.6L487.8 767.4L501.4 770.6L515.1 776.7L528.8 787.1L542.4 788.8L556.1 787.7L569.8 775L583.4 787.8L597.1 792.3"/>
<path d="M64.1 824.7L77.7 818.7L91.4 805.5L105.1 800.2L118.7 798.4L132.4 783.3L146.1 776.7L159.7 773.3L173.4 773.1L187.1 771.6L200.7 778.6L214.4 778.6L228.1 776.4L241.7 767.3L255.4 753.5L269.1 750.8L282.7 746.1L296.4 736.1L310.1 731.3L323.8 734.7L337.4 733.2L351.1 725.9L364.8 722.4L378.4 729.5L392.1 738.5L405.8 737.7L419.4 742.9L433.1 748.2L446.8 747.4L460.4 751.3L474.1 756.5L487.8 763.7L501.4 774.3L515.1 777.9L528.8 792.7L542.4 782.3L556.1 783L569.8 782.9L583.4 799.9L597.1 807.7"/>
<path d="M64.1 828.5L77.7 822.9L91.4 810L105.1 804.1L118.7 802L132.4 795.4L146.1 790.8L159.7 783.9L173.4 786.9L187.1 782.9L200.7 781.7L214.4 781L228.1 779.2L241.7 772.5L255.4 755.9L269.1 748.7L282.7 743.2L296.4 734.2L310.1 727.6L323.8 726L337.4 729.8L351.1 724L364.8 728.5L378.4 737.6L392.1 743.7L405.8 735.3L419.4 736L433.1 746.2L446.8 763.5L460.4 774L474.1 781.1L487.8 789.9L501.4 798.7L515.1 799.9L528.8 799.4L542.4 791.6L556.1 795.8L569.8 780.5L583.4 792L597.1 795.8"/>
<path d="M64.1 822.8L77.7 815.5L91.4 803.2L105.1 796.1L118.7 790.2L132.4 779.9L146.1 776L159.7 773.4L173.4 772.2L187.1 767.4L200.7 768.4L214.4 773.6L228.1 773.6L241.7 772L255.4 764L269.1 755.7L282.7 753.4L296.4 743.7L310.1 746.5L323.8 744.6L337.4 750.8L351.1 745.9L364.8 759L378.4 766.3L392.1 761.7L405.8 753.5L419.4 766.7L433.1 785.1L446.8 794.6L460.4 797.4L474.1 799.8L487.8 797.1L501.4 800.3L515.1 796.9L528.8 791.7L542.4 801L556.1 812L569.8 806.2L583.4 831.7L597.1 841.6"/>
<path d="M64.1 834.4L77.7 828.6L91.4 815L105.1 808.3L118.7 805.3L132.4 800.6L146.1 793.6L159.7 807.7L173.4 805.9L187.1 807.3L200.7 808.4L214.4 810.2L228.1 808.9L241.7 808.5L255.4 802.3L269.1 793.8L282.7 798L296.4 788.6L310.1 783.7L323.8 790.5L337.4 781.1L351.1 776.7L364.8 778.9L378.4 780.4L392.1 785.1L405.8 781.9L419.4 794.8L433.1 802.3L446.8 809.3L460.4 795.3L474.1 806.9L487.8 792.2L501.4 797L515.1 795.5L528.8 798.5L542.4 793.4L556.1 805.7L569.8 783.2L583.4 796.8L597.1 812"/>
<path d="M64.1 826.1L77.7 823.1L91.4 807.5L105.1 802.9L118.7 803.1L132.4 795.3L146.1 788.6L159.7 783.9L173.4 781.5L187.1 778.8L200.7 780.4L214.4 784L228.1 785.7L241.7 775.9L255.4 767.4L269.1 762.9L282.7 757.1L296.4 748.6L310.1 741.5L323.8 736.5L337.4 739.6L351.1 730.3L364.8 731.2L378.4 734.3L392.1 743.3L405.8 744.8L419.4 751.9L433.1 762.6L446.8 781.5L460.4 794.2L474.1 809.4L487.8 823.7L501.4 837.2L515.1 838.4L528.8 836.3L542.4 841.7L556.1 841.4L569.8 818.7L583.4 817.1L597.1 835.5"/>
<path d="M64.1 834L77.7 828.9L91.4 810.1L105.1 806.1L118.7 802L132.4 796.3L146.1 789.8L159.7 784.9L173.4 787L187.1 780.7L200.7 782L214.4 783L228.1 787.7L241.7 780.7L255.4 775.9L269.1 778.1L282.7 768.2L296.4 769.2L310.1 762.7L323.8 764.2L337.4 770.1L351.1 761L364.8 744.3L378.4 742.1L392.1 744L405.8 737.5L419.4 731.3L433.1 741.9L446.8 756.8L460.4 783.4L474.1 794.8L487.8 805.9L501.4 832.5L515.1 821.1L528.8 814.5L542.4 802.6L556.1 789.9L569.8 785.4L583.4 797.4L597.1 808.1"/>
</g>
<g class="grid">
<line class="gh" x1="49.8" y1="719.5" x2="620.5" y2="719.5"/>
<line class="gh" x1="49.8" y1="762.5" x2="620.5" y2="762.5"/>
<line class="gh" x1="49.8" y1="805.5" x2="620.5" y2="805.5"/>
<line class="gh" x1="49.8" y1="847.5" x2="620.5" y2="847.5"/>
<line class="gh" x1="49.8" y1="890.5" x2="620.5" y2="890.5"/>
</g>
<path d="M64.1 828.2C65.7 827.5 74.5 825.1 77.7 822.6C80.9 820.1 88.2 809.3 91.4 807C94.6 804.7 101.9 803.6 105.1 803C108.3 802.4 115.5 803.3 118.7 801.8C121.9 800.3 129.2 792.4 132.4 790C135.6 787.6 142.9 782.8 146.1 781.6C149.3 780.4 156.6 780.4 159.7 780C162.9 779.6 170.2 778.9 173.4 778.5C176.6 778.1 183.9 776.9 187.1 777C190.3 777.1 197.6 778.5 200.7 779.2C203.9 779.9 211.2 782.4 214.4 782.9C217.6 783.4 224.9 784.1 228.1 783.4C231.3 782.7 238.6 778.3 241.7 776.6C244.9 774.9 252.2 770.9 255.4 769.2C258.6 767.5 265.9 763.4 269.1 761.8C272.3 760.2 279.6 758.2 282.7 755.9C285.9 753.6 293.2 744.4 296.4 741.8C299.6 739.2 306.9 734.3 310.1 733.3C313.3 732.3 320.6 733 323.8 733C326.9 733 334.2 734 337.4 733.3C340.6 732.6 347.9 728.2 351.1 727.4C354.3 726.6 361.6 726 364.8 726.7C367.9 727.4 375.2 732.2 378.4 733.8C381.6 735.4 388.9 739.4 392.1 740C395.3 740.6 402.6 738.4 405.8 738.8C408.9 739.2 416.2 741.8 419.4 743.8C422.6 745.8 429.9 753 433.1 755.7C436.3 758.4 443.6 765.7 446.8 766.8C449.9 767.9 457.2 764.6 460.4 765.2C463.6 765.8 470.9 770.4 474.1 772.3C477.3 774.2 484.6 779.4 487.8 781.8C490.9 784.2 498.2 791.9 501.4 792.8C504.6 793.7 511.9 789.5 515.1 789.4C518.3 789.3 525.6 791.3 528.8 791.8C532 792.3 539.2 794.4 542.4 794.1C545.6 793.8 552.9 791 556.1 789.4C559.3 787.8 566.6 782.3 569.8 780.7C573 779.1 580.2 776 583.4 776C586.6 776 595.5 780.2 597.1 780.7" fill="none" stroke="#d0ee36" stroke-width="4" stroke-linejoin="round"/>
<path d="M64.1 829C65.7 828.3 74.5 825.9 77.7 823.4C80.9 820.9 88.2 810.1 91.4 807.8C94.6 805.5 101.9 804.4 105.1 803.8C108.3 803.2 115.5 804.1 118.7 802.6C121.9 801.1 129.2 793.2 132.4 790.8C135.6 788.4 142.9 783.6 146.1 782.4C149.3 781.2 156.6 781.2 159.7 780.8C162.9 780.4 170.2 779.6 173.4 779.3C176.6 778.9 183.9 777.7 187.1 777.8C190.3 777.9 197.6 779.3 200.7 780C203.9 780.7 211.2 783.2 214.4 783.7C217.6 784.2 224.9 784.9 228.1 784.2C231.3 783.5 238.6 779.1 241.7 777.4C244.9 775.7 252.2 771.7 255.4 770C258.6 768.3 265.9 764.2 269.1 762.6C272.3 761 279.6 759 282.7 756.7C285.9 754.4 293.2 745.4 296.4 742.6C299.6 739.8 306.9 734.3 310.1 733C313.3 731.7 320.6 731.8 323.8 731.5C326.9 731.2 334.2 731.3 337.4 730.4C340.6 729.5 347.9 723.7 351.1 723.7C354.3 723.7 361.6 728.6 364.8 730.4C367.9 732.2 375.2 737.1 378.4 739.3C381.6 741.5 388.9 747.7 392.1 748.9C395.3 750.1 402.6 748.7 405.8 749.6C408.9 750.5 416.2 754.1 419.4 756.3C422.6 758.5 429.9 765.7 433.1 768.4C436.3 771.1 443.6 779 446.8 779.4C449.9 779.8 457.2 772.2 460.4 771.5C463.6 770.8 470.9 772.6 474.1 773.1C477.3 773.6 484.6 775.6 487.8 776.2C490.9 776.8 498.2 778.6 501.4 778.2C504.6 777.8 511.9 773.6 515.1 772.8C518.3 772 525.6 770.9 528.8 771.3C532 771.7 539.2 775.4 542.4 776C545.6 776.6 552.9 777.1 556.1 776.8C559.3 776.5 566.6 774.2 569.8 773.6C573 773 580.2 771.4 583.4 772C586.6 772.6 595.5 778.3 597.1 779.1" fill="none" stroke="#d0ee36" stroke-width="4" stroke-dasharray="5.6 1.8" stroke-linejoin="round"/>
<path class="fr" d="M50.5 694.5 H624.5 V894.5 H50.5"/>
<g class="tick">
<line x1="50.5" y1="894.5" x2="50.5" y2="901.1"/>
<line x1="64.5" y1="894.5" x2="64.5" y2="899.1"/>
<line x1="77.5" y1="894.5" x2="77.5" y2="899.1"/>
<line x1="91.5" y1="894.5" x2="91.5" y2="899.1"/>
<line x1="105.5" y1="894.5" x2="105.5" y2="901.1"/>
<line x1="118.5" y1="894.5" x2="118.5" y2="899.1"/>
<line x1="132.5" y1="894.5" x2="132.5" y2="899.1"/>
<line x1="146.5" y1="894.5" x2="146.5" y2="899.1"/>
<line x1="159.5" y1="894.5" x2="159.5" y2="901.1"/>
<line x1="173.5" y1="894.5" x2="173.5" y2="899.1"/>
<line x1="187.5" y1="894.5" x2="187.5" y2="899.1"/>
<line x1="200.5" y1="894.5" x2="200.5" y2="899.1"/>
<line x1="214.5" y1="894.5" x2="214.5" y2="901.1"/>
<line x1="228.5" y1="894.5" x2="228.5" y2="899.1"/>
<line x1="241.5" y1="894.5" x2="241.5" y2="899.1"/>
<line x1="255.5" y1="894.5" x2="255.5" y2="899.1"/>
<line x1="269.5" y1="894.5" x2="269.5" y2="901.1"/>
<line x1="282.5" y1="894.5" x2="282.5" y2="899.1"/>
<line x1="296.5" y1="894.5" x2="296.5" y2="899.1"/>
<line x1="310.5" y1="894.5" x2="310.5" y2="899.1"/>
<line x1="323.5" y1="894.5" x2="323.5" y2="901.1"/>
<line x1="337.5" y1="894.5" x2="337.5" y2="899.1"/>
<line x1="351.5" y1="894.5" x2="351.5" y2="899.1"/>
<line x1="364.5" y1="894.5" x2="364.5" y2="899.1"/>
<line x1="378.5" y1="894.5" x2="378.5" y2="901.1"/>
<line x1="392.5" y1="894.5" x2="392.5" y2="899.1"/>
<line x1="405.5" y1="894.5" x2="405.5" y2="899.1"/>
<line x1="419.5" y1="894.5" x2="419.5" y2="899.1"/>
<line x1="433.5" y1="894.5" x2="433.5" y2="901.1"/>
<line x1="446.5" y1="894.5" x2="446.5" y2="899.1"/>
<line x1="460.5" y1="894.5" x2="460.5" y2="899.1"/>
<line x1="474.5" y1="894.5" x2="474.5" y2="899.1"/>
<line x1="487.5" y1="894.5" x2="487.5" y2="901.1"/>
<line x1="501.5" y1="894.5" x2="501.5" y2="899.1"/>
<line x1="515.5" y1="894.5" x2="515.5" y2="899.1"/>
<line x1="528.5" y1="894.5" x2="528.5" y2="899.1"/>
<line x1="542.5" y1="894.5" x2="542.5" y2="901.1"/>
<line x1="556.5" y1="894.5" x2="556.5" y2="899.1"/>
<line x1="569.5" y1="894.5" x2="569.5" y2="899.1"/>
<line x1="583.5" y1="894.5" x2="583.5" y2="899.1"/>
<line x1="597.5" y1="894.5" x2="597.5" y2="901.1"/>
<line x1="610.5" y1="894.5" x2="610.5" y2="899.1"/>
<line x1="624.5" y1="894.5" x2="624.5" y2="899.1"/>
<line x1="42" y1="719.5" x2="50.5" y2="719.5"/>
<line x1="42" y1="762.5" x2="50.5" y2="762.5"/>
<line x1="42" y1="805.5" x2="50.5" y2="805.5"/>
<line x1="42" y1="847.5" x2="50.5" y2="847.5"/>
<line x1="42" y1="890.5" x2="50.5" y2="890.5"/>
</g>
<line class="ax" x1="50.5" y1="694" x2="50.5" y2="901"/>
<text class="tk" x="40.5" y="722.9" text-anchor="end">594</text>
<text class="tk" x="40.5" y="765.9" text-anchor="end">588</text>
<text class="tk" x="40.5" y="808.9" text-anchor="end">582</text>
<text class="tk" x="40.5" y="850.9" text-anchor="end">576</text>
<text class="tk" x="40.5" y="893.9" text-anchor="end">570</text>
<text class="tk" x="78.1" y="916" text-anchor="middle">Mon22</text>
<text class="tk" x="132.8" y="916" text-anchor="middle">Tue23</text>
<text class="tk" x="187.5" y="916" text-anchor="middle">Wed24</text>
<text class="tk" x="242.1" y="916" text-anchor="middle">Thu25</text>
<text class="tk" x="296.8" y="916" text-anchor="middle">Fri26</text>
<text class="tk" x="351.5" y="916" text-anchor="middle">Sat27</text>
<text class="tk" x="406.2" y="916" text-anchor="middle" style="fill:#ff1414;stroke:#ff1414">Sun28</text>
<text class="tk" x="460.8" y="916" text-anchor="middle">Mon29</text>
<text class="tk" x="515.5" y="916" text-anchor="middle">Tue30</text>
<text class="tk" x="570.2" y="916" text-anchor="middle">Wed31</text>
<text class="tk" x="624.8" y="916" text-anchor="middle">Thu 1</text>
<text class="tk" x="77.8" y="932.7" text-anchor="middle">Aug</text>
<text class="tk" x="77.8" y="948.4" text-anchor="middle">2016</text>
<text class="tk" x="624.7" y="932.7" text-anchor="middle">Sep</text>
</svg></body></html>
